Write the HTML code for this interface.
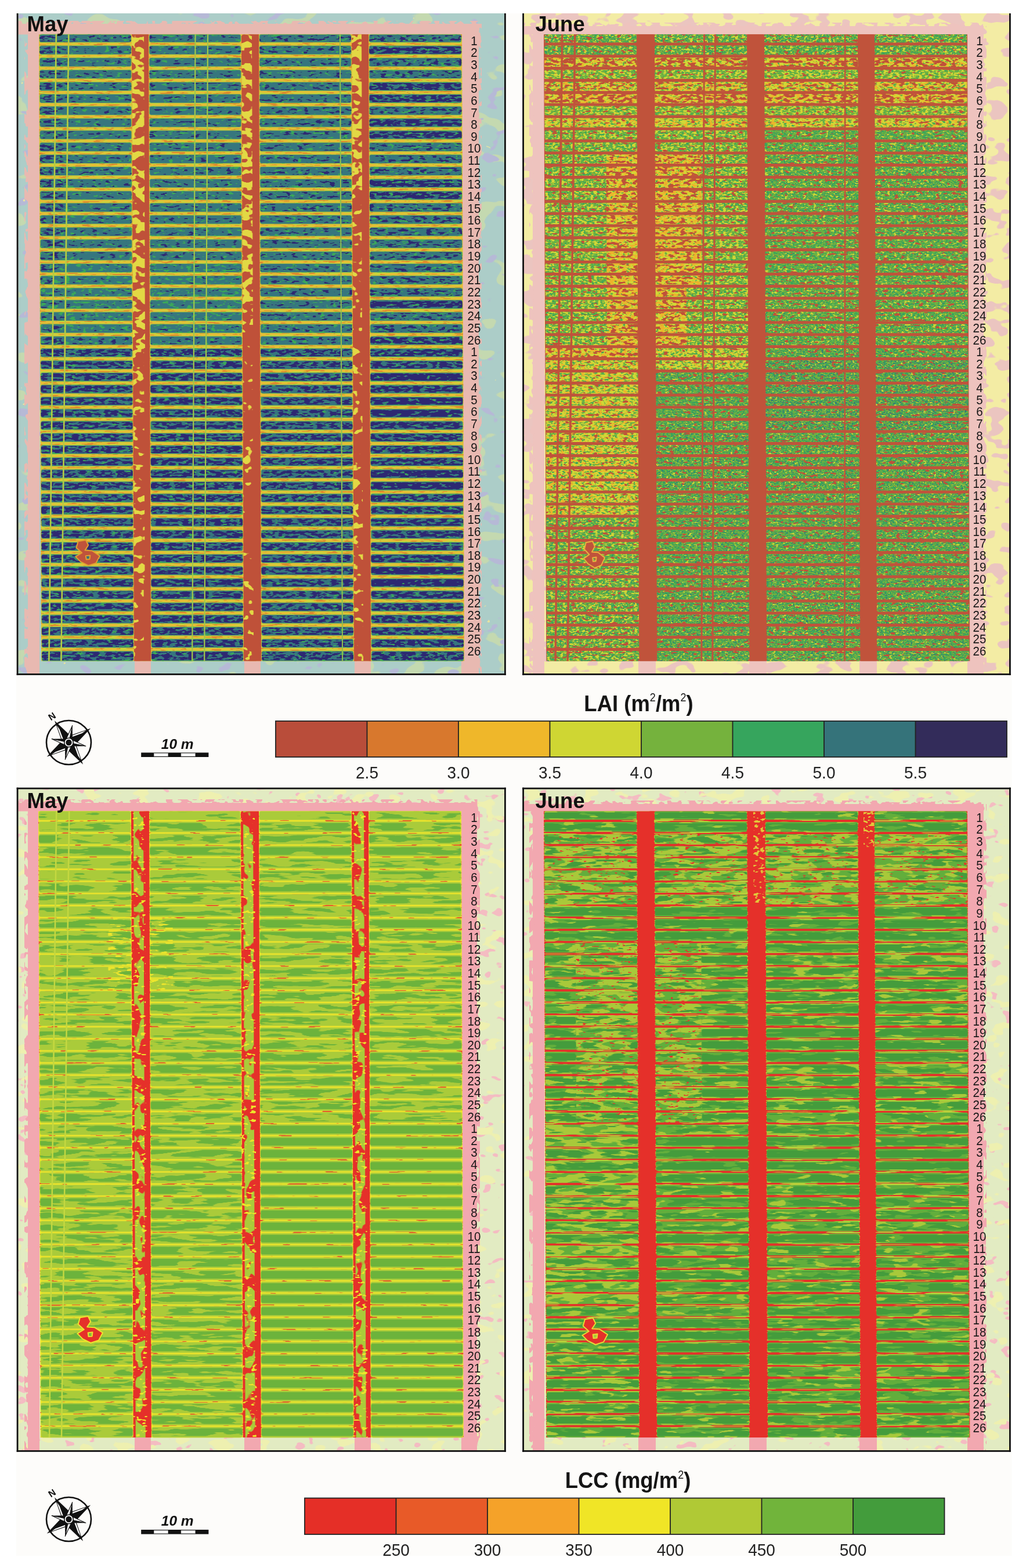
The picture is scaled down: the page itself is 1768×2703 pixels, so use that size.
<!DOCTYPE html>
<html><head><meta charset="utf-8"><title>LAI and LCC maps</title>
<style>html,body{margin:0;padding:0;background:#fff;}svg{display:block;}</style></head>
<body><svg width="1768" height="2703" viewBox="0 0 1768 2703">
<defs><filter id="n1" filterUnits="userSpaceOnUse" x="31.5" y="23" width="837.5" height="1138" color-interpolation-filters="sRGB"><feTurbulence type="fractalNoise" baseFrequency="0.02 0.035" numOctaves="2" seed="3"/><feColorMatrix type="matrix" values="0 0 0 0 0 0 0 0 0 0 0 0 0 0 0 30 0 0 0 -18.818" result="m"/><feComposite in="SourceGraphic" in2="m" operator="in"/></filter><filter id="n2" filterUnits="userSpaceOnUse" x="31.5" y="23" width="837.5" height="1138" color-interpolation-filters="sRGB"><feTurbulence type="fractalNoise" baseFrequency="0.03 0.05" numOctaves="2" seed="7"/><feColorMatrix type="matrix" values="0 0 0 0 0 0 0 0 0 0 0 0 0 0 0 30 0 0 0 -19.664" result="m"/><feComposite in="SourceGraphic" in2="m" operator="in"/></filter><filter id="n3" filterUnits="userSpaceOnUse" x="31.5" y="23" width="837.5" height="1138" color-interpolation-filters="sRGB"><feTurbulence type="fractalNoise" baseFrequency="0.06 0.08" numOctaves="2" seed="9"/><feColorMatrix type="matrix" values="0 0 0 0 0 0 0 0 0 0 0 0 0 0 0 30 0 0 0 -24.064" result="m"/><feComposite in="SourceGraphic" in2="m" operator="in"/></filter><filter id="n4" filterUnits="userSpaceOnUse" x="31.5" y="36" width="793" height="9" color-interpolation-filters="sRGB"><feTurbulence type="fractalNoise" baseFrequency="0.08 0.12" numOctaves="2" seed="81"/><feColorMatrix type="matrix" values="0 0 0 0 0 0 0 0 0 0 0 0 0 0 0 30 0 0 0 -14.911" result="m"/><feComposite in="SourceGraphic" in2="m" operator="in"/></filter><filter id="n5" filterUnits="userSpaceOnUse" x="42" y="41" width="10" height="1120" color-interpolation-filters="sRGB"><feTurbulence type="fractalNoise" baseFrequency="0.1 0.06" numOctaves="2" seed="82"/><feColorMatrix type="matrix" values="0 0 0 0 0 0 0 0 0 0 0 0 0 0 0 30 0 0 0 -14.911" result="m"/><feComposite in="SourceGraphic" in2="m" operator="in"/></filter><filter id="n6" filterUnits="userSpaceOnUse" x="822" y="41" width="8" height="1120" color-interpolation-filters="sRGB"><feTurbulence type="fractalNoise" baseFrequency="0.1 0.06" numOctaves="2" seed="83"/><feColorMatrix type="matrix" values="0 0 0 0 0 0 0 0 0 0 0 0 0 0 0 30 0 0 0 -15.382" result="m"/><feComposite in="SourceGraphic" in2="m" operator="in"/></filter><filter id="n7" filterUnits="userSpaceOnUse" x="67" y="59.3" width="729" height="1080.2" color-interpolation-filters="sRGB"><feTurbulence type="fractalNoise" baseFrequency="0.05 0.4" numOctaves="2" seed="17"/><feColorMatrix type="matrix" values="0 0 0 0 0 0 0 0 0 0 0 0 0 0 0 30 0 0 0 -16.912" result="m"/><feComposite in="SourceGraphic" in2="m" operator="in"/></filter><filter id="n8" filterUnits="userSpaceOnUse" x="67" y="59.3" width="729" height="1080.2" color-interpolation-filters="sRGB"><feTurbulence type="fractalNoise" baseFrequency="0.05 0.4" numOctaves="2" seed="18"/><feColorMatrix type="matrix" values="0 0 0 0 0 0 0 0 0 0 0 0 0 0 0 30 0 0 0 -17.500" result="m"/><feComposite in="SourceGraphic" in2="m" operator="in"/></filter><filter id="n9" filterUnits="userSpaceOnUse" x="105.5" y="57.3" width="501.5" height="1084.2" color-interpolation-filters="sRGB"><feTurbulence type="fractalNoise" baseFrequency="0.1 0.25" numOctaves="2" seed="13"/><feColorMatrix type="matrix" values="0 0 0 0 0 0 0 0 0 0 0 0 0 0 0 30 0 0 0 -19.147" result="m"/><feComposite in="SourceGraphic" in2="m" operator="in"/></filter><filter id="n10" filterUnits="userSpaceOnUse" x="66" y="57.3" width="731" height="1084.2" color-interpolation-filters="sRGB"><feTurbulence type="fractalNoise" baseFrequency="0.1 0.25" numOctaves="2" seed="13"/><feColorMatrix type="matrix" values="0 0 0 0 0 0 0 0 0 0 0 0 0 0 0 30 0 0 0 -18.325" result="m"/><feComposite in="SourceGraphic" in2="m" operator="in"/></filter><filter id="n11" filterUnits="userSpaceOnUse" x="66" y="76.8" width="731" height="520" color-interpolation-filters="sRGB"><feTurbulence type="fractalNoise" baseFrequency="0.1 0.25" numOctaves="2" seed="13"/><feColorMatrix type="matrix" values="0 0 0 0 0 0 0 0 0 0 0 0 0 0 0 30 0 0 0 -17.500" result="m"/><feComposite in="SourceGraphic" in2="m" operator="in"/></filter><filter id="n12" filterUnits="userSpaceOnUse" x="634" y="640.3" width="163" height="373.9" color-interpolation-filters="sRGB"><feTurbulence type="fractalNoise" baseFrequency="0.1 0.25" numOctaves="2" seed="13"/><feColorMatrix type="matrix" values="0 0 0 0 0 0 0 0 0 0 0 0 0 0 0 30 0 0 0 -16.912" result="m"/><feComposite in="SourceGraphic" in2="m" operator="in"/></filter><filter id="n13" filterUnits="userSpaceOnUse" x="105.5" y="454" width="311.5" height="120.4" color-interpolation-filters="sRGB"><feTurbulence type="fractalNoise" baseFrequency="0.09 0.24" numOctaves="2" seed="11"/><feColorMatrix type="matrix" values="0 0 0 0 0 0 0 0 0 0 0 0 0 0 0 30 0 0 0 -20.440" result="m"/><feComposite in="SourceGraphic" in2="m" operator="in"/></filter><filter id="n14" filterUnits="userSpaceOnUse" x="105.5" y="58.8" width="311.5" height="536.5" color-interpolation-filters="sRGB"><feTurbulence type="fractalNoise" baseFrequency="0.09 0.24" numOctaves="2" seed="11"/><feColorMatrix type="matrix" values="0 0 0 0 0 0 0 0 0 0 0 0 0 0 0 30 0 0 0 -19.147" result="m"/><feComposite in="SourceGraphic" in2="m" operator="in"/></filter><filter id="n15" filterUnits="userSpaceOnUse" x="105.5" y="58.8" width="501.5" height="536.5" color-interpolation-filters="sRGB"><feTurbulence type="fractalNoise" baseFrequency="0.09 0.24" numOctaves="2" seed="11"/><feColorMatrix type="matrix" values="0 0 0 0 0 0 0 0 0 0 0 0 0 0 0 30 0 0 0 -18.325" result="m"/><feComposite in="SourceGraphic" in2="m" operator="in"/></filter><filter id="n16" filterUnits="userSpaceOnUse" x="66" y="58.8" width="541" height="515.6" color-interpolation-filters="sRGB"><feTurbulence type="fractalNoise" baseFrequency="0.09 0.24" numOctaves="2" seed="11"/><feColorMatrix type="matrix" values="0 0 0 0 0 0 0 0 0 0 0 0 0 0 0 30 0 0 0 -17.500" result="m"/><feComposite in="SourceGraphic" in2="m" operator="in"/></filter><filter id="n17" filterUnits="userSpaceOnUse" x="634" y="99.2" width="163" height="475.2" color-interpolation-filters="sRGB"><feTurbulence type="fractalNoise" baseFrequency="0.09 0.24" numOctaves="2" seed="11"/><feColorMatrix type="matrix" values="0 0 0 0 0 0 0 0 0 0 0 0 0 0 0 30 0 0 0 -16.912" result="m"/><feComposite in="SourceGraphic" in2="m" operator="in"/></filter><filter id="n18" filterUnits="userSpaceOnUse" x="634" y="58.8" width="163" height="14.7" color-interpolation-filters="sRGB"><feTurbulence type="fractalNoise" baseFrequency="0.09 0.24" numOctaves="2" seed="11"/><feColorMatrix type="matrix" values="0 0 0 0 0 0 0 0 0 0 0 0 0 0 0 30 0 0 0 -16.324" result="m"/><feComposite in="SourceGraphic" in2="m" operator="in"/></filter><filter id="n19" filterUnits="userSpaceOnUse" x="66" y="78.3" width="43.5" height="517" color-interpolation-filters="sRGB"><feTurbulence type="fractalNoise" baseFrequency="0.09 0.24" numOctaves="2" seed="11"/><feColorMatrix type="matrix" values="0 0 0 0 0 0 0 0 0 0 0 0 0 0 0 30 0 0 0 -15.853" result="m"/><feComposite in="SourceGraphic" in2="m" operator="in"/></filter><filter id="n20" filterUnits="userSpaceOnUse" x="66" y="58.8" width="43.5" height="14.7" color-interpolation-filters="sRGB"><feTurbulence type="fractalNoise" baseFrequency="0.09 0.24" numOctaves="2" seed="11"/><feColorMatrix type="matrix" values="0 0 0 0 0 0 0 0 0 0 0 0 0 0 0 30 0 0 0 -15.382" result="m"/><feComposite in="SourceGraphic" in2="m" operator="in"/></filter><filter id="n21" filterUnits="userSpaceOnUse" x="445" y="600" width="162" height="540" color-interpolation-filters="sRGB"><feTurbulence type="fractalNoise" baseFrequency="0.09 0.24" numOctaves="2" seed="11"/><feColorMatrix type="matrix" values="0 0 0 0 0 0 0 0 0 0 0 0 0 0 0 30 0 0 0 -14.560" result="m"/><feComposite in="SourceGraphic" in2="m" operator="in"/></filter><filter id="n22" filterUnits="userSpaceOnUse" x="105.5" y="600" width="122.5" height="540" color-interpolation-filters="sRGB"><feTurbulence type="fractalNoise" baseFrequency="0.09 0.24" numOctaves="2" seed="11"/><feColorMatrix type="matrix" values="0 0 0 0 0 0 0 0 0 0 0 0 0 0 0 30 0 0 0 -14.089" result="m"/><feComposite in="SourceGraphic" in2="m" operator="in"/></filter><filter id="n23" filterUnits="userSpaceOnUse" x="66" y="600" width="731" height="540" color-interpolation-filters="sRGB"><feTurbulence type="fractalNoise" baseFrequency="0.09 0.24" numOctaves="2" seed="11"/><feColorMatrix type="matrix" values="0 0 0 0 0 0 0 0 0 0 0 0 0 0 0 30 0 0 0 -13.618" result="m"/><feComposite in="SourceGraphic" in2="m" operator="in"/></filter><filter id="n24" filterUnits="userSpaceOnUse" x="634" y="78.3" width="163" height="517" color-interpolation-filters="sRGB"><feTurbulence type="fractalNoise" baseFrequency="0.09 0.24" numOctaves="2" seed="11"/><feColorMatrix type="matrix" values="0 0 0 0 0 0 0 0 0 0 0 0 0 0 0 30 0 0 0 -13.147" result="m"/><feComposite in="SourceGraphic" in2="m" operator="in"/></filter><filter id="n25" filterUnits="userSpaceOnUse" x="634" y="641.8" width="163" height="370.9" color-interpolation-filters="sRGB"><feTurbulence type="fractalNoise" baseFrequency="0.09 0.24" numOctaves="2" seed="11"/><feColorMatrix type="matrix" values="0 0 0 0 0 0 0 0 0 0 0 0 0 0 0 30 0 0 0 -10.795" result="m"/><feComposite in="SourceGraphic" in2="m" operator="in"/></filter><filter id="n26" filterUnits="userSpaceOnUse" x="225" y="558" width="210" height="583" color-interpolation-filters="sRGB"><feTurbulence type="fractalNoise" baseFrequency="0.06 0.08" numOctaves="2" seed="21"/><feColorMatrix type="matrix" values="0 0 0 0 0 0 0 0 0 0 0 0 0 0 0 30 0 0 0 -19.147" result="m"/><feComposite in="SourceGraphic" in2="m" operator="in"/></filter><filter id="n27" filterUnits="userSpaceOnUse" x="604" y="328" width="20" height="813" color-interpolation-filters="sRGB"><feTurbulence type="fractalNoise" baseFrequency="0.06 0.08" numOctaves="2" seed="21"/><feColorMatrix type="matrix" values="0 0 0 0 0 0 0 0 0 0 0 0 0 0 0 30 0 0 0 -18.325" result="m"/><feComposite in="SourceGraphic" in2="m" operator="in"/></filter><filter id="n28" filterUnits="userSpaceOnUse" x="225" y="598" width="23" height="404" color-interpolation-filters="sRGB"><feTurbulence type="fractalNoise" baseFrequency="0.06 0.08" numOctaves="2" seed="21"/><feColorMatrix type="matrix" values="0 0 0 0 0 0 0 0 0 0 0 0 0 0 0 30 0 0 0 -16.912" result="m"/><feComposite in="SourceGraphic" in2="m" operator="in"/></filter><filter id="n29" filterUnits="userSpaceOnUse" x="225" y="57.3" width="400" height="544.7" color-interpolation-filters="sRGB"><feTurbulence type="fractalNoise" baseFrequency="0.06 0.08" numOctaves="2" seed="21"/><feColorMatrix type="matrix" values="0 0 0 0 0 0 0 0 0 0 0 0 0 0 0 30 0 0 0 -14.560" result="m"/><feComposite in="SourceGraphic" in2="m" operator="in"/></filter><filter id="n30" filterUnits="userSpaceOnUse" x="903" y="23" width="836" height="1138" color-interpolation-filters="sRGB"><feTurbulence type="fractalNoise" baseFrequency="0.03 0.05" numOctaves="2" seed="4"/><feColorMatrix type="matrix" values="0 0 0 0 0 0 0 0 0 0 0 0 0 0 0 30 0 0 0 -16.324" result="m"/><feComposite in="SourceGraphic" in2="m" operator="in"/></filter><filter id="n31" filterUnits="userSpaceOnUse" x="903" y="39" width="791" height="10" color-interpolation-filters="sRGB"><feTurbulence type="fractalNoise" baseFrequency="0.08 0.12" numOctaves="2" seed="84"/><feColorMatrix type="matrix" values="0 0 0 0 0 0 0 0 0 0 0 0 0 0 0 30 0 0 0 -14.911" result="m"/><feComposite in="SourceGraphic" in2="m" operator="in"/></filter><filter id="n32" filterUnits="userSpaceOnUse" x="912" y="45" width="10" height="1116" color-interpolation-filters="sRGB"><feTurbulence type="fractalNoise" baseFrequency="0.1 0.06" numOctaves="2" seed="85"/><feColorMatrix type="matrix" values="0 0 0 0 0 0 0 0 0 0 0 0 0 0 0 30 0 0 0 -14.911" result="m"/><feComposite in="SourceGraphic" in2="m" operator="in"/></filter><filter id="n33" filterUnits="userSpaceOnUse" x="1692" y="45" width="8" height="1116" color-interpolation-filters="sRGB"><feTurbulence type="fractalNoise" baseFrequency="0.1 0.06" numOctaves="2" seed="86"/><feColorMatrix type="matrix" values="0 0 0 0 0 0 0 0 0 0 0 0 0 0 0 30 0 0 0 -15.382" result="m"/><feComposite in="SourceGraphic" in2="m" operator="in"/></filter><filter id="n34" filterUnits="userSpaceOnUse" x="936" y="118.2" width="732" height="478.8" color-interpolation-filters="sRGB"><feTurbulence type="fractalNoise" baseFrequency="0.28 0.42" numOctaves="2" seed="31"/><feColorMatrix type="matrix" values="0 0 0 0 0 0 0 0 0 0 0 0 0 0 0 30 0 0 0 -16.912" result="m"/><feComposite in="SourceGraphic" in2="m" operator="in"/></filter><filter id="n35" filterUnits="userSpaceOnUse" x="936" y="139.1" width="732" height="750.1" color-interpolation-filters="sRGB"><feTurbulence type="fractalNoise" baseFrequency="0.28 0.42" numOctaves="2" seed="31"/><feColorMatrix type="matrix" values="0 0 0 0 0 0 0 0 0 0 0 0 0 0 0 30 0 0 0 -16.324" result="m"/><feComposite in="SourceGraphic" in2="m" operator="in"/></filter><filter id="n36" filterUnits="userSpaceOnUse" x="936" y="97.4" width="732" height="499.7" color-interpolation-filters="sRGB"><feTurbulence type="fractalNoise" baseFrequency="0.28 0.42" numOctaves="2" seed="31"/><feColorMatrix type="matrix" values="0 0 0 0 0 0 0 0 0 0 0 0 0 0 0 30 0 0 0 -15.853" result="m"/><feComposite in="SourceGraphic" in2="m" operator="in"/></filter><filter id="n37" filterUnits="userSpaceOnUse" x="936" y="890.4" width="163" height="251.1" color-interpolation-filters="sRGB"><feTurbulence type="fractalNoise" baseFrequency="0.28 0.42" numOctaves="2" seed="31"/><feColorMatrix type="matrix" values="0 0 0 0 0 0 0 0 0 0 0 0 0 0 0 30 0 0 0 -15.382" result="m"/><feComposite in="SourceGraphic" in2="m" operator="in"/></filter><filter id="n38" filterUnits="userSpaceOnUse" x="936" y="57.3" width="732" height="1084.2" color-interpolation-filters="sRGB"><feTurbulence type="fractalNoise" baseFrequency="0.28 0.42" numOctaves="2" seed="31"/><feColorMatrix type="matrix" values="0 0 0 0 0 0 0 0 0 0 0 0 0 0 0 30 0 0 0 -14.911" result="m"/><feComposite in="SourceGraphic" in2="m" operator="in"/></filter><filter id="n39" filterUnits="userSpaceOnUse" x="1126" y="598.2" width="542" height="543.2" color-interpolation-filters="sRGB"><feTurbulence type="fractalNoise" baseFrequency="0.18 0.32" numOctaves="2" seed="32"/><feColorMatrix type="matrix" values="0 0 0 0 0 0 0 0 0 0 0 0 0 0 0 30 0 0 0 -19.147" result="m"/><feComposite in="SourceGraphic" in2="m" operator="in"/></filter><filter id="n40" filterUnits="userSpaceOnUse" x="1315" y="222.6" width="353" height="374.5" color-interpolation-filters="sRGB"><feTurbulence type="fractalNoise" baseFrequency="0.18 0.32" numOctaves="2" seed="32"/><feColorMatrix type="matrix" values="0 0 0 0 0 0 0 0 0 0 0 0 0 0 0 30 0 0 0 -18.325" result="m"/><feComposite in="SourceGraphic" in2="m" operator="in"/></filter><filter id="n41" filterUnits="userSpaceOnUse" x="936" y="57.3" width="732" height="38.9" color-interpolation-filters="sRGB"><feTurbulence type="fractalNoise" baseFrequency="0.18 0.32" numOctaves="2" seed="32"/><feColorMatrix type="matrix" values="0 0 0 0 0 0 0 0 0 0 0 0 0 0 0 30 0 0 0 -16.912" result="m"/><feComposite in="SourceGraphic" in2="m" operator="in"/></filter><filter id="n42" filterUnits="userSpaceOnUse" x="936" y="890.4" width="163" height="251.1" color-interpolation-filters="sRGB"><feTurbulence type="fractalNoise" baseFrequency="0.18 0.32" numOctaves="2" seed="32"/><feColorMatrix type="matrix" values="0 0 0 0 0 0 0 0 0 0 0 0 0 0 0 30 0 0 0 -16.324" result="m"/><feComposite in="SourceGraphic" in2="m" operator="in"/></filter><filter id="n43" filterUnits="userSpaceOnUse" x="936" y="222.6" width="353" height="374.5" color-interpolation-filters="sRGB"><feTurbulence type="fractalNoise" baseFrequency="0.18 0.32" numOctaves="2" seed="32"/><feColorMatrix type="matrix" values="0 0 0 0 0 0 0 0 0 0 0 0 0 0 0 30 0 0 0 -15.853" result="m"/><feComposite in="SourceGraphic" in2="m" operator="in"/></filter><filter id="n44" filterUnits="userSpaceOnUse" x="936" y="118.2" width="732" height="82.3" color-interpolation-filters="sRGB"><feTurbulence type="fractalNoise" baseFrequency="0.18 0.32" numOctaves="2" seed="32"/><feColorMatrix type="matrix" values="0 0 0 0 0 0 0 0 0 0 0 0 0 0 0 30 0 0 0 -15.382" result="m"/><feComposite in="SourceGraphic" in2="m" operator="in"/></filter><filter id="n45" filterUnits="userSpaceOnUse" x="936" y="598.2" width="353" height="291" color-interpolation-filters="sRGB"><feTurbulence type="fractalNoise" baseFrequency="0.18 0.32" numOctaves="2" seed="32"/><feColorMatrix type="matrix" values="0 0 0 0 0 0 0 0 0 0 0 0 0 0 0 30 0 0 0 -13.618" result="m"/><feComposite in="SourceGraphic" in2="m" operator="in"/></filter><filter id="n46" filterUnits="userSpaceOnUse" x="936" y="139.1" width="732" height="82.3" color-interpolation-filters="sRGB"><feTurbulence type="fractalNoise" baseFrequency="0.18 0.32" numOctaves="2" seed="32"/><feColorMatrix type="matrix" values="0 0 0 0 0 0 0 0 0 0 0 0 0 0 0 30 0 0 0 -13.147" result="m"/><feComposite in="SourceGraphic" in2="m" operator="in"/></filter><filter id="n47" filterUnits="userSpaceOnUse" x="936" y="598.2" width="163" height="19.7" color-interpolation-filters="sRGB"><feTurbulence type="fractalNoise" baseFrequency="0.18 0.32" numOctaves="2" seed="32"/><feColorMatrix type="matrix" values="0 0 0 0 0 0 0 0 0 0 0 0 0 0 0 30 0 0 0 -12.088" result="m"/><feComposite in="SourceGraphic" in2="m" operator="in"/></filter><filter id="n48" filterUnits="userSpaceOnUse" x="936" y="97.4" width="732" height="499.7" color-interpolation-filters="sRGB"><feTurbulence type="fractalNoise" baseFrequency="0.18 0.32" numOctaves="2" seed="32"/><feColorMatrix type="matrix" values="0 0 0 0 0 0 0 0 0 0 0 0 0 0 0 30 0 0 0 -11.500" result="m"/><feComposite in="SourceGraphic" in2="m" operator="in"/></filter><filter id="n49" filterUnits="userSpaceOnUse" x="1126" y="598.2" width="163" height="40.5" color-interpolation-filters="sRGB"><feTurbulence type="fractalNoise" baseFrequency="0.14 0.28" numOctaves="2" seed="33"/><feColorMatrix type="matrix" values="0 0 0 0 0 0 0 0 0 0 0 0 0 0 0 30 0 0 0 -19.147" result="m"/><feComposite in="SourceGraphic" in2="m" operator="in"/></filter><filter id="n50" filterUnits="userSpaceOnUse" x="936" y="619.1" width="163" height="270.1" color-interpolation-filters="sRGB"><feTurbulence type="fractalNoise" baseFrequency="0.14 0.28" numOctaves="2" seed="33"/><feColorMatrix type="matrix" values="0 0 0 0 0 0 0 0 0 0 0 0 0 0 0 30 0 0 0 -17.500" result="m"/><feComposite in="SourceGraphic" in2="m" operator="in"/></filter><filter id="n51" filterUnits="userSpaceOnUse" x="936" y="201.7" width="732" height="19.7" color-interpolation-filters="sRGB"><feTurbulence type="fractalNoise" baseFrequency="0.14 0.28" numOctaves="2" seed="33"/><feColorMatrix type="matrix" values="0 0 0 0 0 0 0 0 0 0 0 0 0 0 0 30 0 0 0 -16.912" result="m"/><feComposite in="SourceGraphic" in2="m" operator="in"/></filter><filter id="n52" filterUnits="userSpaceOnUse" x="936" y="97.4" width="732" height="61.4" color-interpolation-filters="sRGB"><feTurbulence type="fractalNoise" baseFrequency="0.14 0.28" numOctaves="2" seed="33"/><feColorMatrix type="matrix" values="0 0 0 0 0 0 0 0 0 0 0 0 0 0 0 30 0 0 0 -16.324" result="m"/><feComposite in="SourceGraphic" in2="m" operator="in"/></filter><filter id="n53" filterUnits="userSpaceOnUse" x="936" y="160" width="732" height="19.7" color-interpolation-filters="sRGB"><feTurbulence type="fractalNoise" baseFrequency="0.14 0.28" numOctaves="2" seed="33"/><feColorMatrix type="matrix" values="0 0 0 0 0 0 0 0 0 0 0 0 0 0 0 30 0 0 0 -15.382" result="m"/><feComposite in="SourceGraphic" in2="m" operator="in"/></filter><filter id="n54" filterUnits="userSpaceOnUse" x="936" y="264.3" width="273.5" height="353.6" color-interpolation-filters="sRGB"><feTurbulence type="fractalNoise" baseFrequency="0.14 0.28" numOctaves="2" seed="33"/><feColorMatrix type="matrix" values="0 0 0 0 0 0 0 0 0 0 0 0 0 0 0 30 0 0 0 -14.911" result="m"/><feComposite in="SourceGraphic" in2="m" operator="in"/></filter><filter id="n55" filterUnits="userSpaceOnUse" x="936" y="57.3" width="732" height="1084.2" color-interpolation-filters="sRGB"><feTurbulence type="fractalNoise" baseFrequency="0.35 0.5" numOctaves="2" seed="35"/><feColorMatrix type="matrix" values="0 0 0 0 0 0 0 0 0 0 0 0 0 0 0 30 0 0 0 -20.440" result="m"/><feComposite in="SourceGraphic" in2="m" operator="in"/></filter><filter id="n56" filterUnits="userSpaceOnUse" x="1126" y="598.2" width="542" height="543.2" color-interpolation-filters="sRGB"><feTurbulence type="fractalNoise" baseFrequency="0.35 0.5" numOctaves="2" seed="35"/><feColorMatrix type="matrix" values="0 0 0 0 0 0 0 0 0 0 0 0 0 0 0 30 0 0 0 -19.147" result="m"/><feComposite in="SourceGraphic" in2="m" operator="in"/></filter><filter id="n57" filterUnits="userSpaceOnUse" x="1315" y="619.1" width="353" height="124" color-interpolation-filters="sRGB"><feTurbulence type="fractalNoise" baseFrequency="0.35 0.5" numOctaves="2" seed="35"/><feColorMatrix type="matrix" values="0 0 0 0 0 0 0 0 0 0 0 0 0 0 0 30 0 0 0 -17.500" result="m"/><feComposite in="SourceGraphic" in2="m" operator="in"/></filter><filter id="n58" filterUnits="userSpaceOnUse" x="936" y="57.3" width="732" height="1084.2" color-interpolation-filters="sRGB"><feTurbulence type="fractalNoise" baseFrequency="0.1 0.22" numOctaves="2" seed="34"/><feColorMatrix type="matrix" values="0 0 0 0 0 0 0 0 0 0 0 0 0 0 0 30 0 0 0 -19.147" result="m"/><feComposite in="SourceGraphic" in2="m" operator="in"/></filter><filter id="n59" filterUnits="userSpaceOnUse" x="936" y="201.7" width="732" height="19.7" color-interpolation-filters="sRGB"><feTurbulence type="fractalNoise" baseFrequency="0.1 0.22" numOctaves="2" seed="34"/><feColorMatrix type="matrix" values="0 0 0 0 0 0 0 0 0 0 0 0 0 0 0 30 0 0 0 -18.325" result="m"/><feComposite in="SourceGraphic" in2="m" operator="in"/></filter><filter id="n60" filterUnits="userSpaceOnUse" x="936" y="139.1" width="732" height="19.7" color-interpolation-filters="sRGB"><feTurbulence type="fractalNoise" baseFrequency="0.1 0.22" numOctaves="2" seed="34"/><feColorMatrix type="matrix" values="0 0 0 0 0 0 0 0 0 0 0 0 0 0 0 30 0 0 0 -16.912" result="m"/><feComposite in="SourceGraphic" in2="m" operator="in"/></filter><filter id="n61" filterUnits="userSpaceOnUse" x="936" y="264.3" width="273.5" height="353.6" color-interpolation-filters="sRGB"><feTurbulence type="fractalNoise" baseFrequency="0.1 0.22" numOctaves="2" seed="34"/><feColorMatrix type="matrix" values="0 0 0 0 0 0 0 0 0 0 0 0 0 0 0 30 0 0 0 -16.324" result="m"/><feComposite in="SourceGraphic" in2="m" operator="in"/></filter><filter id="n62" filterUnits="userSpaceOnUse" x="936" y="97.4" width="732" height="82.3" color-interpolation-filters="sRGB"><feTurbulence type="fractalNoise" baseFrequency="0.1 0.22" numOctaves="2" seed="34"/><feColorMatrix type="matrix" values="0 0 0 0 0 0 0 0 0 0 0 0 0 0 0 30 0 0 0 -14.911" result="m"/><feComposite in="SourceGraphic" in2="m" operator="in"/></filter><filter id="n63" filterUnits="userSpaceOnUse" x="31.5" y="1360.5" width="837.5" height="1139.5" color-interpolation-filters="sRGB"><feTurbulence type="fractalNoise" baseFrequency="0.04 0.06" numOctaves="2" seed="5"/><feColorMatrix type="matrix" values="0 0 0 0 0 0 0 0 0 0 0 0 0 0 0 30 0 0 0 -20.181" result="m"/><feComposite in="SourceGraphic" in2="m" operator="in"/></filter><filter id="n64" filterUnits="userSpaceOnUse" x="31.5" y="1360.5" width="837.5" height="1139.5" color-interpolation-filters="sRGB"><feTurbulence type="fractalNoise" baseFrequency="0.03 0.05" numOctaves="2" seed="8"/><feColorMatrix type="matrix" values="0 0 0 0 0 0 0 0 0 0 0 0 0 0 0 30 0 0 0 -18.325" result="m"/><feComposite in="SourceGraphic" in2="m" operator="in"/></filter><filter id="n65" filterUnits="userSpaceOnUse" x="31.5" y="1378" width="791" height="10" color-interpolation-filters="sRGB"><feTurbulence type="fractalNoise" baseFrequency="0.08 0.12" numOctaves="2" seed="87"/><feColorMatrix type="matrix" values="0 0 0 0 0 0 0 0 0 0 0 0 0 0 0 30 0 0 0 -14.911" result="m"/><feComposite in="SourceGraphic" in2="m" operator="in"/></filter><filter id="n66" filterUnits="userSpaceOnUse" x="42" y="1384" width="10" height="1116" color-interpolation-filters="sRGB"><feTurbulence type="fractalNoise" baseFrequency="0.1 0.06" numOctaves="2" seed="88"/><feColorMatrix type="matrix" values="0 0 0 0 0 0 0 0 0 0 0 0 0 0 0 30 0 0 0 -14.911" result="m"/><feComposite in="SourceGraphic" in2="m" operator="in"/></filter><filter id="n67" filterUnits="userSpaceOnUse" x="819" y="1384" width="8" height="1116" color-interpolation-filters="sRGB"><feTurbulence type="fractalNoise" baseFrequency="0.1 0.06" numOctaves="2" seed="89"/><feColorMatrix type="matrix" values="0 0 0 0 0 0 0 0 0 0 0 0 0 0 0 30 0 0 0 -15.382" result="m"/><feComposite in="SourceGraphic" in2="m" operator="in"/></filter><filter id="n68" filterUnits="userSpaceOnUse" x="66" y="1398.4" width="729" height="1079.6" color-interpolation-filters="sRGB"><feTurbulence type="fractalNoise" baseFrequency="0.04 0.35" numOctaves="2" seed="19"/><feColorMatrix type="matrix" values="0 0 0 0 0 0 0 0 0 0 0 0 0 0 0 30 0 0 0 -18.325" result="m"/><feComposite in="SourceGraphic" in2="m" operator="in"/></filter><filter id="n69" filterUnits="userSpaceOnUse" x="183.5" y="1623.1" width="43.5" height="84.7" color-interpolation-filters="sRGB"><feTurbulence type="fractalNoise" baseFrequency="0.06 0.15" numOctaves="2" seed="42"/><feColorMatrix type="matrix" values="0 0 0 0 0 0 0 0 0 0 0 0 0 0 0 30 0 0 0 -17.500" result="m"/><feComposite in="SourceGraphic" in2="m" operator="in"/></filter><filter id="n70" filterUnits="userSpaceOnUse" x="256" y="1623.1" width="43" height="84.7" color-interpolation-filters="sRGB"><feTurbulence type="fractalNoise" baseFrequency="0.06 0.15" numOctaves="2" seed="42"/><feColorMatrix type="matrix" values="0 0 0 0 0 0 0 0 0 0 0 0 0 0 0 30 0 0 0 -16.912" result="m"/><feComposite in="SourceGraphic" in2="m" operator="in"/></filter><filter id="n71" filterUnits="userSpaceOnUse" x="183.5" y="1581.4" width="43.5" height="42.9" color-interpolation-filters="sRGB"><feTurbulence type="fractalNoise" baseFrequency="0.06 0.15" numOctaves="2" seed="42"/><feColorMatrix type="matrix" values="0 0 0 0 0 0 0 0 0 0 0 0 0 0 0 30 0 0 0 -16.324" result="m"/><feComposite in="SourceGraphic" in2="m" operator="in"/></filter><filter id="n72" filterUnits="userSpaceOnUse" x="256" y="1581.4" width="43" height="42.9" color-interpolation-filters="sRGB"><feTurbulence type="fractalNoise" baseFrequency="0.06 0.15" numOctaves="2" seed="42"/><feColorMatrix type="matrix" values="0 0 0 0 0 0 0 0 0 0 0 0 0 0 0 30 0 0 0 -15.853" result="m"/><feComposite in="SourceGraphic" in2="m" operator="in"/></filter><filter id="n73" filterUnits="userSpaceOnUse" x="65" y="1398.8" width="162" height="14.4" color-interpolation-filters="sRGB"><feTurbulence type="fractalNoise" baseFrequency="0.02 0.14" numOctaves="2" seed="41"/><feColorMatrix type="matrix" values="0 0 0 0 0 0 0 0 0 0 0 0 0 0 0 30 0 0 0 -20.440" result="m"/><feComposite in="SourceGraphic" in2="m" operator="in"/></filter><filter id="n74" filterUnits="userSpaceOnUse" x="256" y="1398.8" width="160" height="14.4" color-interpolation-filters="sRGB"><feTurbulence type="fractalNoise" baseFrequency="0.02 0.14" numOctaves="2" seed="41"/><feColorMatrix type="matrix" values="0 0 0 0 0 0 0 0 0 0 0 0 0 0 0 30 0 0 0 -17.500" result="m"/><feComposite in="SourceGraphic" in2="m" operator="in"/></filter><filter id="n75" filterUnits="userSpaceOnUse" x="65" y="1398.8" width="731" height="118.7" color-interpolation-filters="sRGB"><feTurbulence type="fractalNoise" baseFrequency="0.02 0.14" numOctaves="2" seed="41"/><feColorMatrix type="matrix" values="0 0 0 0 0 0 0 0 0 0 0 0 0 0 0 30 0 0 0 -16.912" result="m"/><feComposite in="SourceGraphic" in2="m" operator="in"/></filter><filter id="n76" filterUnits="userSpaceOnUse" x="256" y="1479.4" width="160" height="38.1" color-interpolation-filters="sRGB"><feTurbulence type="fractalNoise" baseFrequency="0.02 0.14" numOctaves="2" seed="41"/><feColorMatrix type="matrix" values="0 0 0 0 0 0 0 0 0 0 0 0 0 0 0 30 0 0 0 -15.853" result="m"/><feComposite in="SourceGraphic" in2="m" operator="in"/></filter><filter id="n77" filterUnits="userSpaceOnUse" x="65" y="1416.8" width="731" height="518.1" color-interpolation-filters="sRGB"><feTurbulence type="fractalNoise" baseFrequency="0.02 0.14" numOctaves="2" seed="41"/><feColorMatrix type="matrix" values="0 0 0 0 0 0 0 0 0 0 0 0 0 0 0 30 0 0 0 -15.382" result="m"/><feComposite in="SourceGraphic" in2="m" operator="in"/></filter><filter id="n78" filterUnits="userSpaceOnUse" x="256" y="1416.8" width="160" height="518.1" color-interpolation-filters="sRGB"><feTurbulence type="fractalNoise" baseFrequency="0.02 0.14" numOctaves="2" seed="41"/><feColorMatrix type="matrix" values="0 0 0 0 0 0 0 0 0 0 0 0 0 0 0 30 0 0 0 -14.560" result="m"/><feComposite in="SourceGraphic" in2="m" operator="in"/></filter><filter id="n79" filterUnits="userSpaceOnUse" x="65" y="1416.8" width="731" height="1060.8" color-interpolation-filters="sRGB"><feTurbulence type="fractalNoise" baseFrequency="0.02 0.14" numOctaves="2" seed="41"/><feColorMatrix type="matrix" values="0 0 0 0 0 0 0 0 0 0 0 0 0 0 0 30 0 0 0 -14.089" result="m"/><feComposite in="SourceGraphic" in2="m" operator="in"/></filter><filter id="n80" filterUnits="userSpaceOnUse" x="65" y="1458.5" width="351" height="1019.1" color-interpolation-filters="sRGB"><feTurbulence type="fractalNoise" baseFrequency="0.02 0.14" numOctaves="2" seed="41"/><feColorMatrix type="matrix" values="0 0 0 0 0 0 0 0 0 0 0 0 0 0 0 30 0 0 0 -12.676" result="m"/><feComposite in="SourceGraphic" in2="m" operator="in"/></filter><filter id="n81" filterUnits="userSpaceOnUse" x="256" y="1458.5" width="160" height="392.9" color-interpolation-filters="sRGB"><feTurbulence type="fractalNoise" baseFrequency="0.02 0.14" numOctaves="2" seed="41"/><feColorMatrix type="matrix" values="0 0 0 0 0 0 0 0 0 0 0 0 0 0 0 30 0 0 0 -11.500" result="m"/><feComposite in="SourceGraphic" in2="m" operator="in"/></filter><filter id="n82" filterUnits="userSpaceOnUse" x="445" y="1458.5" width="351" height="392.9" color-interpolation-filters="sRGB"><feTurbulence type="fractalNoise" baseFrequency="0.02 0.14" numOctaves="2" seed="41"/><feColorMatrix type="matrix" values="0 0 0 0 0 0 0 0 0 0 0 0 0 0 0 30 0 0 0 -10.795" result="m"/><feComposite in="SourceGraphic" in2="m" operator="in"/></filter><filter id="n83" filterUnits="userSpaceOnUse" x="228" y="1396.4" width="401" height="1083.6" color-interpolation-filters="sRGB"><feTurbulence type="fractalNoise" baseFrequency="0.05 0.035" numOctaves="2" seed="51"/><feColorMatrix type="matrix" values="0 0 0 0 0 0 0 0 0 0 0 0 0 0 0 30 0 0 0 -13.618" result="m"/><feComposite in="SourceGraphic" in2="m" operator="in"/></filter><filter id="n84" filterUnits="userSpaceOnUse" x="224" y="1396.4" width="408" height="1083.6" color-interpolation-filters="sRGB"><feTurbulence type="fractalNoise" baseFrequency="0.1 0.2" numOctaves="2" seed="52"/><feColorMatrix type="matrix" values="0 0 0 0 0 0 0 0 0 0 0 0 0 0 0 30 0 0 0 -19.147" result="m"/><feComposite in="SourceGraphic" in2="m" operator="in"/></filter><filter id="n85" filterUnits="userSpaceOnUse" x="903" y="1360.5" width="836" height="1139.5" color-interpolation-filters="sRGB"><feTurbulence type="fractalNoise" baseFrequency="0.04 0.06" numOctaves="2" seed="6"/><feColorMatrix type="matrix" values="0 0 0 0 0 0 0 0 0 0 0 0 0 0 0 30 0 0 0 -20.181" result="m"/><feComposite in="SourceGraphic" in2="m" operator="in"/></filter><filter id="n86" filterUnits="userSpaceOnUse" x="903" y="1360.5" width="836" height="1139.5" color-interpolation-filters="sRGB"><feTurbulence type="fractalNoise" baseFrequency="0.03 0.05" numOctaves="2" seed="10"/><feColorMatrix type="matrix" values="0 0 0 0 0 0 0 0 0 0 0 0 0 0 0 30 0 0 0 -18.325" result="m"/><feComposite in="SourceGraphic" in2="m" operator="in"/></filter><filter id="n87" filterUnits="userSpaceOnUse" x="903" y="1380" width="791" height="10" color-interpolation-filters="sRGB"><feTurbulence type="fractalNoise" baseFrequency="0.08 0.12" numOctaves="2" seed="90"/><feColorMatrix type="matrix" values="0 0 0 0 0 0 0 0 0 0 0 0 0 0 0 30 0 0 0 -14.911" result="m"/><feComposite in="SourceGraphic" in2="m" operator="in"/></filter><filter id="n88" filterUnits="userSpaceOnUse" x="912" y="1386" width="10" height="1114" color-interpolation-filters="sRGB"><feTurbulence type="fractalNoise" baseFrequency="0.1 0.06" numOctaves="2" seed="91"/><feColorMatrix type="matrix" values="0 0 0 0 0 0 0 0 0 0 0 0 0 0 0 30 0 0 0 -14.911" result="m"/><feComposite in="SourceGraphic" in2="m" operator="in"/></filter><filter id="n89" filterUnits="userSpaceOnUse" x="1692" y="1386" width="8" height="1114" color-interpolation-filters="sRGB"><feTurbulence type="fractalNoise" baseFrequency="0.1 0.06" numOctaves="2" seed="92"/><feColorMatrix type="matrix" values="0 0 0 0 0 0 0 0 0 0 0 0 0 0 0 30 0 0 0 -15.382" result="m"/><feComposite in="SourceGraphic" in2="m" operator="in"/></filter><filter id="n90" filterUnits="userSpaceOnUse" x="937" y="1398.4" width="730" height="1079.6" color-interpolation-filters="sRGB"><feTurbulence type="fractalNoise" baseFrequency="0.012 0.5" numOctaves="2" seed="64"/><feColorMatrix type="matrix" values="0 0 0 0 0 0 0 0 0 0 0 0 0 0 0 30 0 0 0 -12.441" result="m"/><feComposite in="SourceGraphic" in2="m" operator="in"/></filter><filter id="n91" filterUnits="userSpaceOnUse" x="936" y="1396.4" width="732" height="957.8" color-interpolation-filters="sRGB"><feTurbulence type="fractalNoise" baseFrequency="0.03 0.1" numOctaves="2" seed="62"/><feColorMatrix type="matrix" values="0 0 0 0 0 0 0 0 0 0 0 0 0 0 0 30 0 0 0 -17.500" result="m"/><feComposite in="SourceGraphic" in2="m" operator="in"/></filter><filter id="n92" filterUnits="userSpaceOnUse" x="936" y="1769.8" width="732" height="710.2" color-interpolation-filters="sRGB"><feTurbulence type="fractalNoise" baseFrequency="0.03 0.1" numOctaves="2" seed="62"/><feColorMatrix type="matrix" values="0 0 0 0 0 0 0 0 0 0 0 0 0 0 0 30 0 0 0 -16.912" result="m"/><feComposite in="SourceGraphic" in2="m" operator="in"/></filter><filter id="n93" filterUnits="userSpaceOnUse" x="936" y="1623.7" width="732" height="751.3" color-interpolation-filters="sRGB"><feTurbulence type="fractalNoise" baseFrequency="0.03 0.1" numOctaves="2" seed="62"/><feColorMatrix type="matrix" values="0 0 0 0 0 0 0 0 0 0 0 0 0 0 0 30 0 0 0 -16.324" result="m"/><feComposite in="SourceGraphic" in2="m" operator="in"/></filter><filter id="n94" filterUnits="userSpaceOnUse" x="936" y="1644.6" width="732" height="292.2" color-interpolation-filters="sRGB"><feTurbulence type="fractalNoise" baseFrequency="0.03 0.1" numOctaves="2" seed="62"/><feColorMatrix type="matrix" values="0 0 0 0 0 0 0 0 0 0 0 0 0 0 0 30 0 0 0 -15.853" result="m"/><feComposite in="SourceGraphic" in2="m" operator="in"/></filter><filter id="n95" filterUnits="userSpaceOnUse" x="936" y="1895" width="353" height="375.7" color-interpolation-filters="sRGB"><feTurbulence type="fractalNoise" baseFrequency="0.03 0.1" numOctaves="2" seed="62"/><feColorMatrix type="matrix" values="0 0 0 0 0 0 0 0 0 0 0 0 0 0 0 30 0 0 0 -15.382" result="m"/><feComposite in="SourceGraphic" in2="m" operator="in"/></filter><filter id="n96" filterUnits="userSpaceOnUse" x="936" y="1623.7" width="732" height="730.5" color-interpolation-filters="sRGB"><feTurbulence type="fractalNoise" baseFrequency="0.03 0.1" numOctaves="2" seed="62"/><feColorMatrix type="matrix" values="0 0 0 0 0 0 0 0 0 0 0 0 0 0 0 30 0 0 0 -14.911" result="m"/><feComposite in="SourceGraphic" in2="m" operator="in"/></filter><filter id="n97" filterUnits="userSpaceOnUse" x="936" y="1686.3" width="732" height="688.7" color-interpolation-filters="sRGB"><feTurbulence type="fractalNoise" baseFrequency="0.03 0.1" numOctaves="2" seed="62"/><feColorMatrix type="matrix" values="0 0 0 0 0 0 0 0 0 0 0 0 0 0 0 30 0 0 0 -14.560" result="m"/><feComposite in="SourceGraphic" in2="m" operator="in"/></filter><filter id="n98" filterUnits="userSpaceOnUse" x="936" y="1435.9" width="732" height="1044.1" color-interpolation-filters="sRGB"><feTurbulence type="fractalNoise" baseFrequency="0.03 0.1" numOctaves="2" seed="62"/><feColorMatrix type="matrix" values="0 0 0 0 0 0 0 0 0 0 0 0 0 0 0 30 0 0 0 -14.089" result="m"/><feComposite in="SourceGraphic" in2="m" operator="in"/></filter><filter id="n99" filterUnits="userSpaceOnUse" x="936" y="1435.9" width="732" height="1001.8" color-interpolation-filters="sRGB"><feTurbulence type="fractalNoise" baseFrequency="0.03 0.1" numOctaves="2" seed="62"/><feColorMatrix type="matrix" values="0 0 0 0 0 0 0 0 0 0 0 0 0 0 0 30 0 0 0 -13.618" result="m"/><feComposite in="SourceGraphic" in2="m" operator="in"/></filter><filter id="n100" filterUnits="userSpaceOnUse" x="936" y="1456.7" width="353" height="20.9" color-interpolation-filters="sRGB"><feTurbulence type="fractalNoise" baseFrequency="0.03 0.1" numOctaves="2" seed="62"/><feColorMatrix type="matrix" values="0 0 0 0 0 0 0 0 0 0 0 0 0 0 0 30 0 0 0 -13.147" result="m"/><feComposite in="SourceGraphic" in2="m" operator="in"/></filter><filter id="n101" filterUnits="userSpaceOnUse" x="936" y="1540.2" width="353" height="918.3" color-interpolation-filters="sRGB"><feTurbulence type="fractalNoise" baseFrequency="0.03 0.1" numOctaves="2" seed="62"/><feColorMatrix type="matrix" values="0 0 0 0 0 0 0 0 0 0 0 0 0 0 0 30 0 0 0 -12.676" result="m"/><feComposite in="SourceGraphic" in2="m" operator="in"/></filter><filter id="n102" filterUnits="userSpaceOnUse" x="936" y="1435.9" width="732" height="500.9" color-interpolation-filters="sRGB"><feTurbulence type="fractalNoise" baseFrequency="0.1 0.3" numOctaves="2" seed="63"/><feColorMatrix type="matrix" values="0 0 0 0 0 0 0 0 0 0 0 0 0 0 0 30 0 0 0 -20.440" result="m"/><feComposite in="SourceGraphic" in2="m" operator="in"/></filter><filter id="n103" filterUnits="userSpaceOnUse" x="936" y="2147.6" width="163" height="16.5" color-interpolation-filters="sRGB"><feTurbulence type="fractalNoise" baseFrequency="0.025 0.14" numOctaves="2" seed="61"/><feColorMatrix type="matrix" values="0 0 0 0 0 0 0 0 0 0 0 0 0 0 0 30 0 0 0 -20.440" result="m"/><feComposite in="SourceGraphic" in2="m" operator="in"/></filter><filter id="n104" filterUnits="userSpaceOnUse" x="989" y="1625.9" width="220.5" height="16.5" color-interpolation-filters="sRGB"><feTurbulence type="fractalNoise" baseFrequency="0.025 0.14" numOctaves="2" seed="61"/><feColorMatrix type="matrix" values="0 0 0 0 0 0 0 0 0 0 0 0 0 0 0 30 0 0 0 -19.147" result="m"/><feComposite in="SourceGraphic" in2="m" operator="in"/></filter><filter id="n105" filterUnits="userSpaceOnUse" x="936" y="1521.5" width="732" height="726.1" color-interpolation-filters="sRGB"><feTurbulence type="fractalNoise" baseFrequency="0.025 0.14" numOctaves="2" seed="61"/><feColorMatrix type="matrix" values="0 0 0 0 0 0 0 0 0 0 0 0 0 0 0 30 0 0 0 -18.325" result="m"/><feComposite in="SourceGraphic" in2="m" operator="in"/></filter><filter id="n106" filterUnits="userSpaceOnUse" x="936" y="1438.1" width="732" height="600.8" color-interpolation-filters="sRGB"><feTurbulence type="fractalNoise" baseFrequency="0.025 0.14" numOctaves="2" seed="61"/><feColorMatrix type="matrix" values="0 0 0 0 0 0 0 0 0 0 0 0 0 0 0 30 0 0 0 -17.500" result="m"/><feComposite in="SourceGraphic" in2="m" operator="in"/></filter><filter id="n107" filterUnits="userSpaceOnUse" x="936" y="1479.8" width="732" height="746.9" color-interpolation-filters="sRGB"><feTurbulence type="fractalNoise" baseFrequency="0.025 0.14" numOctaves="2" seed="61"/><feColorMatrix type="matrix" values="0 0 0 0 0 0 0 0 0 0 0 0 0 0 0 30 0 0 0 -16.912" result="m"/><feComposite in="SourceGraphic" in2="m" operator="in"/></filter><filter id="n108" filterUnits="userSpaceOnUse" x="936" y="1438.1" width="732" height="684.3" color-interpolation-filters="sRGB"><feTurbulence type="fractalNoise" baseFrequency="0.025 0.14" numOctaves="2" seed="61"/><feColorMatrix type="matrix" values="0 0 0 0 0 0 0 0 0 0 0 0 0 0 0 30 0 0 0 -16.324" result="m"/><feComposite in="SourceGraphic" in2="m" operator="in"/></filter><filter id="n109" filterUnits="userSpaceOnUse" x="936" y="1458.9" width="353" height="433.9" color-interpolation-filters="sRGB"><feTurbulence type="fractalNoise" baseFrequency="0.025 0.14" numOctaves="2" seed="61"/><feColorMatrix type="matrix" values="0 0 0 0 0 0 0 0 0 0 0 0 0 0 0 30 0 0 0 -15.853" result="m"/><feComposite in="SourceGraphic" in2="m" operator="in"/></filter><filter id="n110" filterUnits="userSpaceOnUse" x="936" y="1542.4" width="732" height="830.4" color-interpolation-filters="sRGB"><feTurbulence type="fractalNoise" baseFrequency="0.025 0.14" numOctaves="2" seed="61"/><feColorMatrix type="matrix" values="0 0 0 0 0 0 0 0 0 0 0 0 0 0 0 30 0 0 0 -15.382" result="m"/><feComposite in="SourceGraphic" in2="m" operator="in"/></filter><filter id="n111" filterUnits="userSpaceOnUse" x="936" y="1730.2" width="732" height="538.2" color-interpolation-filters="sRGB"><feTurbulence type="fractalNoise" baseFrequency="0.025 0.14" numOctaves="2" seed="61"/><feColorMatrix type="matrix" values="0 0 0 0 0 0 0 0 0 0 0 0 0 0 0 30 0 0 0 -14.911" result="m"/><feComposite in="SourceGraphic" in2="m" operator="in"/></filter><filter id="n112" filterUnits="userSpaceOnUse" x="936" y="1646.8" width="732" height="746.9" color-interpolation-filters="sRGB"><feTurbulence type="fractalNoise" baseFrequency="0.025 0.14" numOctaves="2" seed="61"/><feColorMatrix type="matrix" values="0 0 0 0 0 0 0 0 0 0 0 0 0 0 0 30 0 0 0 -14.560" result="m"/><feComposite in="SourceGraphic" in2="m" operator="in"/></filter><filter id="n113" filterUnits="userSpaceOnUse" x="936" y="1688.5" width="732" height="642.6" color-interpolation-filters="sRGB"><feTurbulence type="fractalNoise" baseFrequency="0.025 0.14" numOctaves="2" seed="61"/><feColorMatrix type="matrix" values="0 0 0 0 0 0 0 0 0 0 0 0 0 0 0 30 0 0 0 -14.089" result="m"/><feComposite in="SourceGraphic" in2="m" operator="in"/></filter><filter id="n114" filterUnits="userSpaceOnUse" x="936" y="1897.2" width="732" height="517.4" color-interpolation-filters="sRGB"><feTurbulence type="fractalNoise" baseFrequency="0.025 0.14" numOctaves="2" seed="61"/><feColorMatrix type="matrix" values="0 0 0 0 0 0 0 0 0 0 0 0 0 0 0 30 0 0 0 -13.618" result="m"/><feComposite in="SourceGraphic" in2="m" operator="in"/></filter><filter id="n115" filterUnits="userSpaceOnUse" x="936" y="1667.6" width="732" height="788.7" color-interpolation-filters="sRGB"><feTurbulence type="fractalNoise" baseFrequency="0.025 0.14" numOctaves="2" seed="61"/><feColorMatrix type="matrix" values="0 0 0 0 0 0 0 0 0 0 0 0 0 0 0 30 0 0 0 -13.147" result="m"/><feComposite in="SourceGraphic" in2="m" operator="in"/></filter><filter id="n116" filterUnits="userSpaceOnUse" x="936" y="1646.8" width="732" height="454.7" color-interpolation-filters="sRGB"><feTurbulence type="fractalNoise" baseFrequency="0.025 0.14" numOctaves="2" seed="61"/><feColorMatrix type="matrix" values="0 0 0 0 0 0 0 0 0 0 0 0 0 0 0 30 0 0 0 -12.676" result="m"/><feComposite in="SourceGraphic" in2="m" operator="in"/></filter><filter id="n117" filterUnits="userSpaceOnUse" x="936" y="1688.5" width="732" height="789.3" color-interpolation-filters="sRGB"><feTurbulence type="fractalNoise" baseFrequency="0.025 0.14" numOctaves="2" seed="61"/><feColorMatrix type="matrix" values="0 0 0 0 0 0 0 0 0 0 0 0 0 0 0 30 0 0 0 -12.088" result="m"/><feComposite in="SourceGraphic" in2="m" operator="in"/></filter><filter id="n118" filterUnits="userSpaceOnUse" x="936" y="1417.2" width="732" height="1018.2" color-interpolation-filters="sRGB"><feTurbulence type="fractalNoise" baseFrequency="0.025 0.14" numOctaves="2" seed="61"/><feColorMatrix type="matrix" values="0 0 0 0 0 0 0 0 0 0 0 0 0 0 0 30 0 0 0 -11.500" result="m"/><feComposite in="SourceGraphic" in2="m" operator="in"/></filter><filter id="n119" filterUnits="userSpaceOnUse" x="936" y="1398.6" width="732" height="1057.7" color-interpolation-filters="sRGB"><feTurbulence type="fractalNoise" baseFrequency="0.025 0.14" numOctaves="2" seed="61"/><feColorMatrix type="matrix" values="0 0 0 0 0 0 0 0 0 0 0 0 0 0 0 30 0 0 0 -10.795" result="m"/><feComposite in="SourceGraphic" in2="m" operator="in"/></filter><filter id="n120" filterUnits="userSpaceOnUse" x="936" y="1772" width="732" height="580" color-interpolation-filters="sRGB"><feTurbulence type="fractalNoise" baseFrequency="0.025 0.14" numOctaves="2" seed="61"/><feColorMatrix type="matrix" values="0 0 0 0 0 0 0 0 0 0 0 0 0 0 0 30 0 0 0 -9.853" result="m"/><feComposite in="SourceGraphic" in2="m" operator="in"/></filter><filter id="n121" filterUnits="userSpaceOnUse" x="1296" y="1396.4" width="212" height="165.6" color-interpolation-filters="sRGB"><feTurbulence type="fractalNoise" baseFrequency="0.12 0.2" numOctaves="2" seed="71"/><feColorMatrix type="matrix" values="0 0 0 0 0 0 0 0 0 0 0 0 0 0 0 30 0 0 0 -17.500" result="m"/><feComposite in="SourceGraphic" in2="m" operator="in"/></filter></defs>
<rect x="0" y="0" width="1768" height="2703" fill="#ffffff"/>
<rect x="28" y="23" width="1715.7" height="2659" fill="#fdfcfa"/>
<g>
<rect x="31.5" y="23" width="837.5" height="1138" fill="#accdc8"/>
<rect x="31.5" y="23" width="837.5" height="1138" fill="#c4d9b0" filter="url(#n1)"/>
<rect x="31.5" y="23" width="837.5" height="1138" fill="#b6b9d6" filter="url(#n2)"/>
<rect x="31.5" y="23" width="837.5" height="1138" fill="#e8e4a0" filter="url(#n3)"/>
<rect x="31.5" y="41" width="793" height="18.5" fill="#e8b9b1"/>
<rect x="48" y="41" width="20" height="1120" fill="#e8b9b1"/>
<rect x="795" y="41" width="30" height="1120" fill="#e8b9b1"/>
<rect x="232" y="1130" width="28" height="31" fill="#e8b9b1"/>
<rect x="421" y="1130" width="28" height="31" fill="#e8b9b1"/>
<rect x="611" y="1130" width="28" height="31" fill="#e8b9b1"/>
<rect x="31.5" y="36" width="793" height="9" fill="#e8b9b1" filter="url(#n4)"/>
<rect x="42" y="41" width="10" height="1120" fill="#e8b9b1" filter="url(#n5)"/>
<rect x="822" y="41" width="8" height="1120" fill="#e8b9b1" filter="url(#n6)"/>
<g transform="matrix(1 0 0.00380 1 -0.225 0)">
<rect x="67" y="59.3" width="729" height="1080.2" fill="#e4be36"/>
<rect x="67" y="59.3" width="729" height="1080.2" fill="#dd8a2e" filter="url(#n7)"/>
<rect x="67" y="59.3" width="729" height="1080.2" fill="#c9d43c" filter="url(#n8)"/>
<g fill="#36767e" stroke="#8cc04a" stroke-width="0.8">
<rect x="68" y="59.3" width="158" height="13.7" rx="3"/>
<rect x="257" y="59.3" width="158" height="13.7" rx="3"/>
<rect x="447" y="59.3" width="158" height="13.7" rx="3"/>
<rect x="636" y="59.3" width="159" height="13.7" rx="3"/>
<rect x="68" y="78.8" width="158" height="15.1" rx="3"/>
<rect x="257" y="78.8" width="158" height="15.1" rx="3"/>
<rect x="447" y="78.8" width="158" height="15.1" rx="3"/>
<rect x="636" y="78.8" width="159" height="15.1" rx="3"/>
<rect x="68" y="99.7" width="158" height="15.1" rx="3"/>
<rect x="257" y="99.7" width="158" height="15.1" rx="3"/>
<rect x="447" y="99.7" width="158" height="15.1" rx="3"/>
<rect x="636" y="99.7" width="159" height="15.1" rx="3"/>
<rect x="68" y="120.5" width="158" height="15.1" rx="3"/>
<rect x="257" y="120.5" width="158" height="15.1" rx="3"/>
<rect x="447" y="120.5" width="158" height="15.1" rx="3"/>
<rect x="636" y="120.5" width="159" height="15.1" rx="3"/>
<rect x="68" y="141.4" width="158" height="15.1" rx="3"/>
<rect x="257" y="141.4" width="158" height="15.1" rx="3"/>
<rect x="447" y="141.4" width="158" height="15.1" rx="3"/>
<rect x="636" y="141.4" width="159" height="15.1" rx="3"/>
<rect x="68" y="162.3" width="158" height="15.1" rx="3"/>
<rect x="257" y="162.3" width="158" height="15.1" rx="3"/>
<rect x="447" y="162.3" width="158" height="15.1" rx="3"/>
<rect x="636" y="162.3" width="159" height="15.1" rx="3"/>
<rect x="68" y="183.2" width="158" height="15.1" rx="3"/>
<rect x="257" y="183.2" width="158" height="15.1" rx="3"/>
<rect x="447" y="183.2" width="158" height="15.1" rx="3"/>
<rect x="636" y="183.2" width="159" height="15.1" rx="3"/>
<rect x="68" y="204" width="158" height="15.1" rx="3"/>
<rect x="257" y="204" width="158" height="15.1" rx="3"/>
<rect x="447" y="204" width="158" height="15.1" rx="3"/>
<rect x="636" y="204" width="159" height="15.1" rx="3"/>
<rect x="68" y="224.9" width="158" height="15.1" rx="3"/>
<rect x="257" y="224.9" width="158" height="15.1" rx="3"/>
<rect x="447" y="224.9" width="158" height="15.1" rx="3"/>
<rect x="636" y="224.9" width="159" height="15.1" rx="3"/>
<rect x="68" y="245.8" width="158" height="15.1" rx="3"/>
<rect x="257" y="245.8" width="158" height="15.1" rx="3"/>
<rect x="447" y="245.8" width="158" height="15.1" rx="3"/>
<rect x="636" y="245.8" width="159" height="15.1" rx="3"/>
<rect x="68" y="266.6" width="158" height="15.1" rx="3"/>
<rect x="257" y="266.6" width="158" height="15.1" rx="3"/>
<rect x="447" y="266.6" width="158" height="15.1" rx="3"/>
<rect x="636" y="266.6" width="159" height="15.1" rx="3"/>
<rect x="68" y="287.5" width="158" height="15.1" rx="3"/>
<rect x="257" y="287.5" width="158" height="15.1" rx="3"/>
<rect x="447" y="287.5" width="158" height="15.1" rx="3"/>
<rect x="636" y="287.5" width="159" height="15.1" rx="3"/>
<rect x="68" y="308.4" width="158" height="15.1" rx="3"/>
<rect x="257" y="308.4" width="158" height="15.1" rx="3"/>
<rect x="447" y="308.4" width="158" height="15.1" rx="3"/>
<rect x="636" y="308.4" width="159" height="15.1" rx="3"/>
<rect x="68" y="329.2" width="158" height="15.1" rx="3"/>
<rect x="257" y="329.2" width="158" height="15.1" rx="3"/>
<rect x="447" y="329.2" width="158" height="15.1" rx="3"/>
<rect x="636" y="329.2" width="159" height="15.1" rx="3"/>
<rect x="68" y="350.1" width="158" height="15.1" rx="3"/>
<rect x="257" y="350.1" width="158" height="15.1" rx="3"/>
<rect x="447" y="350.1" width="158" height="15.1" rx="3"/>
<rect x="636" y="350.1" width="159" height="15.1" rx="3"/>
<rect x="68" y="371" width="158" height="15.1" rx="3"/>
<rect x="257" y="371" width="158" height="15.1" rx="3"/>
<rect x="447" y="371" width="158" height="15.1" rx="3"/>
<rect x="636" y="371" width="159" height="15.1" rx="3"/>
<rect x="68" y="391.9" width="158" height="15.1" rx="3"/>
<rect x="257" y="391.9" width="158" height="15.1" rx="3"/>
<rect x="447" y="391.9" width="158" height="15.1" rx="3"/>
<rect x="636" y="391.9" width="159" height="15.1" rx="3"/>
<rect x="68" y="412.7" width="158" height="15.1" rx="3"/>
<rect x="257" y="412.7" width="158" height="15.1" rx="3"/>
<rect x="447" y="412.7" width="158" height="15.1" rx="3"/>
<rect x="636" y="412.7" width="159" height="15.1" rx="3"/>
<rect x="68" y="433.6" width="158" height="15.1" rx="3"/>
<rect x="257" y="433.6" width="158" height="15.1" rx="3"/>
<rect x="447" y="433.6" width="158" height="15.1" rx="3"/>
<rect x="636" y="433.6" width="159" height="15.1" rx="3"/>
<rect x="68" y="454.5" width="158" height="15.1" rx="3"/>
<rect x="257" y="454.5" width="158" height="15.1" rx="3"/>
<rect x="447" y="454.5" width="158" height="15.1" rx="3"/>
<rect x="636" y="454.5" width="159" height="15.1" rx="3"/>
<rect x="68" y="475.3" width="158" height="15.1" rx="3"/>
<rect x="257" y="475.3" width="158" height="15.1" rx="3"/>
<rect x="447" y="475.3" width="158" height="15.1" rx="3"/>
<rect x="636" y="475.3" width="159" height="15.1" rx="3"/>
<rect x="68" y="496.2" width="158" height="15.1" rx="3"/>
<rect x="257" y="496.2" width="158" height="15.1" rx="3"/>
<rect x="447" y="496.2" width="158" height="15.1" rx="3"/>
<rect x="636" y="496.2" width="159" height="15.1" rx="3"/>
<rect x="68" y="517.1" width="158" height="15.1" rx="3"/>
<rect x="257" y="517.1" width="158" height="15.1" rx="3"/>
<rect x="447" y="517.1" width="158" height="15.1" rx="3"/>
<rect x="636" y="517.1" width="159" height="15.1" rx="3"/>
<rect x="68" y="537.9" width="158" height="15.1" rx="3"/>
<rect x="257" y="537.9" width="158" height="15.1" rx="3"/>
<rect x="447" y="537.9" width="158" height="15.1" rx="3"/>
<rect x="636" y="537.9" width="159" height="15.1" rx="3"/>
<rect x="68" y="558.8" width="158" height="15.1" rx="3"/>
<rect x="257" y="558.8" width="158" height="15.1" rx="3"/>
<rect x="447" y="558.8" width="158" height="15.1" rx="3"/>
<rect x="636" y="558.8" width="159" height="15.1" rx="3"/>
<rect x="68" y="579.7" width="158" height="15.1" rx="3"/>
<rect x="257" y="579.7" width="158" height="15.1" rx="3"/>
<rect x="447" y="579.7" width="158" height="15.1" rx="3"/>
<rect x="636" y="579.7" width="159" height="15.1" rx="3"/>
<rect x="68" y="600.5" width="158" height="15.1" rx="3"/>
<rect x="257" y="600.5" width="158" height="15.1" rx="3"/>
<rect x="447" y="600.5" width="158" height="15.1" rx="3"/>
<rect x="636" y="600.5" width="159" height="15.1" rx="3"/>
<rect x="68" y="621.4" width="158" height="15.1" rx="3"/>
<rect x="257" y="621.4" width="158" height="15.1" rx="3"/>
<rect x="447" y="621.4" width="158" height="15.1" rx="3"/>
<rect x="636" y="621.4" width="159" height="15.1" rx="3"/>
<rect x="68" y="642.3" width="158" height="15.1" rx="3"/>
<rect x="257" y="642.3" width="158" height="15.1" rx="3"/>
<rect x="447" y="642.3" width="158" height="15.1" rx="3"/>
<rect x="636" y="642.3" width="159" height="15.1" rx="3"/>
<rect x="68" y="663.2" width="158" height="15.1" rx="3"/>
<rect x="257" y="663.2" width="158" height="15.1" rx="3"/>
<rect x="447" y="663.2" width="158" height="15.1" rx="3"/>
<rect x="636" y="663.2" width="159" height="15.1" rx="3"/>
<rect x="68" y="684" width="158" height="15.1" rx="3"/>
<rect x="257" y="684" width="158" height="15.1" rx="3"/>
<rect x="447" y="684" width="158" height="15.1" rx="3"/>
<rect x="636" y="684" width="159" height="15.1" rx="3"/>
<rect x="68" y="704.9" width="158" height="15.1" rx="3"/>
<rect x="257" y="704.9" width="158" height="15.1" rx="3"/>
<rect x="447" y="704.9" width="158" height="15.1" rx="3"/>
<rect x="636" y="704.9" width="159" height="15.1" rx="3"/>
<rect x="68" y="725.8" width="158" height="15.1" rx="3"/>
<rect x="257" y="725.8" width="158" height="15.1" rx="3"/>
<rect x="447" y="725.8" width="158" height="15.1" rx="3"/>
<rect x="636" y="725.8" width="159" height="15.1" rx="3"/>
<rect x="68" y="746.6" width="158" height="15.1" rx="3"/>
<rect x="257" y="746.6" width="158" height="15.1" rx="3"/>
<rect x="447" y="746.6" width="158" height="15.1" rx="3"/>
<rect x="636" y="746.6" width="159" height="15.1" rx="3"/>
<rect x="68" y="767.5" width="158" height="15.1" rx="3"/>
<rect x="257" y="767.5" width="158" height="15.1" rx="3"/>
<rect x="447" y="767.5" width="158" height="15.1" rx="3"/>
<rect x="636" y="767.5" width="159" height="15.1" rx="3"/>
<rect x="68" y="788.4" width="158" height="15.1" rx="3"/>
<rect x="257" y="788.4" width="158" height="15.1" rx="3"/>
<rect x="447" y="788.4" width="158" height="15.1" rx="3"/>
<rect x="636" y="788.4" width="159" height="15.1" rx="3"/>
<rect x="68" y="809.2" width="158" height="15.1" rx="3"/>
<rect x="257" y="809.2" width="158" height="15.1" rx="3"/>
<rect x="447" y="809.2" width="158" height="15.1" rx="3"/>
<rect x="636" y="809.2" width="159" height="15.1" rx="3"/>
<rect x="68" y="830.1" width="158" height="15.1" rx="3"/>
<rect x="257" y="830.1" width="158" height="15.1" rx="3"/>
<rect x="447" y="830.1" width="158" height="15.1" rx="3"/>
<rect x="636" y="830.1" width="159" height="15.1" rx="3"/>
<rect x="68" y="851" width="158" height="15.1" rx="3"/>
<rect x="257" y="851" width="158" height="15.1" rx="3"/>
<rect x="447" y="851" width="158" height="15.1" rx="3"/>
<rect x="636" y="851" width="159" height="15.1" rx="3"/>
<rect x="68" y="871.9" width="158" height="15.1" rx="3"/>
<rect x="257" y="871.9" width="158" height="15.1" rx="3"/>
<rect x="447" y="871.9" width="158" height="15.1" rx="3"/>
<rect x="636" y="871.9" width="159" height="15.1" rx="3"/>
<rect x="68" y="892.7" width="158" height="15.1" rx="3"/>
<rect x="257" y="892.7" width="158" height="15.1" rx="3"/>
<rect x="447" y="892.7" width="158" height="15.1" rx="3"/>
<rect x="636" y="892.7" width="159" height="15.1" rx="3"/>
<rect x="68" y="913.6" width="158" height="15.1" rx="3"/>
<rect x="257" y="913.6" width="158" height="15.1" rx="3"/>
<rect x="447" y="913.6" width="158" height="15.1" rx="3"/>
<rect x="636" y="913.6" width="159" height="15.1" rx="3"/>
<rect x="68" y="934.5" width="158" height="15.1" rx="3"/>
<rect x="257" y="934.5" width="158" height="15.1" rx="3"/>
<rect x="447" y="934.5" width="158" height="15.1" rx="3"/>
<rect x="636" y="934.5" width="159" height="15.1" rx="3"/>
<rect x="68" y="955.3" width="158" height="15.1" rx="3"/>
<rect x="257" y="955.3" width="158" height="15.1" rx="3"/>
<rect x="447" y="955.3" width="158" height="15.1" rx="3"/>
<rect x="636" y="955.3" width="159" height="15.1" rx="3"/>
<rect x="68" y="976.2" width="158" height="15.1" rx="3"/>
<rect x="257" y="976.2" width="158" height="15.1" rx="3"/>
<rect x="447" y="976.2" width="158" height="15.1" rx="3"/>
<rect x="636" y="976.2" width="159" height="15.1" rx="3"/>
<rect x="68" y="997.1" width="158" height="15.1" rx="3"/>
<rect x="257" y="997.1" width="158" height="15.1" rx="3"/>
<rect x="447" y="997.1" width="158" height="15.1" rx="3"/>
<rect x="636" y="997.1" width="159" height="15.1" rx="3"/>
<rect x="68" y="1018" width="158" height="15.1" rx="3"/>
<rect x="257" y="1018" width="158" height="15.1" rx="3"/>
<rect x="447" y="1018" width="158" height="15.1" rx="3"/>
<rect x="636" y="1018" width="159" height="15.1" rx="3"/>
<rect x="68" y="1038.8" width="158" height="15.1" rx="3"/>
<rect x="257" y="1038.8" width="158" height="15.1" rx="3"/>
<rect x="447" y="1038.8" width="158" height="15.1" rx="3"/>
<rect x="636" y="1038.8" width="159" height="15.1" rx="3"/>
<rect x="68" y="1059.7" width="158" height="15.1" rx="3"/>
<rect x="257" y="1059.7" width="158" height="15.1" rx="3"/>
<rect x="447" y="1059.7" width="158" height="15.1" rx="3"/>
<rect x="636" y="1059.7" width="159" height="15.1" rx="3"/>
<rect x="68" y="1080.6" width="158" height="15.1" rx="3"/>
<rect x="257" y="1080.6" width="158" height="15.1" rx="3"/>
<rect x="447" y="1080.6" width="158" height="15.1" rx="3"/>
<rect x="636" y="1080.6" width="159" height="15.1" rx="3"/>
<rect x="68" y="1101.4" width="158" height="15.1" rx="3"/>
<rect x="257" y="1101.4" width="158" height="15.1" rx="3"/>
<rect x="447" y="1101.4" width="158" height="15.1" rx="3"/>
<rect x="636" y="1101.4" width="159" height="15.1" rx="3"/>
<rect x="68" y="1122.3" width="158" height="17.2" rx="3"/>
<rect x="257" y="1122.3" width="158" height="17.2" rx="3"/>
<rect x="447" y="1122.3" width="158" height="17.2" rx="3"/>
<rect x="636" y="1122.3" width="159" height="17.2" rx="3"/>
</g>
<g fill="#3aa85a" filter="url(#n9)">
<rect x="107.5" y="59.3" width="118.5" height="13.7"/>
<rect x="257" y="59.3" width="158" height="13.7"/>
<rect x="447" y="59.3" width="158" height="13.7"/>
<rect x="107.5" y="78.8" width="118.5" height="15.1"/>
<rect x="257" y="78.8" width="158" height="15.1"/>
<rect x="447" y="78.8" width="158" height="15.1"/>
<rect x="107.5" y="99.7" width="118.5" height="15.1"/>
<rect x="257" y="99.7" width="158" height="15.1"/>
<rect x="447" y="99.7" width="158" height="15.1"/>
<rect x="107.5" y="120.5" width="118.5" height="15.1"/>
<rect x="257" y="120.5" width="158" height="15.1"/>
<rect x="447" y="120.5" width="158" height="15.1"/>
<rect x="107.5" y="141.4" width="118.5" height="15.1"/>
<rect x="257" y="141.4" width="158" height="15.1"/>
<rect x="447" y="141.4" width="158" height="15.1"/>
<rect x="107.5" y="162.3" width="118.5" height="15.1"/>
<rect x="257" y="162.3" width="158" height="15.1"/>
<rect x="447" y="162.3" width="158" height="15.1"/>
<rect x="107.5" y="183.2" width="118.5" height="15.1"/>
<rect x="257" y="183.2" width="158" height="15.1"/>
<rect x="447" y="183.2" width="158" height="15.1"/>
<rect x="107.5" y="204" width="118.5" height="15.1"/>
<rect x="257" y="204" width="158" height="15.1"/>
<rect x="447" y="204" width="158" height="15.1"/>
<rect x="107.5" y="224.9" width="118.5" height="15.1"/>
<rect x="257" y="224.9" width="158" height="15.1"/>
<rect x="447" y="224.9" width="158" height="15.1"/>
<rect x="107.5" y="245.8" width="118.5" height="15.1"/>
<rect x="257" y="245.8" width="158" height="15.1"/>
<rect x="447" y="245.8" width="158" height="15.1"/>
<rect x="107.5" y="266.6" width="118.5" height="15.1"/>
<rect x="257" y="266.6" width="158" height="15.1"/>
<rect x="447" y="266.6" width="158" height="15.1"/>
<rect x="107.5" y="287.5" width="118.5" height="15.1"/>
<rect x="257" y="287.5" width="158" height="15.1"/>
<rect x="447" y="287.5" width="158" height="15.1"/>
<rect x="107.5" y="308.4" width="118.5" height="15.1"/>
<rect x="257" y="308.4" width="158" height="15.1"/>
<rect x="447" y="308.4" width="158" height="15.1"/>
<rect x="107.5" y="329.2" width="118.5" height="15.1"/>
<rect x="257" y="329.2" width="158" height="15.1"/>
<rect x="447" y="329.2" width="158" height="15.1"/>
<rect x="107.5" y="350.1" width="118.5" height="15.1"/>
<rect x="257" y="350.1" width="158" height="15.1"/>
<rect x="447" y="350.1" width="158" height="15.1"/>
<rect x="107.5" y="371" width="118.5" height="15.1"/>
<rect x="257" y="371" width="158" height="15.1"/>
<rect x="447" y="371" width="158" height="15.1"/>
<rect x="107.5" y="391.9" width="118.5" height="15.1"/>
<rect x="257" y="391.9" width="158" height="15.1"/>
<rect x="447" y="391.9" width="158" height="15.1"/>
<rect x="107.5" y="412.7" width="118.5" height="15.1"/>
<rect x="257" y="412.7" width="158" height="15.1"/>
<rect x="447" y="412.7" width="158" height="15.1"/>
<rect x="107.5" y="433.6" width="118.5" height="15.1"/>
<rect x="257" y="433.6" width="158" height="15.1"/>
<rect x="447" y="433.6" width="158" height="15.1"/>
<rect x="447" y="454.5" width="158" height="15.1"/>
<rect x="447" y="475.3" width="158" height="15.1"/>
<rect x="447" y="496.2" width="158" height="15.1"/>
<rect x="447" y="517.1" width="158" height="15.1"/>
<rect x="447" y="537.9" width="158" height="15.1"/>
<rect x="447" y="558.8" width="158" height="15.1"/>
<rect x="107.5" y="579.7" width="118.5" height="15.1"/>
<rect x="257" y="579.7" width="158" height="15.1"/>
<rect x="447" y="579.7" width="158" height="15.1"/>
<rect x="447" y="600.5" width="158" height="15.1"/>
<rect x="447" y="621.4" width="158" height="15.1"/>
<rect x="447" y="642.3" width="158" height="15.1"/>
<rect x="447" y="663.2" width="158" height="15.1"/>
<rect x="447" y="684" width="158" height="15.1"/>
<rect x="447" y="704.9" width="158" height="15.1"/>
<rect x="447" y="725.8" width="158" height="15.1"/>
<rect x="447" y="746.6" width="158" height="15.1"/>
<rect x="447" y="767.5" width="158" height="15.1"/>
<rect x="447" y="788.4" width="158" height="15.1"/>
<rect x="447" y="809.2" width="158" height="15.1"/>
<rect x="447" y="830.1" width="158" height="15.1"/>
<rect x="447" y="851" width="158" height="15.1"/>
<rect x="447" y="871.9" width="158" height="15.1"/>
<rect x="447" y="892.7" width="158" height="15.1"/>
<rect x="447" y="913.6" width="158" height="15.1"/>
<rect x="447" y="934.5" width="158" height="15.1"/>
<rect x="447" y="955.3" width="158" height="15.1"/>
<rect x="447" y="976.2" width="158" height="15.1"/>
<rect x="447" y="997.1" width="158" height="15.1"/>
<rect x="447" y="1018" width="158" height="15.1"/>
<rect x="447" y="1038.8" width="158" height="15.1"/>
<rect x="447" y="1059.7" width="158" height="15.1"/>
<rect x="447" y="1080.6" width="158" height="15.1"/>
<rect x="447" y="1101.4" width="158" height="15.1"/>
<rect x="447" y="1122.3" width="158" height="17.2"/>
</g>
<g fill="#3aa85a" filter="url(#n10)">
<rect x="68" y="59.3" width="39.5" height="13.7"/>
<rect x="636" y="59.3" width="159" height="13.7"/>
<rect x="68" y="78.8" width="39.5" height="15.1"/>
<rect x="68" y="99.7" width="39.5" height="15.1"/>
<rect x="636" y="99.7" width="159" height="15.1"/>
<rect x="68" y="120.5" width="39.5" height="15.1"/>
<rect x="636" y="120.5" width="159" height="15.1"/>
<rect x="68" y="141.4" width="39.5" height="15.1"/>
<rect x="68" y="162.3" width="39.5" height="15.1"/>
<rect x="68" y="183.2" width="39.5" height="15.1"/>
<rect x="636" y="183.2" width="159" height="15.1"/>
<rect x="68" y="204" width="39.5" height="15.1"/>
<rect x="68" y="224.9" width="39.5" height="15.1"/>
<rect x="68" y="245.8" width="39.5" height="15.1"/>
<rect x="636" y="245.8" width="159" height="15.1"/>
<rect x="68" y="266.6" width="39.5" height="15.1"/>
<rect x="636" y="266.6" width="159" height="15.1"/>
<rect x="68" y="287.5" width="39.5" height="15.1"/>
<rect x="636" y="287.5" width="159" height="15.1"/>
<rect x="68" y="308.4" width="39.5" height="15.1"/>
<rect x="68" y="329.2" width="39.5" height="15.1"/>
<rect x="68" y="350.1" width="39.5" height="15.1"/>
<rect x="636" y="350.1" width="159" height="15.1"/>
<rect x="68" y="371" width="39.5" height="15.1"/>
<rect x="636" y="371" width="159" height="15.1"/>
<rect x="68" y="391.9" width="39.5" height="15.1"/>
<rect x="636" y="391.9" width="159" height="15.1"/>
<rect x="68" y="412.7" width="39.5" height="15.1"/>
<rect x="636" y="412.7" width="159" height="15.1"/>
<rect x="68" y="433.6" width="39.5" height="15.1"/>
<rect x="636" y="433.6" width="159" height="15.1"/>
<rect x="636" y="454.5" width="159" height="15.1"/>
<rect x="636" y="475.3" width="159" height="15.1"/>
<rect x="636" y="496.2" width="159" height="15.1"/>
<rect x="636" y="537.9" width="159" height="15.1"/>
<rect x="636" y="558.8" width="159" height="15.1"/>
<rect x="68" y="579.7" width="39.5" height="15.1"/>
<rect x="68" y="600.5" width="158" height="15.1"/>
<rect x="257" y="600.5" width="158" height="15.1"/>
<rect x="636" y="600.5" width="159" height="15.1"/>
<rect x="68" y="621.4" width="158" height="15.1"/>
<rect x="257" y="621.4" width="158" height="15.1"/>
<rect x="636" y="621.4" width="159" height="15.1"/>
<rect x="68" y="642.3" width="158" height="15.1"/>
<rect x="257" y="642.3" width="158" height="15.1"/>
<rect x="68" y="663.2" width="158" height="15.1"/>
<rect x="257" y="663.2" width="158" height="15.1"/>
<rect x="636" y="663.2" width="159" height="15.1"/>
<rect x="68" y="684" width="158" height="15.1"/>
<rect x="257" y="684" width="158" height="15.1"/>
<rect x="68" y="704.9" width="158" height="15.1"/>
<rect x="257" y="704.9" width="158" height="15.1"/>
<rect x="68" y="725.8" width="158" height="15.1"/>
<rect x="257" y="725.8" width="158" height="15.1"/>
<rect x="636" y="725.8" width="159" height="15.1"/>
<rect x="68" y="746.6" width="158" height="15.1"/>
<rect x="257" y="746.6" width="158" height="15.1"/>
<rect x="636" y="746.6" width="159" height="15.1"/>
<rect x="68" y="767.5" width="158" height="15.1"/>
<rect x="257" y="767.5" width="158" height="15.1"/>
<rect x="636" y="767.5" width="159" height="15.1"/>
<rect x="68" y="788.4" width="158" height="15.1"/>
<rect x="257" y="788.4" width="158" height="15.1"/>
<rect x="636" y="788.4" width="159" height="15.1"/>
<rect x="68" y="809.2" width="158" height="15.1"/>
<rect x="257" y="809.2" width="158" height="15.1"/>
<rect x="68" y="830.1" width="158" height="15.1"/>
<rect x="257" y="830.1" width="158" height="15.1"/>
<rect x="68" y="851" width="158" height="15.1"/>
<rect x="257" y="851" width="158" height="15.1"/>
<rect x="636" y="851" width="159" height="15.1"/>
<rect x="68" y="871.9" width="158" height="15.1"/>
<rect x="257" y="871.9" width="158" height="15.1"/>
<rect x="636" y="871.9" width="159" height="15.1"/>
<rect x="68" y="892.7" width="158" height="15.1"/>
<rect x="257" y="892.7" width="158" height="15.1"/>
<rect x="636" y="892.7" width="159" height="15.1"/>
<rect x="68" y="913.6" width="158" height="15.1"/>
<rect x="257" y="913.6" width="158" height="15.1"/>
<rect x="636" y="913.6" width="159" height="15.1"/>
<rect x="68" y="934.5" width="158" height="15.1"/>
<rect x="257" y="934.5" width="158" height="15.1"/>
<rect x="636" y="934.5" width="159" height="15.1"/>
<rect x="68" y="955.3" width="158" height="15.1"/>
<rect x="257" y="955.3" width="158" height="15.1"/>
<rect x="636" y="955.3" width="159" height="15.1"/>
<rect x="68" y="976.2" width="158" height="15.1"/>
<rect x="257" y="976.2" width="158" height="15.1"/>
<rect x="68" y="997.1" width="158" height="15.1"/>
<rect x="257" y="997.1" width="158" height="15.1"/>
<rect x="68" y="1018" width="158" height="15.1"/>
<rect x="257" y="1018" width="158" height="15.1"/>
<rect x="636" y="1018" width="159" height="15.1"/>
<rect x="68" y="1038.8" width="158" height="15.1"/>
<rect x="257" y="1038.8" width="158" height="15.1"/>
<rect x="636" y="1038.8" width="159" height="15.1"/>
<rect x="68" y="1059.7" width="158" height="15.1"/>
<rect x="257" y="1059.7" width="158" height="15.1"/>
<rect x="636" y="1059.7" width="159" height="15.1"/>
<rect x="68" y="1080.6" width="158" height="15.1"/>
<rect x="257" y="1080.6" width="158" height="15.1"/>
<rect x="636" y="1080.6" width="159" height="15.1"/>
<rect x="68" y="1101.4" width="158" height="15.1"/>
<rect x="257" y="1101.4" width="158" height="15.1"/>
<rect x="636" y="1101.4" width="159" height="15.1"/>
<rect x="68" y="1122.3" width="158" height="17.2"/>
<rect x="257" y="1122.3" width="158" height="17.2"/>
<rect x="636" y="1122.3" width="159" height="17.2"/>
</g>
<g fill="#3aa85a" filter="url(#n11)">
<rect x="636" y="78.8" width="159" height="15.1"/>
<rect x="636" y="141.4" width="159" height="15.1"/>
<rect x="636" y="162.3" width="159" height="15.1"/>
<rect x="636" y="204" width="159" height="15.1"/>
<rect x="636" y="224.9" width="159" height="15.1"/>
<rect x="636" y="308.4" width="159" height="15.1"/>
<rect x="636" y="329.2" width="159" height="15.1"/>
<rect x="68" y="454.5" width="158" height="15.1"/>
<rect x="257" y="454.5" width="158" height="15.1"/>
<rect x="68" y="475.3" width="158" height="15.1"/>
<rect x="257" y="475.3" width="158" height="15.1"/>
<rect x="68" y="496.2" width="158" height="15.1"/>
<rect x="257" y="496.2" width="158" height="15.1"/>
<rect x="68" y="517.1" width="158" height="15.1"/>
<rect x="257" y="517.1" width="158" height="15.1"/>
<rect x="636" y="517.1" width="159" height="15.1"/>
<rect x="68" y="537.9" width="158" height="15.1"/>
<rect x="257" y="537.9" width="158" height="15.1"/>
<rect x="68" y="558.8" width="158" height="15.1"/>
<rect x="257" y="558.8" width="158" height="15.1"/>
<rect x="636" y="579.7" width="159" height="15.1"/>
</g>
<g fill="#3aa85a" filter="url(#n12)">
<rect x="636" y="642.3" width="159" height="15.1"/>
<rect x="636" y="684" width="159" height="15.1"/>
<rect x="636" y="704.9" width="159" height="15.1"/>
<rect x="636" y="809.2" width="159" height="15.1"/>
<rect x="636" y="830.1" width="159" height="15.1"/>
<rect x="636" y="976.2" width="159" height="15.1"/>
<rect x="636" y="997.1" width="159" height="15.1"/>
</g>
<g fill="#2d2872" filter="url(#n13)">
<rect x="107.5" y="456" width="118.5" height="12.1" rx="3"/>
<rect x="257" y="456" width="158" height="12.1" rx="3"/>
<rect x="107.5" y="476.8" width="118.5" height="12.1" rx="3"/>
<rect x="257" y="476.8" width="158" height="12.1" rx="3"/>
<rect x="107.5" y="497.7" width="118.5" height="12.1" rx="3"/>
<rect x="257" y="497.7" width="158" height="12.1" rx="3"/>
<rect x="107.5" y="518.6" width="118.5" height="12.1" rx="3"/>
<rect x="257" y="518.6" width="158" height="12.1" rx="3"/>
<rect x="107.5" y="539.4" width="118.5" height="12.1" rx="3"/>
<rect x="257" y="539.4" width="158" height="12.1" rx="3"/>
<rect x="107.5" y="560.3" width="118.5" height="12.1" rx="3"/>
<rect x="257" y="560.3" width="158" height="12.1" rx="3"/>
</g>
<g fill="#2d2872" filter="url(#n14)">
<rect x="257" y="60.8" width="158" height="10.7" rx="3"/>
<rect x="107.5" y="80.3" width="118.5" height="12.1" rx="3"/>
<rect x="257" y="80.3" width="158" height="12.1" rx="3"/>
<rect x="107.5" y="101.2" width="118.5" height="12.1" rx="3"/>
<rect x="257" y="101.2" width="158" height="12.1" rx="3"/>
<rect x="107.5" y="122" width="118.5" height="12.1" rx="3"/>
<rect x="257" y="122" width="158" height="12.1" rx="3"/>
<rect x="107.5" y="142.9" width="118.5" height="12.1" rx="3"/>
<rect x="257" y="142.9" width="158" height="12.1" rx="3"/>
<rect x="107.5" y="163.8" width="118.5" height="12.1" rx="3"/>
<rect x="257" y="163.8" width="158" height="12.1" rx="3"/>
<rect x="107.5" y="184.7" width="118.5" height="12.1" rx="3"/>
<rect x="257" y="184.7" width="158" height="12.1" rx="3"/>
<rect x="107.5" y="205.5" width="118.5" height="12.1" rx="3"/>
<rect x="257" y="205.5" width="158" height="12.1" rx="3"/>
<rect x="107.5" y="226.4" width="118.5" height="12.1" rx="3"/>
<rect x="257" y="226.4" width="158" height="12.1" rx="3"/>
<rect x="107.5" y="247.3" width="118.5" height="12.1" rx="3"/>
<rect x="257" y="247.3" width="158" height="12.1" rx="3"/>
<rect x="107.5" y="268.1" width="118.5" height="12.1" rx="3"/>
<rect x="257" y="268.1" width="158" height="12.1" rx="3"/>
<rect x="107.5" y="289" width="118.5" height="12.1" rx="3"/>
<rect x="257" y="289" width="158" height="12.1" rx="3"/>
<rect x="107.5" y="309.9" width="118.5" height="12.1" rx="3"/>
<rect x="257" y="309.9" width="158" height="12.1" rx="3"/>
<rect x="107.5" y="330.7" width="118.5" height="12.1" rx="3"/>
<rect x="257" y="330.7" width="158" height="12.1" rx="3"/>
<rect x="107.5" y="351.6" width="118.5" height="12.1" rx="3"/>
<rect x="257" y="351.6" width="158" height="12.1" rx="3"/>
<rect x="107.5" y="372.5" width="118.5" height="12.1" rx="3"/>
<rect x="257" y="372.5" width="158" height="12.1" rx="3"/>
<rect x="107.5" y="393.4" width="118.5" height="12.1" rx="3"/>
<rect x="257" y="393.4" width="158" height="12.1" rx="3"/>
<rect x="107.5" y="414.2" width="118.5" height="12.1" rx="3"/>
<rect x="257" y="414.2" width="158" height="12.1" rx="3"/>
<rect x="107.5" y="435.1" width="118.5" height="12.1" rx="3"/>
<rect x="257" y="435.1" width="158" height="12.1" rx="3"/>
<rect x="107.5" y="581.2" width="118.5" height="12.1" rx="3"/>
<rect x="257" y="581.2" width="158" height="12.1" rx="3"/>
</g>
<g fill="#2d2872" filter="url(#n15)">
<rect x="107.5" y="60.8" width="118.5" height="10.7" rx="3"/>
<rect x="447" y="80.3" width="158" height="12.1" rx="3"/>
<rect x="447" y="101.2" width="158" height="12.1" rx="3"/>
<rect x="447" y="122" width="158" height="12.1" rx="3"/>
<rect x="447" y="142.9" width="158" height="12.1" rx="3"/>
<rect x="447" y="163.8" width="158" height="12.1" rx="3"/>
<rect x="447" y="184.7" width="158" height="12.1" rx="3"/>
<rect x="447" y="205.5" width="158" height="12.1" rx="3"/>
<rect x="447" y="226.4" width="158" height="12.1" rx="3"/>
<rect x="447" y="247.3" width="158" height="12.1" rx="3"/>
<rect x="447" y="268.1" width="158" height="12.1" rx="3"/>
<rect x="447" y="289" width="158" height="12.1" rx="3"/>
<rect x="447" y="309.9" width="158" height="12.1" rx="3"/>
<rect x="447" y="330.7" width="158" height="12.1" rx="3"/>
<rect x="447" y="351.6" width="158" height="12.1" rx="3"/>
<rect x="447" y="372.5" width="158" height="12.1" rx="3"/>
<rect x="447" y="393.4" width="158" height="12.1" rx="3"/>
<rect x="447" y="414.2" width="158" height="12.1" rx="3"/>
<rect x="447" y="435.1" width="158" height="12.1" rx="3"/>
<rect x="447" y="456" width="158" height="12.1" rx="3"/>
<rect x="447" y="476.8" width="158" height="12.1" rx="3"/>
<rect x="447" y="497.7" width="158" height="12.1" rx="3"/>
<rect x="447" y="518.6" width="158" height="12.1" rx="3"/>
<rect x="447" y="539.4" width="158" height="12.1" rx="3"/>
<rect x="447" y="560.3" width="158" height="12.1" rx="3"/>
<rect x="447" y="581.2" width="158" height="12.1" rx="3"/>
</g>
<g fill="#2d2872" filter="url(#n16)">
<rect x="447" y="60.8" width="158" height="10.7" rx="3"/>
<rect x="68" y="456" width="39.5" height="12.1" rx="3"/>
<rect x="68" y="476.8" width="39.5" height="12.1" rx="3"/>
<rect x="68" y="497.7" width="39.5" height="12.1" rx="3"/>
<rect x="68" y="518.6" width="39.5" height="12.1" rx="3"/>
<rect x="68" y="539.4" width="39.5" height="12.1" rx="3"/>
<rect x="68" y="560.3" width="39.5" height="12.1" rx="3"/>
</g>
<g fill="#2d2872" filter="url(#n17)">
<rect x="636" y="101.2" width="159" height="12.1" rx="3"/>
<rect x="636" y="122" width="159" height="12.1" rx="3"/>
<rect x="636" y="184.7" width="159" height="12.1" rx="3"/>
<rect x="636" y="247.3" width="159" height="12.1" rx="3"/>
<rect x="636" y="268.1" width="159" height="12.1" rx="3"/>
<rect x="636" y="289" width="159" height="12.1" rx="3"/>
<rect x="636" y="351.6" width="159" height="12.1" rx="3"/>
<rect x="636" y="372.5" width="159" height="12.1" rx="3"/>
<rect x="636" y="393.4" width="159" height="12.1" rx="3"/>
<rect x="636" y="414.2" width="159" height="12.1" rx="3"/>
<rect x="636" y="435.1" width="159" height="12.1" rx="3"/>
<rect x="636" y="456" width="159" height="12.1" rx="3"/>
<rect x="636" y="476.8" width="159" height="12.1" rx="3"/>
<rect x="636" y="497.7" width="159" height="12.1" rx="3"/>
<rect x="636" y="539.4" width="159" height="12.1" rx="3"/>
<rect x="636" y="560.3" width="159" height="12.1" rx="3"/>
</g>
<g fill="#2d2872" filter="url(#n18)">
<rect x="636" y="60.8" width="159" height="10.7" rx="3"/>
</g>
<g fill="#2d2872" filter="url(#n19)">
<rect x="68" y="80.3" width="39.5" height="12.1" rx="3"/>
<rect x="68" y="101.2" width="39.5" height="12.1" rx="3"/>
<rect x="68" y="122" width="39.5" height="12.1" rx="3"/>
<rect x="68" y="142.9" width="39.5" height="12.1" rx="3"/>
<rect x="68" y="163.8" width="39.5" height="12.1" rx="3"/>
<rect x="68" y="184.7" width="39.5" height="12.1" rx="3"/>
<rect x="68" y="205.5" width="39.5" height="12.1" rx="3"/>
<rect x="68" y="226.4" width="39.5" height="12.1" rx="3"/>
<rect x="68" y="247.3" width="39.5" height="12.1" rx="3"/>
<rect x="68" y="268.1" width="39.5" height="12.1" rx="3"/>
<rect x="68" y="289" width="39.5" height="12.1" rx="3"/>
<rect x="68" y="309.9" width="39.5" height="12.1" rx="3"/>
<rect x="68" y="330.7" width="39.5" height="12.1" rx="3"/>
<rect x="68" y="351.6" width="39.5" height="12.1" rx="3"/>
<rect x="68" y="372.5" width="39.5" height="12.1" rx="3"/>
<rect x="68" y="393.4" width="39.5" height="12.1" rx="3"/>
<rect x="68" y="414.2" width="39.5" height="12.1" rx="3"/>
<rect x="68" y="435.1" width="39.5" height="12.1" rx="3"/>
<rect x="68" y="581.2" width="39.5" height="12.1" rx="3"/>
</g>
<g fill="#2d2872" filter="url(#n20)">
<rect x="68" y="60.8" width="39.5" height="10.7" rx="3"/>
</g>
<g fill="#2d2872" filter="url(#n21)">
<rect x="447" y="602" width="158" height="12.1" rx="3"/>
<rect x="447" y="622.9" width="158" height="12.1" rx="3"/>
<rect x="447" y="643.8" width="158" height="12.1" rx="3"/>
<rect x="447" y="664.7" width="158" height="12.1" rx="3"/>
<rect x="447" y="685.5" width="158" height="12.1" rx="3"/>
<rect x="447" y="706.4" width="158" height="12.1" rx="3"/>
<rect x="447" y="727.3" width="158" height="12.1" rx="3"/>
<rect x="447" y="748.1" width="158" height="12.1" rx="3"/>
<rect x="447" y="769" width="158" height="12.1" rx="3"/>
<rect x="447" y="789.9" width="158" height="12.1" rx="3"/>
<rect x="447" y="810.8" width="158" height="12.1" rx="3"/>
<rect x="447" y="831.6" width="158" height="12.1" rx="3"/>
<rect x="447" y="852.5" width="158" height="12.1" rx="3"/>
<rect x="447" y="873.4" width="158" height="12.1" rx="3"/>
<rect x="447" y="894.2" width="158" height="12.1" rx="3"/>
<rect x="447" y="915.1" width="158" height="12.1" rx="3"/>
<rect x="447" y="936" width="158" height="12.1" rx="3"/>
<rect x="447" y="956.8" width="158" height="12.1" rx="3"/>
<rect x="447" y="977.7" width="158" height="12.1" rx="3"/>
<rect x="447" y="998.6" width="158" height="12.1" rx="3"/>
<rect x="447" y="1019.5" width="158" height="12.1" rx="3"/>
<rect x="447" y="1040.3" width="158" height="12.1" rx="3"/>
<rect x="447" y="1061.2" width="158" height="12.1" rx="3"/>
<rect x="447" y="1082.1" width="158" height="12.1" rx="3"/>
<rect x="447" y="1102.9" width="158" height="12.1" rx="3"/>
<rect x="447" y="1123.8" width="158" height="14.2" rx="3"/>
</g>
<g fill="#2d2872" filter="url(#n22)">
<rect x="107.5" y="602" width="118.5" height="12.1" rx="3"/>
<rect x="107.5" y="622.9" width="118.5" height="12.1" rx="3"/>
<rect x="107.5" y="643.8" width="118.5" height="12.1" rx="3"/>
<rect x="107.5" y="664.7" width="118.5" height="12.1" rx="3"/>
<rect x="107.5" y="685.5" width="118.5" height="12.1" rx="3"/>
<rect x="107.5" y="706.4" width="118.5" height="12.1" rx="3"/>
<rect x="107.5" y="727.3" width="118.5" height="12.1" rx="3"/>
<rect x="107.5" y="748.1" width="118.5" height="12.1" rx="3"/>
<rect x="107.5" y="769" width="118.5" height="12.1" rx="3"/>
<rect x="107.5" y="789.9" width="118.5" height="12.1" rx="3"/>
<rect x="107.5" y="810.8" width="118.5" height="12.1" rx="3"/>
<rect x="107.5" y="831.6" width="118.5" height="12.1" rx="3"/>
<rect x="107.5" y="852.5" width="118.5" height="12.1" rx="3"/>
<rect x="107.5" y="873.4" width="118.5" height="12.1" rx="3"/>
<rect x="107.5" y="894.2" width="118.5" height="12.1" rx="3"/>
<rect x="107.5" y="915.1" width="118.5" height="12.1" rx="3"/>
<rect x="107.5" y="936" width="118.5" height="12.1" rx="3"/>
<rect x="107.5" y="956.8" width="118.5" height="12.1" rx="3"/>
<rect x="107.5" y="977.7" width="118.5" height="12.1" rx="3"/>
<rect x="107.5" y="998.6" width="118.5" height="12.1" rx="3"/>
<rect x="107.5" y="1019.5" width="118.5" height="12.1" rx="3"/>
<rect x="107.5" y="1040.3" width="118.5" height="12.1" rx="3"/>
<rect x="107.5" y="1061.2" width="118.5" height="12.1" rx="3"/>
<rect x="107.5" y="1082.1" width="118.5" height="12.1" rx="3"/>
<rect x="107.5" y="1102.9" width="118.5" height="12.1" rx="3"/>
<rect x="107.5" y="1123.8" width="118.5" height="14.2" rx="3"/>
</g>
<g fill="#2d2872" filter="url(#n23)">
<rect x="68" y="602" width="39.5" height="12.1" rx="3"/>
<rect x="257" y="602" width="158" height="12.1" rx="3"/>
<rect x="636" y="602" width="159" height="12.1" rx="3"/>
<rect x="68" y="622.9" width="39.5" height="12.1" rx="3"/>
<rect x="257" y="622.9" width="158" height="12.1" rx="3"/>
<rect x="636" y="622.9" width="159" height="12.1" rx="3"/>
<rect x="68" y="643.8" width="39.5" height="12.1" rx="3"/>
<rect x="257" y="643.8" width="158" height="12.1" rx="3"/>
<rect x="68" y="664.7" width="39.5" height="12.1" rx="3"/>
<rect x="257" y="664.7" width="158" height="12.1" rx="3"/>
<rect x="636" y="664.7" width="159" height="12.1" rx="3"/>
<rect x="68" y="685.5" width="39.5" height="12.1" rx="3"/>
<rect x="257" y="685.5" width="158" height="12.1" rx="3"/>
<rect x="68" y="706.4" width="39.5" height="12.1" rx="3"/>
<rect x="257" y="706.4" width="158" height="12.1" rx="3"/>
<rect x="68" y="727.3" width="39.5" height="12.1" rx="3"/>
<rect x="257" y="727.3" width="158" height="12.1" rx="3"/>
<rect x="636" y="727.3" width="159" height="12.1" rx="3"/>
<rect x="68" y="748.1" width="39.5" height="12.1" rx="3"/>
<rect x="257" y="748.1" width="158" height="12.1" rx="3"/>
<rect x="636" y="748.1" width="159" height="12.1" rx="3"/>
<rect x="68" y="769" width="39.5" height="12.1" rx="3"/>
<rect x="257" y="769" width="158" height="12.1" rx="3"/>
<rect x="636" y="769" width="159" height="12.1" rx="3"/>
<rect x="68" y="789.9" width="39.5" height="12.1" rx="3"/>
<rect x="257" y="789.9" width="158" height="12.1" rx="3"/>
<rect x="636" y="789.9" width="159" height="12.1" rx="3"/>
<rect x="68" y="810.8" width="39.5" height="12.1" rx="3"/>
<rect x="257" y="810.8" width="158" height="12.1" rx="3"/>
<rect x="68" y="831.6" width="39.5" height="12.1" rx="3"/>
<rect x="257" y="831.6" width="158" height="12.1" rx="3"/>
<rect x="68" y="852.5" width="39.5" height="12.1" rx="3"/>
<rect x="257" y="852.5" width="158" height="12.1" rx="3"/>
<rect x="636" y="852.5" width="159" height="12.1" rx="3"/>
<rect x="68" y="873.4" width="39.5" height="12.1" rx="3"/>
<rect x="257" y="873.4" width="158" height="12.1" rx="3"/>
<rect x="636" y="873.4" width="159" height="12.1" rx="3"/>
<rect x="68" y="894.2" width="39.5" height="12.1" rx="3"/>
<rect x="257" y="894.2" width="158" height="12.1" rx="3"/>
<rect x="636" y="894.2" width="159" height="12.1" rx="3"/>
<rect x="68" y="915.1" width="39.5" height="12.1" rx="3"/>
<rect x="257" y="915.1" width="158" height="12.1" rx="3"/>
<rect x="636" y="915.1" width="159" height="12.1" rx="3"/>
<rect x="68" y="936" width="39.5" height="12.1" rx="3"/>
<rect x="257" y="936" width="158" height="12.1" rx="3"/>
<rect x="636" y="936" width="159" height="12.1" rx="3"/>
<rect x="68" y="956.8" width="39.5" height="12.1" rx="3"/>
<rect x="257" y="956.8" width="158" height="12.1" rx="3"/>
<rect x="636" y="956.8" width="159" height="12.1" rx="3"/>
<rect x="68" y="977.7" width="39.5" height="12.1" rx="3"/>
<rect x="257" y="977.7" width="158" height="12.1" rx="3"/>
<rect x="68" y="998.6" width="39.5" height="12.1" rx="3"/>
<rect x="257" y="998.6" width="158" height="12.1" rx="3"/>
<rect x="68" y="1019.5" width="39.5" height="12.1" rx="3"/>
<rect x="257" y="1019.5" width="158" height="12.1" rx="3"/>
<rect x="636" y="1019.5" width="159" height="12.1" rx="3"/>
<rect x="68" y="1040.3" width="39.5" height="12.1" rx="3"/>
<rect x="257" y="1040.3" width="158" height="12.1" rx="3"/>
<rect x="636" y="1040.3" width="159" height="12.1" rx="3"/>
<rect x="68" y="1061.2" width="39.5" height="12.1" rx="3"/>
<rect x="257" y="1061.2" width="158" height="12.1" rx="3"/>
<rect x="636" y="1061.2" width="159" height="12.1" rx="3"/>
<rect x="68" y="1082.1" width="39.5" height="12.1" rx="3"/>
<rect x="257" y="1082.1" width="158" height="12.1" rx="3"/>
<rect x="636" y="1082.1" width="159" height="12.1" rx="3"/>
<rect x="68" y="1102.9" width="39.5" height="12.1" rx="3"/>
<rect x="257" y="1102.9" width="158" height="12.1" rx="3"/>
<rect x="636" y="1102.9" width="159" height="12.1" rx="3"/>
<rect x="68" y="1123.8" width="39.5" height="14.2" rx="3"/>
<rect x="257" y="1123.8" width="158" height="14.2" rx="3"/>
<rect x="636" y="1123.8" width="159" height="14.2" rx="3"/>
</g>
<g fill="#2d2872" filter="url(#n24)">
<rect x="636" y="80.3" width="159" height="12.1" rx="3"/>
<rect x="636" y="142.9" width="159" height="12.1" rx="3"/>
<rect x="636" y="163.8" width="159" height="12.1" rx="3"/>
<rect x="636" y="205.5" width="159" height="12.1" rx="3"/>
<rect x="636" y="226.4" width="159" height="12.1" rx="3"/>
<rect x="636" y="309.9" width="159" height="12.1" rx="3"/>
<rect x="636" y="330.7" width="159" height="12.1" rx="3"/>
<rect x="636" y="518.6" width="159" height="12.1" rx="3"/>
<rect x="636" y="581.2" width="159" height="12.1" rx="3"/>
</g>
<g fill="#2d2872" filter="url(#n25)">
<rect x="636" y="643.8" width="159" height="12.1" rx="3"/>
<rect x="636" y="685.5" width="159" height="12.1" rx="3"/>
<rect x="636" y="706.4" width="159" height="12.1" rx="3"/>
<rect x="636" y="810.8" width="159" height="12.1" rx="3"/>
<rect x="636" y="831.6" width="159" height="12.1" rx="3"/>
<rect x="636" y="977.7" width="159" height="12.1" rx="3"/>
<rect x="636" y="998.6" width="159" height="12.1" rx="3"/>
</g>
<polygon points="95.5,59.3 98.1,59.3 81.6,1139.5 79,1139.5" fill="#b4cc44"/>
<polygon points="117,59.3 119.6,59.3 102.6,1139.5 100,1139.5" fill="#b4cc44"/>
<polygon points="335.5,59.3 337.7,59.3 328.2,1139.5 326,1139.5" fill="#a0c84a"/>
<polygon points="357,59.3 359.2,59.3 349.2,1139.5 347,1139.5" fill="#a0c84a"/>
<polygon points="585,59.3 587,59.3 587,1139.5 585,1139.5" fill="#90c050"/>
<rect x="227" y="59.3" width="29" height="1080.2" fill="#bf5139"/>
<rect x="416" y="59.3" width="30" height="1080.2" fill="#bf5139"/>
<rect x="606" y="59.3" width="29" height="1080.2" fill="#bf5139"/>
<g fill="#e2d844" filter="url(#n26)">
<rect x="227" y="1000" width="17" height="139"/>
<rect x="416" y="560" width="17" height="579"/>
</g>
<g fill="#e2d844" filter="url(#n27)">
<rect x="606" y="330" width="16" height="809"/>
</g>
<g fill="#e2d844" filter="url(#n28)">
<rect x="227" y="600" width="19" height="400"/>
</g>
<g fill="#e2d844" filter="url(#n29)">
<rect x="227" y="59.3" width="21" height="540.7"/>
<rect x="416" y="59.3" width="18" height="500.7"/>
<rect x="606" y="59.3" width="17" height="270.7"/>
</g>
</g>
<g font-family="Liberation Sans, Arial, sans-serif" font-size="20.5" fill="#161616" text-anchor="middle">
<text transform="translate(817,77.7) scale(1,1.05)">1</text>
<text transform="translate(817,98.3) scale(1,1.05)">2</text>
<text transform="translate(817,119) scale(1,1.05)">3</text>
<text transform="translate(817,139.6) scale(1,1.05)">4</text>
<text transform="translate(817,160.2) scale(1,1.05)">5</text>
<text transform="translate(817,180.8) scale(1,1.05)">6</text>
<text transform="translate(817,201.5) scale(1,1.05)">7</text>
<text transform="translate(817,222.1) scale(1,1.05)">8</text>
<text transform="translate(817,242.7) scale(1,1.05)">9</text>
<text transform="translate(817,263.4) scale(1,1.05)">10</text>
<text transform="translate(817,284) scale(1,1.05)">11</text>
<text transform="translate(817,304.6) scale(1,1.05)">12</text>
<text transform="translate(817,325.3) scale(1,1.05)">13</text>
<text transform="translate(817,345.9) scale(1,1.05)">14</text>
<text transform="translate(817,366.5) scale(1,1.05)">15</text>
<text transform="translate(817,387.1) scale(1,1.05)">16</text>
<text transform="translate(817,407.8) scale(1,1.05)">17</text>
<text transform="translate(817,428.4) scale(1,1.05)">18</text>
<text transform="translate(817,449) scale(1,1.05)">19</text>
<text transform="translate(817,469.7) scale(1,1.05)">20</text>
<text transform="translate(817,490.3) scale(1,1.05)">21</text>
<text transform="translate(817,510.9) scale(1,1.05)">22</text>
<text transform="translate(817,531.6) scale(1,1.05)">23</text>
<text transform="translate(817,552.2) scale(1,1.05)">24</text>
<text transform="translate(817,572.8) scale(1,1.05)">25</text>
<text transform="translate(817,593.5) scale(1,1.05)">26</text>
<text transform="translate(817,614.1) scale(1,1.05)">1</text>
<text transform="translate(817,634.7) scale(1,1.05)">2</text>
<text transform="translate(817,655.3) scale(1,1.05)">3</text>
<text transform="translate(817,676) scale(1,1.05)">4</text>
<text transform="translate(817,696.6) scale(1,1.05)">5</text>
<text transform="translate(817,717.2) scale(1,1.05)">6</text>
<text transform="translate(817,737.9) scale(1,1.05)">7</text>
<text transform="translate(817,758.5) scale(1,1.05)">8</text>
<text transform="translate(817,779.1) scale(1,1.05)">9</text>
<text transform="translate(817,799.8) scale(1,1.05)">10</text>
<text transform="translate(817,820.4) scale(1,1.05)">11</text>
<text transform="translate(817,841) scale(1,1.05)">12</text>
<text transform="translate(817,861.6) scale(1,1.05)">13</text>
<text transform="translate(817,882.3) scale(1,1.05)">14</text>
<text transform="translate(817,902.9) scale(1,1.05)">15</text>
<text transform="translate(817,923.5) scale(1,1.05)">16</text>
<text transform="translate(817,944.2) scale(1,1.05)">17</text>
<text transform="translate(817,964.8) scale(1,1.05)">18</text>
<text transform="translate(817,985.4) scale(1,1.05)">19</text>
<text transform="translate(817,1006) scale(1,1.05)">20</text>
<text transform="translate(817,1026.7) scale(1,1.05)">21</text>
<text transform="translate(817,1047.3) scale(1,1.05)">22</text>
<text transform="translate(817,1067.9) scale(1,1.05)">23</text>
<text transform="translate(817,1088.6) scale(1,1.05)">24</text>
<text transform="translate(817,1109.2) scale(1,1.05)">25</text>
<text transform="translate(817,1129.8) scale(1,1.05)">26</text>
</g>
<text x="46.6" y="54" font-family="Liberation Sans, Arial, sans-serif" font-weight="bold" font-size="36.5" fill="#111">May</text>
<rect x="28.7" y="1161" width="843.1" height="2.8" fill="#111"/>
<rect x="28.7" y="23" width="2.8" height="1140.8" fill="#111"/>
<rect x="869" y="23" width="2.8" height="1140.8" fill="#111"/>
</g>
<g>
<rect x="903" y="23" width="836" height="1138" fill="#f3eca4"/>
<rect x="903" y="23" width="836" height="1138" fill="#ebc5c0" filter="url(#n30)"/>
<rect x="903" y="45" width="791" height="14.5" fill="#eec3be"/>
<rect x="918" y="45" width="20" height="1116" fill="#eec3be"/>
<rect x="1667" y="45" width="28" height="1116" fill="#eec3be"/>
<rect x="1100" y="1130" width="30" height="31" fill="#eec3be"/>
<rect x="1291" y="1130" width="30" height="31" fill="#eec3be"/>
<rect x="1481" y="1130" width="30" height="31" fill="#eec3be"/>
<rect x="903" y="39" width="791" height="10" fill="#eec3be" filter="url(#n31)"/>
<rect x="912" y="45" width="10" height="1116" fill="#eec3be" filter="url(#n32)"/>
<rect x="1692" y="45" width="8" height="1116" fill="#eec3be" filter="url(#n33)"/>
<g transform="matrix(1 0 0.00400 1 -0.237 0)">
<rect x="937" y="59.3" width="730" height="1080.2" fill="#c0533b"/>
<g fill="#74b23e">
<rect x="938" y="59.3" width="159" height="14" rx="3"/>
<rect x="1128" y="59.3" width="159" height="14" rx="3"/>
<rect x="1317" y="59.3" width="161" height="14" rx="3"/>
<rect x="1507" y="59.3" width="159" height="14" rx="3"/>
<rect x="938" y="78.5" width="159" height="15.7" rx="3"/>
<rect x="1128" y="78.5" width="159" height="15.7" rx="3"/>
<rect x="1317" y="78.5" width="161" height="15.7" rx="3"/>
<rect x="1507" y="78.5" width="159" height="15.7" rx="3"/>
<rect x="938" y="99.4" width="159" height="15.7" rx="3"/>
<rect x="1128" y="99.4" width="159" height="15.7" rx="3"/>
<rect x="1317" y="99.4" width="161" height="15.7" rx="3"/>
<rect x="1507" y="99.4" width="159" height="15.7" rx="3"/>
<rect x="938" y="120.2" width="159" height="15.7" rx="3"/>
<rect x="1128" y="120.2" width="159" height="15.7" rx="3"/>
<rect x="1317" y="120.2" width="161" height="15.7" rx="3"/>
<rect x="1507" y="120.2" width="159" height="15.7" rx="3"/>
<rect x="938" y="141.1" width="159" height="15.7" rx="3"/>
<rect x="1128" y="141.1" width="159" height="15.7" rx="3"/>
<rect x="1317" y="141.1" width="161" height="15.7" rx="3"/>
<rect x="1507" y="141.1" width="159" height="15.7" rx="3"/>
<rect x="938" y="162" width="159" height="15.7" rx="3"/>
<rect x="1128" y="162" width="159" height="15.7" rx="3"/>
<rect x="1317" y="162" width="161" height="15.7" rx="3"/>
<rect x="1507" y="162" width="159" height="15.7" rx="3"/>
<rect x="938" y="182.8" width="159" height="15.7" rx="3"/>
<rect x="1128" y="182.8" width="159" height="15.7" rx="3"/>
<rect x="1317" y="182.8" width="161" height="15.7" rx="3"/>
<rect x="1507" y="182.8" width="159" height="15.7" rx="3"/>
<rect x="938" y="203.7" width="159" height="15.7" rx="3"/>
<rect x="1128" y="203.7" width="159" height="15.7" rx="3"/>
<rect x="1317" y="203.7" width="161" height="15.7" rx="3"/>
<rect x="1507" y="203.7" width="159" height="15.7" rx="3"/>
<rect x="938" y="224.6" width="159" height="15.7" rx="3"/>
<rect x="1128" y="224.6" width="159" height="15.7" rx="3"/>
<rect x="1317" y="224.6" width="161" height="15.7" rx="3"/>
<rect x="1507" y="224.6" width="159" height="15.7" rx="3"/>
<rect x="938" y="245.5" width="159" height="15.7" rx="3"/>
<rect x="1128" y="245.5" width="159" height="15.7" rx="3"/>
<rect x="1317" y="245.5" width="161" height="15.7" rx="3"/>
<rect x="1507" y="245.5" width="159" height="15.7" rx="3"/>
<rect x="938" y="266.3" width="159" height="15.7" rx="3"/>
<rect x="1128" y="266.3" width="159" height="15.7" rx="3"/>
<rect x="1317" y="266.3" width="161" height="15.7" rx="3"/>
<rect x="1507" y="266.3" width="159" height="15.7" rx="3"/>
<rect x="938" y="287.2" width="159" height="15.7" rx="3"/>
<rect x="1128" y="287.2" width="159" height="15.7" rx="3"/>
<rect x="1317" y="287.2" width="161" height="15.7" rx="3"/>
<rect x="1507" y="287.2" width="159" height="15.7" rx="3"/>
<rect x="938" y="308.1" width="159" height="15.7" rx="3"/>
<rect x="1128" y="308.1" width="159" height="15.7" rx="3"/>
<rect x="1317" y="308.1" width="161" height="15.7" rx="3"/>
<rect x="1507" y="308.1" width="159" height="15.7" rx="3"/>
<rect x="938" y="328.9" width="159" height="15.7" rx="3"/>
<rect x="1128" y="328.9" width="159" height="15.7" rx="3"/>
<rect x="1317" y="328.9" width="161" height="15.7" rx="3"/>
<rect x="1507" y="328.9" width="159" height="15.7" rx="3"/>
<rect x="938" y="349.8" width="159" height="15.7" rx="3"/>
<rect x="1128" y="349.8" width="159" height="15.7" rx="3"/>
<rect x="1317" y="349.8" width="161" height="15.7" rx="3"/>
<rect x="1507" y="349.8" width="159" height="15.7" rx="3"/>
<rect x="938" y="370.7" width="159" height="15.7" rx="3"/>
<rect x="1128" y="370.7" width="159" height="15.7" rx="3"/>
<rect x="1317" y="370.7" width="161" height="15.7" rx="3"/>
<rect x="1507" y="370.7" width="159" height="15.7" rx="3"/>
<rect x="938" y="391.6" width="159" height="15.7" rx="3"/>
<rect x="1128" y="391.6" width="159" height="15.7" rx="3"/>
<rect x="1317" y="391.6" width="161" height="15.7" rx="3"/>
<rect x="1507" y="391.6" width="159" height="15.7" rx="3"/>
<rect x="938" y="412.4" width="159" height="15.7" rx="3"/>
<rect x="1128" y="412.4" width="159" height="15.7" rx="3"/>
<rect x="1317" y="412.4" width="161" height="15.7" rx="3"/>
<rect x="1507" y="412.4" width="159" height="15.7" rx="3"/>
<rect x="938" y="433.3" width="159" height="15.7" rx="3"/>
<rect x="1128" y="433.3" width="159" height="15.7" rx="3"/>
<rect x="1317" y="433.3" width="161" height="15.7" rx="3"/>
<rect x="1507" y="433.3" width="159" height="15.7" rx="3"/>
<rect x="938" y="454.2" width="159" height="15.7" rx="3"/>
<rect x="1128" y="454.2" width="159" height="15.7" rx="3"/>
<rect x="1317" y="454.2" width="161" height="15.7" rx="3"/>
<rect x="1507" y="454.2" width="159" height="15.7" rx="3"/>
<rect x="938" y="475" width="159" height="15.7" rx="3"/>
<rect x="1128" y="475" width="159" height="15.7" rx="3"/>
<rect x="1317" y="475" width="161" height="15.7" rx="3"/>
<rect x="1507" y="475" width="159" height="15.7" rx="3"/>
<rect x="938" y="495.9" width="159" height="15.7" rx="3"/>
<rect x="1128" y="495.9" width="159" height="15.7" rx="3"/>
<rect x="1317" y="495.9" width="161" height="15.7" rx="3"/>
<rect x="1507" y="495.9" width="159" height="15.7" rx="3"/>
<rect x="938" y="516.8" width="159" height="15.7" rx="3"/>
<rect x="1128" y="516.8" width="159" height="15.7" rx="3"/>
<rect x="1317" y="516.8" width="161" height="15.7" rx="3"/>
<rect x="1507" y="516.8" width="159" height="15.7" rx="3"/>
<rect x="938" y="537.6" width="159" height="15.7" rx="3"/>
<rect x="1128" y="537.6" width="159" height="15.7" rx="3"/>
<rect x="1317" y="537.6" width="161" height="15.7" rx="3"/>
<rect x="1507" y="537.6" width="159" height="15.7" rx="3"/>
<rect x="938" y="558.5" width="159" height="15.7" rx="3"/>
<rect x="1128" y="558.5" width="159" height="15.7" rx="3"/>
<rect x="1317" y="558.5" width="161" height="15.7" rx="3"/>
<rect x="1507" y="558.5" width="159" height="15.7" rx="3"/>
<rect x="938" y="579.4" width="159" height="15.7" rx="3"/>
<rect x="1128" y="579.4" width="159" height="15.7" rx="3"/>
<rect x="1317" y="579.4" width="161" height="15.7" rx="3"/>
<rect x="1507" y="579.4" width="159" height="15.7" rx="3"/>
<rect x="938" y="600.2" width="159" height="15.7" rx="3"/>
<rect x="1128" y="600.2" width="159" height="15.7" rx="3"/>
<rect x="1317" y="600.2" width="161" height="15.7" rx="3"/>
<rect x="1507" y="600.2" width="159" height="15.7" rx="3"/>
<rect x="938" y="621.1" width="159" height="15.7" rx="3"/>
<rect x="1128" y="621.1" width="159" height="15.7" rx="3"/>
<rect x="1317" y="621.1" width="161" height="15.7" rx="3"/>
<rect x="1507" y="621.1" width="159" height="15.7" rx="3"/>
<rect x="938" y="642" width="159" height="15.7" rx="3"/>
<rect x="1128" y="642" width="159" height="15.7" rx="3"/>
<rect x="1317" y="642" width="161" height="15.7" rx="3"/>
<rect x="1507" y="642" width="159" height="15.7" rx="3"/>
<rect x="938" y="662.9" width="159" height="15.7" rx="3"/>
<rect x="1128" y="662.9" width="159" height="15.7" rx="3"/>
<rect x="1317" y="662.9" width="161" height="15.7" rx="3"/>
<rect x="1507" y="662.9" width="159" height="15.7" rx="3"/>
<rect x="938" y="683.7" width="159" height="15.7" rx="3"/>
<rect x="1128" y="683.7" width="159" height="15.7" rx="3"/>
<rect x="1317" y="683.7" width="161" height="15.7" rx="3"/>
<rect x="1507" y="683.7" width="159" height="15.7" rx="3"/>
<rect x="938" y="704.6" width="159" height="15.7" rx="3"/>
<rect x="1128" y="704.6" width="159" height="15.7" rx="3"/>
<rect x="1317" y="704.6" width="161" height="15.7" rx="3"/>
<rect x="1507" y="704.6" width="159" height="15.7" rx="3"/>
<rect x="938" y="725.5" width="159" height="15.7" rx="3"/>
<rect x="1128" y="725.5" width="159" height="15.7" rx="3"/>
<rect x="1317" y="725.5" width="161" height="15.7" rx="3"/>
<rect x="1507" y="725.5" width="159" height="15.7" rx="3"/>
<rect x="938" y="746.3" width="159" height="15.7" rx="3"/>
<rect x="1128" y="746.3" width="159" height="15.7" rx="3"/>
<rect x="1317" y="746.3" width="161" height="15.7" rx="3"/>
<rect x="1507" y="746.3" width="159" height="15.7" rx="3"/>
<rect x="938" y="767.2" width="159" height="15.7" rx="3"/>
<rect x="1128" y="767.2" width="159" height="15.7" rx="3"/>
<rect x="1317" y="767.2" width="161" height="15.7" rx="3"/>
<rect x="1507" y="767.2" width="159" height="15.7" rx="3"/>
<rect x="938" y="788.1" width="159" height="15.7" rx="3"/>
<rect x="1128" y="788.1" width="159" height="15.7" rx="3"/>
<rect x="1317" y="788.1" width="161" height="15.7" rx="3"/>
<rect x="1507" y="788.1" width="159" height="15.7" rx="3"/>
<rect x="938" y="809" width="159" height="15.7" rx="3"/>
<rect x="1128" y="809" width="159" height="15.7" rx="3"/>
<rect x="1317" y="809" width="161" height="15.7" rx="3"/>
<rect x="1507" y="809" width="159" height="15.7" rx="3"/>
<rect x="938" y="829.8" width="159" height="15.7" rx="3"/>
<rect x="1128" y="829.8" width="159" height="15.7" rx="3"/>
<rect x="1317" y="829.8" width="161" height="15.7" rx="3"/>
<rect x="1507" y="829.8" width="159" height="15.7" rx="3"/>
<rect x="938" y="850.7" width="159" height="15.7" rx="3"/>
<rect x="1128" y="850.7" width="159" height="15.7" rx="3"/>
<rect x="1317" y="850.7" width="161" height="15.7" rx="3"/>
<rect x="1507" y="850.7" width="159" height="15.7" rx="3"/>
<rect x="938" y="871.6" width="159" height="15.7" rx="3"/>
<rect x="1128" y="871.6" width="159" height="15.7" rx="3"/>
<rect x="1317" y="871.6" width="161" height="15.7" rx="3"/>
<rect x="1507" y="871.6" width="159" height="15.7" rx="3"/>
<rect x="938" y="892.4" width="159" height="15.7" rx="3"/>
<rect x="1128" y="892.4" width="159" height="15.7" rx="3"/>
<rect x="1317" y="892.4" width="161" height="15.7" rx="3"/>
<rect x="1507" y="892.4" width="159" height="15.7" rx="3"/>
<rect x="938" y="913.3" width="159" height="15.7" rx="3"/>
<rect x="1128" y="913.3" width="159" height="15.7" rx="3"/>
<rect x="1317" y="913.3" width="161" height="15.7" rx="3"/>
<rect x="1507" y="913.3" width="159" height="15.7" rx="3"/>
<rect x="938" y="934.2" width="159" height="15.7" rx="3"/>
<rect x="1128" y="934.2" width="159" height="15.7" rx="3"/>
<rect x="1317" y="934.2" width="161" height="15.7" rx="3"/>
<rect x="1507" y="934.2" width="159" height="15.7" rx="3"/>
<rect x="938" y="955" width="159" height="15.7" rx="3"/>
<rect x="1128" y="955" width="159" height="15.7" rx="3"/>
<rect x="1317" y="955" width="161" height="15.7" rx="3"/>
<rect x="1507" y="955" width="159" height="15.7" rx="3"/>
<rect x="938" y="975.9" width="159" height="15.7" rx="3"/>
<rect x="1128" y="975.9" width="159" height="15.7" rx="3"/>
<rect x="1317" y="975.9" width="161" height="15.7" rx="3"/>
<rect x="1507" y="975.9" width="159" height="15.7" rx="3"/>
<rect x="938" y="996.8" width="159" height="15.7" rx="3"/>
<rect x="1128" y="996.8" width="159" height="15.7" rx="3"/>
<rect x="1317" y="996.8" width="161" height="15.7" rx="3"/>
<rect x="1507" y="996.8" width="159" height="15.7" rx="3"/>
<rect x="938" y="1017.7" width="159" height="15.7" rx="3"/>
<rect x="1128" y="1017.7" width="159" height="15.7" rx="3"/>
<rect x="1317" y="1017.7" width="161" height="15.7" rx="3"/>
<rect x="1507" y="1017.7" width="159" height="15.7" rx="3"/>
<rect x="938" y="1038.5" width="159" height="15.7" rx="3"/>
<rect x="1128" y="1038.5" width="159" height="15.7" rx="3"/>
<rect x="1317" y="1038.5" width="161" height="15.7" rx="3"/>
<rect x="1507" y="1038.5" width="159" height="15.7" rx="3"/>
<rect x="938" y="1059.4" width="159" height="15.7" rx="3"/>
<rect x="1128" y="1059.4" width="159" height="15.7" rx="3"/>
<rect x="1317" y="1059.4" width="161" height="15.7" rx="3"/>
<rect x="1507" y="1059.4" width="159" height="15.7" rx="3"/>
<rect x="938" y="1080.3" width="159" height="15.7" rx="3"/>
<rect x="1128" y="1080.3" width="159" height="15.7" rx="3"/>
<rect x="1317" y="1080.3" width="161" height="15.7" rx="3"/>
<rect x="1507" y="1080.3" width="159" height="15.7" rx="3"/>
<rect x="938" y="1101.1" width="159" height="15.7" rx="3"/>
<rect x="1128" y="1101.1" width="159" height="15.7" rx="3"/>
<rect x="1317" y="1101.1" width="161" height="15.7" rx="3"/>
<rect x="1507" y="1101.1" width="159" height="15.7" rx="3"/>
<rect x="938" y="1122" width="159" height="17.5" rx="3"/>
<rect x="1128" y="1122" width="159" height="17.5" rx="3"/>
<rect x="1317" y="1122" width="161" height="17.5" rx="3"/>
<rect x="1507" y="1122" width="159" height="17.5" rx="3"/>
</g>
<g fill="#38a55c" filter="url(#n34)">
<rect x="938" y="120.2" width="159" height="15.7"/>
<rect x="1128" y="120.2" width="159" height="15.7"/>
<rect x="1317" y="120.2" width="161" height="15.7"/>
<rect x="1507" y="120.2" width="159" height="15.7"/>
<rect x="938" y="182.8" width="159" height="15.7"/>
<rect x="1128" y="182.8" width="159" height="15.7"/>
<rect x="1317" y="182.8" width="161" height="15.7"/>
<rect x="1507" y="182.8" width="159" height="15.7"/>
<rect x="1044" y="266.3" width="53" height="15.7"/>
<rect x="1128" y="266.3" width="79.5" height="15.7"/>
<rect x="1044" y="287.2" width="53" height="15.7"/>
<rect x="1128" y="287.2" width="79.5" height="15.7"/>
<rect x="1044" y="308.1" width="53" height="15.7"/>
<rect x="1128" y="308.1" width="79.5" height="15.7"/>
<rect x="1044" y="328.9" width="53" height="15.7"/>
<rect x="1128" y="328.9" width="79.5" height="15.7"/>
<rect x="1044" y="349.8" width="53" height="15.7"/>
<rect x="1128" y="349.8" width="79.5" height="15.7"/>
<rect x="1044" y="370.7" width="53" height="15.7"/>
<rect x="1128" y="370.7" width="79.5" height="15.7"/>
<rect x="1044" y="391.6" width="53" height="15.7"/>
<rect x="1128" y="391.6" width="79.5" height="15.7"/>
<rect x="1044" y="412.4" width="53" height="15.7"/>
<rect x="1128" y="412.4" width="79.5" height="15.7"/>
<rect x="1044" y="433.3" width="53" height="15.7"/>
<rect x="1128" y="433.3" width="79.5" height="15.7"/>
<rect x="1044" y="454.2" width="53" height="15.7"/>
<rect x="1128" y="454.2" width="79.5" height="15.7"/>
<rect x="1044" y="475" width="53" height="15.7"/>
<rect x="1128" y="475" width="79.5" height="15.7"/>
<rect x="1044" y="495.9" width="53" height="15.7"/>
<rect x="1128" y="495.9" width="53" height="15.7"/>
<rect x="1044" y="516.8" width="53" height="15.7"/>
<rect x="1128" y="516.8" width="53" height="15.7"/>
<rect x="1044" y="537.6" width="53" height="15.7"/>
<rect x="1128" y="537.6" width="53" height="15.7"/>
<rect x="1044" y="558.5" width="53" height="15.7"/>
<rect x="1128" y="558.5" width="53" height="15.7"/>
<rect x="1044" y="579.4" width="53" height="15.7"/>
<rect x="1128" y="579.4" width="53" height="15.7"/>
</g>
<g fill="#38a55c" filter="url(#n35)">
<rect x="938" y="141.1" width="159" height="15.7"/>
<rect x="1128" y="141.1" width="159" height="15.7"/>
<rect x="1317" y="141.1" width="161" height="15.7"/>
<rect x="1507" y="141.1" width="159" height="15.7"/>
<rect x="938" y="600.2" width="159" height="15.7"/>
<rect x="1128" y="600.2" width="159" height="15.7"/>
<rect x="938" y="621.1" width="159" height="15.7"/>
<rect x="1128" y="621.1" width="159" height="15.7"/>
<rect x="938" y="642" width="159" height="15.7"/>
<rect x="938" y="662.9" width="159" height="15.7"/>
<rect x="938" y="683.7" width="159" height="15.7"/>
<rect x="938" y="704.6" width="159" height="15.7"/>
<rect x="938" y="725.5" width="159" height="15.7"/>
<rect x="938" y="746.3" width="159" height="15.7"/>
<rect x="938" y="767.2" width="159" height="15.7"/>
<rect x="938" y="788.1" width="159" height="15.7"/>
<rect x="938" y="809" width="159" height="15.7"/>
<rect x="938" y="829.8" width="159" height="15.7"/>
<rect x="938" y="850.7" width="159" height="15.7"/>
<rect x="938" y="871.6" width="159" height="15.7"/>
</g>
<g fill="#38a55c" filter="url(#n36)">
<rect x="938" y="99.4" width="159" height="15.7"/>
<rect x="1128" y="99.4" width="159" height="15.7"/>
<rect x="1317" y="99.4" width="161" height="15.7"/>
<rect x="1507" y="99.4" width="159" height="15.7"/>
<rect x="938" y="203.7" width="159" height="15.7"/>
<rect x="1128" y="203.7" width="159" height="15.7"/>
<rect x="1317" y="203.7" width="161" height="15.7"/>
<rect x="1507" y="203.7" width="159" height="15.7"/>
<rect x="938" y="224.6" width="159" height="15.7"/>
<rect x="1128" y="224.6" width="159" height="15.7"/>
<rect x="938" y="245.5" width="159" height="15.7"/>
<rect x="1128" y="245.5" width="159" height="15.7"/>
<rect x="938" y="266.3" width="106" height="15.7"/>
<rect x="1207.5" y="266.3" width="79.5" height="15.7"/>
<rect x="938" y="287.2" width="106" height="15.7"/>
<rect x="1207.5" y="287.2" width="79.5" height="15.7"/>
<rect x="938" y="308.1" width="106" height="15.7"/>
<rect x="1207.5" y="308.1" width="79.5" height="15.7"/>
<rect x="938" y="328.9" width="106" height="15.7"/>
<rect x="1207.5" y="328.9" width="79.5" height="15.7"/>
<rect x="938" y="349.8" width="106" height="15.7"/>
<rect x="1207.5" y="349.8" width="79.5" height="15.7"/>
<rect x="938" y="370.7" width="106" height="15.7"/>
<rect x="1207.5" y="370.7" width="79.5" height="15.7"/>
<rect x="938" y="391.6" width="106" height="15.7"/>
<rect x="1207.5" y="391.6" width="79.5" height="15.7"/>
<rect x="938" y="412.4" width="106" height="15.7"/>
<rect x="1207.5" y="412.4" width="79.5" height="15.7"/>
<rect x="938" y="433.3" width="106" height="15.7"/>
<rect x="1207.5" y="433.3" width="79.5" height="15.7"/>
<rect x="938" y="454.2" width="106" height="15.7"/>
<rect x="1207.5" y="454.2" width="79.5" height="15.7"/>
<rect x="938" y="475" width="106" height="15.7"/>
<rect x="1207.5" y="475" width="79.5" height="15.7"/>
<rect x="938" y="495.9" width="106" height="15.7"/>
<rect x="1181" y="495.9" width="106" height="15.7"/>
<rect x="938" y="516.8" width="106" height="15.7"/>
<rect x="1181" y="516.8" width="106" height="15.7"/>
<rect x="938" y="537.6" width="106" height="15.7"/>
<rect x="1181" y="537.6" width="106" height="15.7"/>
<rect x="938" y="558.5" width="106" height="15.7"/>
<rect x="1181" y="558.5" width="106" height="15.7"/>
<rect x="938" y="579.4" width="106" height="15.7"/>
<rect x="1181" y="579.4" width="106" height="15.7"/>
</g>
<g fill="#38a55c" filter="url(#n37)">
<rect x="938" y="892.4" width="159" height="15.7"/>
<rect x="938" y="913.3" width="159" height="15.7"/>
<rect x="938" y="934.2" width="159" height="15.7"/>
<rect x="938" y="955" width="159" height="15.7"/>
<rect x="938" y="975.9" width="159" height="15.7"/>
<rect x="938" y="996.8" width="159" height="15.7"/>
<rect x="938" y="1017.7" width="159" height="15.7"/>
<rect x="938" y="1038.5" width="159" height="15.7"/>
<rect x="938" y="1059.4" width="159" height="15.7"/>
<rect x="938" y="1080.3" width="159" height="15.7"/>
<rect x="938" y="1101.1" width="159" height="15.7"/>
<rect x="938" y="1122" width="159" height="17.5"/>
</g>
<g fill="#38a55c" filter="url(#n38)">
<rect x="938" y="59.3" width="159" height="14"/>
<rect x="1128" y="59.3" width="159" height="14"/>
<rect x="1317" y="59.3" width="161" height="14"/>
<rect x="1507" y="59.3" width="159" height="14"/>
<rect x="938" y="78.5" width="159" height="15.7"/>
<rect x="1128" y="78.5" width="159" height="15.7"/>
<rect x="1317" y="78.5" width="161" height="15.7"/>
<rect x="1507" y="78.5" width="159" height="15.7"/>
<rect x="1317" y="224.6" width="161" height="15.7"/>
<rect x="1507" y="224.6" width="159" height="15.7"/>
<rect x="1317" y="245.5" width="161" height="15.7"/>
<rect x="1507" y="245.5" width="159" height="15.7"/>
<rect x="1317" y="266.3" width="161" height="15.7"/>
<rect x="1507" y="266.3" width="159" height="15.7"/>
<rect x="1317" y="287.2" width="161" height="15.7"/>
<rect x="1507" y="287.2" width="159" height="15.7"/>
<rect x="1317" y="308.1" width="161" height="15.7"/>
<rect x="1507" y="308.1" width="159" height="15.7"/>
<rect x="1317" y="328.9" width="161" height="15.7"/>
<rect x="1507" y="328.9" width="159" height="15.7"/>
<rect x="1317" y="349.8" width="161" height="15.7"/>
<rect x="1507" y="349.8" width="159" height="15.7"/>
<rect x="1317" y="370.7" width="161" height="15.7"/>
<rect x="1507" y="370.7" width="159" height="15.7"/>
<rect x="1317" y="391.6" width="161" height="15.7"/>
<rect x="1507" y="391.6" width="159" height="15.7"/>
<rect x="1317" y="412.4" width="161" height="15.7"/>
<rect x="1507" y="412.4" width="159" height="15.7"/>
<rect x="1317" y="433.3" width="161" height="15.7"/>
<rect x="1507" y="433.3" width="159" height="15.7"/>
<rect x="1317" y="454.2" width="161" height="15.7"/>
<rect x="1507" y="454.2" width="159" height="15.7"/>
<rect x="1317" y="475" width="161" height="15.7"/>
<rect x="1507" y="475" width="159" height="15.7"/>
<rect x="1317" y="495.9" width="161" height="15.7"/>
<rect x="1507" y="495.9" width="159" height="15.7"/>
<rect x="1317" y="516.8" width="161" height="15.7"/>
<rect x="1507" y="516.8" width="159" height="15.7"/>
<rect x="1317" y="537.6" width="161" height="15.7"/>
<rect x="1507" y="537.6" width="159" height="15.7"/>
<rect x="1317" y="558.5" width="161" height="15.7"/>
<rect x="1507" y="558.5" width="159" height="15.7"/>
<rect x="1317" y="579.4" width="161" height="15.7"/>
<rect x="1507" y="579.4" width="159" height="15.7"/>
<rect x="1317" y="600.2" width="161" height="15.7"/>
<rect x="1507" y="600.2" width="159" height="15.7"/>
<rect x="1317" y="621.1" width="161" height="15.7"/>
<rect x="1507" y="621.1" width="159" height="15.7"/>
<rect x="1128" y="642" width="159" height="15.7"/>
<rect x="1317" y="642" width="161" height="15.7"/>
<rect x="1507" y="642" width="159" height="15.7"/>
<rect x="1128" y="662.9" width="159" height="15.7"/>
<rect x="1317" y="662.9" width="161" height="15.7"/>
<rect x="1507" y="662.9" width="159" height="15.7"/>
<rect x="1128" y="683.7" width="159" height="15.7"/>
<rect x="1317" y="683.7" width="161" height="15.7"/>
<rect x="1507" y="683.7" width="159" height="15.7"/>
<rect x="1128" y="704.6" width="159" height="15.7"/>
<rect x="1317" y="704.6" width="161" height="15.7"/>
<rect x="1507" y="704.6" width="159" height="15.7"/>
<rect x="1128" y="725.5" width="159" height="15.7"/>
<rect x="1317" y="725.5" width="161" height="15.7"/>
<rect x="1507" y="725.5" width="159" height="15.7"/>
<rect x="1128" y="746.3" width="159" height="15.7"/>
<rect x="1317" y="746.3" width="161" height="15.7"/>
<rect x="1507" y="746.3" width="159" height="15.7"/>
<rect x="1128" y="767.2" width="159" height="15.7"/>
<rect x="1317" y="767.2" width="161" height="15.7"/>
<rect x="1507" y="767.2" width="159" height="15.7"/>
<rect x="1128" y="788.1" width="159" height="15.7"/>
<rect x="1317" y="788.1" width="161" height="15.7"/>
<rect x="1507" y="788.1" width="159" height="15.7"/>
<rect x="1128" y="809" width="159" height="15.7"/>
<rect x="1317" y="809" width="161" height="15.7"/>
<rect x="1507" y="809" width="159" height="15.7"/>
<rect x="1128" y="829.8" width="159" height="15.7"/>
<rect x="1317" y="829.8" width="161" height="15.7"/>
<rect x="1507" y="829.8" width="159" height="15.7"/>
<rect x="1128" y="850.7" width="159" height="15.7"/>
<rect x="1317" y="850.7" width="161" height="15.7"/>
<rect x="1507" y="850.7" width="159" height="15.7"/>
<rect x="1128" y="871.6" width="159" height="15.7"/>
<rect x="1317" y="871.6" width="161" height="15.7"/>
<rect x="1507" y="871.6" width="159" height="15.7"/>
<rect x="1128" y="892.4" width="159" height="15.7"/>
<rect x="1317" y="892.4" width="161" height="15.7"/>
<rect x="1507" y="892.4" width="159" height="15.7"/>
<rect x="1128" y="913.3" width="159" height="15.7"/>
<rect x="1317" y="913.3" width="161" height="15.7"/>
<rect x="1507" y="913.3" width="159" height="15.7"/>
<rect x="1128" y="934.2" width="159" height="15.7"/>
<rect x="1317" y="934.2" width="161" height="15.7"/>
<rect x="1507" y="934.2" width="159" height="15.7"/>
<rect x="1128" y="955" width="159" height="15.7"/>
<rect x="1317" y="955" width="161" height="15.7"/>
<rect x="1507" y="955" width="159" height="15.7"/>
<rect x="1128" y="975.9" width="159" height="15.7"/>
<rect x="1317" y="975.9" width="161" height="15.7"/>
<rect x="1507" y="975.9" width="159" height="15.7"/>
<rect x="1128" y="996.8" width="159" height="15.7"/>
<rect x="1317" y="996.8" width="161" height="15.7"/>
<rect x="1507" y="996.8" width="159" height="15.7"/>
<rect x="1128" y="1017.7" width="159" height="15.7"/>
<rect x="1317" y="1017.7" width="161" height="15.7"/>
<rect x="1507" y="1017.7" width="159" height="15.7"/>
<rect x="1128" y="1038.5" width="159" height="15.7"/>
<rect x="1317" y="1038.5" width="161" height="15.7"/>
<rect x="1507" y="1038.5" width="159" height="15.7"/>
<rect x="1128" y="1059.4" width="159" height="15.7"/>
<rect x="1317" y="1059.4" width="161" height="15.7"/>
<rect x="1507" y="1059.4" width="159" height="15.7"/>
<rect x="1128" y="1080.3" width="159" height="15.7"/>
<rect x="1317" y="1080.3" width="161" height="15.7"/>
<rect x="1507" y="1080.3" width="159" height="15.7"/>
<rect x="1128" y="1101.1" width="159" height="15.7"/>
<rect x="1317" y="1101.1" width="161" height="15.7"/>
<rect x="1507" y="1101.1" width="159" height="15.7"/>
<rect x="1128" y="1122" width="159" height="17.5"/>
<rect x="1317" y="1122" width="161" height="17.5"/>
<rect x="1507" y="1122" width="159" height="17.5"/>
</g>
<g fill="#d2d736" filter="url(#n39)">
<rect x="1317" y="600.2" width="161" height="15.7"/>
<rect x="1507" y="600.2" width="159" height="15.7"/>
<rect x="1317" y="621.1" width="161" height="15.7"/>
<rect x="1507" y="621.1" width="159" height="15.7"/>
<rect x="1128" y="642" width="159" height="15.7"/>
<rect x="1317" y="642" width="161" height="15.7"/>
<rect x="1507" y="642" width="159" height="15.7"/>
<rect x="1128" y="662.9" width="159" height="15.7"/>
<rect x="1317" y="662.9" width="161" height="15.7"/>
<rect x="1507" y="662.9" width="159" height="15.7"/>
<rect x="1128" y="683.7" width="159" height="15.7"/>
<rect x="1317" y="683.7" width="161" height="15.7"/>
<rect x="1507" y="683.7" width="159" height="15.7"/>
<rect x="1128" y="704.6" width="159" height="15.7"/>
<rect x="1317" y="704.6" width="161" height="15.7"/>
<rect x="1507" y="704.6" width="159" height="15.7"/>
<rect x="1128" y="725.5" width="159" height="15.7"/>
<rect x="1317" y="725.5" width="161" height="15.7"/>
<rect x="1507" y="725.5" width="159" height="15.7"/>
<rect x="1128" y="746.3" width="159" height="15.7"/>
<rect x="1317" y="746.3" width="161" height="15.7"/>
<rect x="1507" y="746.3" width="159" height="15.7"/>
<rect x="1128" y="767.2" width="159" height="15.7"/>
<rect x="1317" y="767.2" width="161" height="15.7"/>
<rect x="1507" y="767.2" width="159" height="15.7"/>
<rect x="1128" y="788.1" width="159" height="15.7"/>
<rect x="1317" y="788.1" width="161" height="15.7"/>
<rect x="1507" y="788.1" width="159" height="15.7"/>
<rect x="1128" y="809" width="159" height="15.7"/>
<rect x="1317" y="809" width="161" height="15.7"/>
<rect x="1507" y="809" width="159" height="15.7"/>
<rect x="1128" y="829.8" width="159" height="15.7"/>
<rect x="1317" y="829.8" width="161" height="15.7"/>
<rect x="1507" y="829.8" width="159" height="15.7"/>
<rect x="1128" y="850.7" width="159" height="15.7"/>
<rect x="1317" y="850.7" width="161" height="15.7"/>
<rect x="1507" y="850.7" width="159" height="15.7"/>
<rect x="1128" y="871.6" width="159" height="15.7"/>
<rect x="1317" y="871.6" width="161" height="15.7"/>
<rect x="1507" y="871.6" width="159" height="15.7"/>
<rect x="1128" y="892.4" width="159" height="15.7"/>
<rect x="1317" y="892.4" width="161" height="15.7"/>
<rect x="1507" y="892.4" width="159" height="15.7"/>
<rect x="1128" y="913.3" width="159" height="15.7"/>
<rect x="1317" y="913.3" width="161" height="15.7"/>
<rect x="1507" y="913.3" width="159" height="15.7"/>
<rect x="1128" y="934.2" width="159" height="15.7"/>
<rect x="1317" y="934.2" width="161" height="15.7"/>
<rect x="1507" y="934.2" width="159" height="15.7"/>
<rect x="1128" y="955" width="159" height="15.7"/>
<rect x="1317" y="955" width="161" height="15.7"/>
<rect x="1507" y="955" width="159" height="15.7"/>
<rect x="1128" y="975.9" width="159" height="15.7"/>
<rect x="1317" y="975.9" width="161" height="15.7"/>
<rect x="1507" y="975.9" width="159" height="15.7"/>
<rect x="1128" y="996.8" width="159" height="15.7"/>
<rect x="1317" y="996.8" width="161" height="15.7"/>
<rect x="1507" y="996.8" width="159" height="15.7"/>
<rect x="1128" y="1017.7" width="159" height="15.7"/>
<rect x="1317" y="1017.7" width="161" height="15.7"/>
<rect x="1507" y="1017.7" width="159" height="15.7"/>
<rect x="1128" y="1038.5" width="159" height="15.7"/>
<rect x="1317" y="1038.5" width="161" height="15.7"/>
<rect x="1507" y="1038.5" width="159" height="15.7"/>
<rect x="1128" y="1059.4" width="159" height="15.7"/>
<rect x="1317" y="1059.4" width="161" height="15.7"/>
<rect x="1507" y="1059.4" width="159" height="15.7"/>
<rect x="1128" y="1080.3" width="159" height="15.7"/>
<rect x="1317" y="1080.3" width="161" height="15.7"/>
<rect x="1507" y="1080.3" width="159" height="15.7"/>
<rect x="1128" y="1101.1" width="159" height="15.7"/>
<rect x="1317" y="1101.1" width="161" height="15.7"/>
<rect x="1507" y="1101.1" width="159" height="15.7"/>
<rect x="1128" y="1122" width="159" height="17.5"/>
<rect x="1317" y="1122" width="161" height="17.5"/>
<rect x="1507" y="1122" width="159" height="17.5"/>
</g>
<g fill="#d2d736" filter="url(#n40)">
<rect x="1317" y="224.6" width="161" height="15.7"/>
<rect x="1507" y="224.6" width="159" height="15.7"/>
<rect x="1317" y="245.5" width="161" height="15.7"/>
<rect x="1507" y="245.5" width="159" height="15.7"/>
<rect x="1317" y="266.3" width="161" height="15.7"/>
<rect x="1507" y="266.3" width="159" height="15.7"/>
<rect x="1317" y="287.2" width="161" height="15.7"/>
<rect x="1507" y="287.2" width="159" height="15.7"/>
<rect x="1317" y="308.1" width="161" height="15.7"/>
<rect x="1507" y="308.1" width="159" height="15.7"/>
<rect x="1317" y="328.9" width="161" height="15.7"/>
<rect x="1507" y="328.9" width="159" height="15.7"/>
<rect x="1317" y="349.8" width="161" height="15.7"/>
<rect x="1507" y="349.8" width="159" height="15.7"/>
<rect x="1317" y="370.7" width="161" height="15.7"/>
<rect x="1507" y="370.7" width="159" height="15.7"/>
<rect x="1317" y="391.6" width="161" height="15.7"/>
<rect x="1507" y="391.6" width="159" height="15.7"/>
<rect x="1317" y="412.4" width="161" height="15.7"/>
<rect x="1507" y="412.4" width="159" height="15.7"/>
<rect x="1317" y="433.3" width="161" height="15.7"/>
<rect x="1507" y="433.3" width="159" height="15.7"/>
<rect x="1317" y="454.2" width="161" height="15.7"/>
<rect x="1507" y="454.2" width="159" height="15.7"/>
<rect x="1317" y="475" width="161" height="15.7"/>
<rect x="1507" y="475" width="159" height="15.7"/>
<rect x="1317" y="495.9" width="161" height="15.7"/>
<rect x="1507" y="495.9" width="159" height="15.7"/>
<rect x="1317" y="516.8" width="161" height="15.7"/>
<rect x="1507" y="516.8" width="159" height="15.7"/>
<rect x="1317" y="537.6" width="161" height="15.7"/>
<rect x="1507" y="537.6" width="159" height="15.7"/>
<rect x="1317" y="558.5" width="161" height="15.7"/>
<rect x="1507" y="558.5" width="159" height="15.7"/>
<rect x="1317" y="579.4" width="161" height="15.7"/>
<rect x="1507" y="579.4" width="159" height="15.7"/>
</g>
<g fill="#d2d736" filter="url(#n41)">
<rect x="938" y="59.3" width="159" height="14"/>
<rect x="1128" y="59.3" width="159" height="14"/>
<rect x="1317" y="59.3" width="161" height="14"/>
<rect x="1507" y="59.3" width="159" height="14"/>
<rect x="938" y="78.5" width="159" height="15.7"/>
<rect x="1128" y="78.5" width="159" height="15.7"/>
<rect x="1317" y="78.5" width="161" height="15.7"/>
<rect x="1507" y="78.5" width="159" height="15.7"/>
</g>
<g fill="#d2d736" filter="url(#n42)">
<rect x="938" y="892.4" width="159" height="15.7"/>
<rect x="938" y="913.3" width="159" height="15.7"/>
<rect x="938" y="934.2" width="159" height="15.7"/>
<rect x="938" y="955" width="159" height="15.7"/>
<rect x="938" y="975.9" width="159" height="15.7"/>
<rect x="938" y="996.8" width="159" height="15.7"/>
<rect x="938" y="1017.7" width="159" height="15.7"/>
<rect x="938" y="1038.5" width="159" height="15.7"/>
<rect x="938" y="1059.4" width="159" height="15.7"/>
<rect x="938" y="1080.3" width="159" height="15.7"/>
<rect x="938" y="1101.1" width="159" height="15.7"/>
<rect x="938" y="1122" width="159" height="17.5"/>
</g>
<g fill="#d2d736" filter="url(#n43)">
<rect x="938" y="224.6" width="159" height="15.7"/>
<rect x="1128" y="224.6" width="159" height="15.7"/>
<rect x="938" y="245.5" width="159" height="15.7"/>
<rect x="1128" y="245.5" width="159" height="15.7"/>
<rect x="938" y="266.3" width="106" height="15.7"/>
<rect x="1207.5" y="266.3" width="79.5" height="15.7"/>
<rect x="938" y="287.2" width="106" height="15.7"/>
<rect x="1207.5" y="287.2" width="79.5" height="15.7"/>
<rect x="938" y="308.1" width="106" height="15.7"/>
<rect x="1207.5" y="308.1" width="79.5" height="15.7"/>
<rect x="938" y="328.9" width="106" height="15.7"/>
<rect x="1207.5" y="328.9" width="79.5" height="15.7"/>
<rect x="938" y="349.8" width="106" height="15.7"/>
<rect x="1207.5" y="349.8" width="79.5" height="15.7"/>
<rect x="938" y="370.7" width="106" height="15.7"/>
<rect x="1207.5" y="370.7" width="79.5" height="15.7"/>
<rect x="938" y="391.6" width="106" height="15.7"/>
<rect x="1207.5" y="391.6" width="79.5" height="15.7"/>
<rect x="938" y="412.4" width="106" height="15.7"/>
<rect x="1207.5" y="412.4" width="79.5" height="15.7"/>
<rect x="938" y="433.3" width="106" height="15.7"/>
<rect x="1207.5" y="433.3" width="79.5" height="15.7"/>
<rect x="938" y="454.2" width="106" height="15.7"/>
<rect x="1207.5" y="454.2" width="79.5" height="15.7"/>
<rect x="938" y="475" width="106" height="15.7"/>
<rect x="1207.5" y="475" width="79.5" height="15.7"/>
<rect x="938" y="495.9" width="106" height="15.7"/>
<rect x="1181" y="495.9" width="106" height="15.7"/>
<rect x="938" y="516.8" width="106" height="15.7"/>
<rect x="1181" y="516.8" width="106" height="15.7"/>
<rect x="938" y="537.6" width="106" height="15.7"/>
<rect x="1181" y="537.6" width="106" height="15.7"/>
<rect x="938" y="558.5" width="106" height="15.7"/>
<rect x="1181" y="558.5" width="106" height="15.7"/>
<rect x="938" y="579.4" width="106" height="15.7"/>
<rect x="1181" y="579.4" width="106" height="15.7"/>
</g>
<g fill="#d2d736" filter="url(#n44)">
<rect x="938" y="120.2" width="159" height="15.7"/>
<rect x="1128" y="120.2" width="159" height="15.7"/>
<rect x="1317" y="120.2" width="161" height="15.7"/>
<rect x="1507" y="120.2" width="159" height="15.7"/>
<rect x="938" y="182.8" width="159" height="15.7"/>
<rect x="1128" y="182.8" width="159" height="15.7"/>
<rect x="1317" y="182.8" width="161" height="15.7"/>
<rect x="1507" y="182.8" width="159" height="15.7"/>
</g>
<g fill="#d2d736" filter="url(#n45)">
<rect x="1128" y="600.2" width="159" height="15.7"/>
<rect x="938" y="621.1" width="159" height="15.7"/>
<rect x="1128" y="621.1" width="159" height="15.7"/>
<rect x="938" y="642" width="159" height="15.7"/>
<rect x="938" y="662.9" width="159" height="15.7"/>
<rect x="938" y="683.7" width="159" height="15.7"/>
<rect x="938" y="704.6" width="159" height="15.7"/>
<rect x="938" y="725.5" width="159" height="15.7"/>
<rect x="938" y="746.3" width="159" height="15.7"/>
<rect x="938" y="767.2" width="159" height="15.7"/>
<rect x="938" y="788.1" width="159" height="15.7"/>
<rect x="938" y="809" width="159" height="15.7"/>
<rect x="938" y="829.8" width="159" height="15.7"/>
<rect x="938" y="850.7" width="159" height="15.7"/>
<rect x="938" y="871.6" width="159" height="15.7"/>
</g>
<g fill="#d2d736" filter="url(#n46)">
<rect x="938" y="141.1" width="159" height="15.7"/>
<rect x="1128" y="141.1" width="159" height="15.7"/>
<rect x="1317" y="141.1" width="161" height="15.7"/>
<rect x="1507" y="141.1" width="159" height="15.7"/>
<rect x="938" y="203.7" width="159" height="15.7"/>
<rect x="1128" y="203.7" width="159" height="15.7"/>
<rect x="1317" y="203.7" width="161" height="15.7"/>
<rect x="1507" y="203.7" width="159" height="15.7"/>
</g>
<g fill="#d2d736" filter="url(#n47)">
<rect x="938" y="600.2" width="159" height="15.7"/>
</g>
<g fill="#d2d736" filter="url(#n48)">
<rect x="938" y="99.4" width="159" height="15.7"/>
<rect x="1128" y="99.4" width="159" height="15.7"/>
<rect x="1317" y="99.4" width="161" height="15.7"/>
<rect x="1507" y="99.4" width="159" height="15.7"/>
<rect x="938" y="162" width="159" height="15.7"/>
<rect x="1128" y="162" width="159" height="15.7"/>
<rect x="1317" y="162" width="161" height="15.7"/>
<rect x="1507" y="162" width="159" height="15.7"/>
<rect x="1044" y="266.3" width="53" height="15.7"/>
<rect x="1128" y="266.3" width="79.5" height="15.7"/>
<rect x="1044" y="287.2" width="53" height="15.7"/>
<rect x="1128" y="287.2" width="79.5" height="15.7"/>
<rect x="1044" y="308.1" width="53" height="15.7"/>
<rect x="1128" y="308.1" width="79.5" height="15.7"/>
<rect x="1044" y="328.9" width="53" height="15.7"/>
<rect x="1128" y="328.9" width="79.5" height="15.7"/>
<rect x="1044" y="349.8" width="53" height="15.7"/>
<rect x="1128" y="349.8" width="79.5" height="15.7"/>
<rect x="1044" y="370.7" width="53" height="15.7"/>
<rect x="1128" y="370.7" width="79.5" height="15.7"/>
<rect x="1044" y="391.6" width="53" height="15.7"/>
<rect x="1128" y="391.6" width="79.5" height="15.7"/>
<rect x="1044" y="412.4" width="53" height="15.7"/>
<rect x="1128" y="412.4" width="79.5" height="15.7"/>
<rect x="1044" y="433.3" width="53" height="15.7"/>
<rect x="1128" y="433.3" width="79.5" height="15.7"/>
<rect x="1044" y="454.2" width="53" height="15.7"/>
<rect x="1128" y="454.2" width="79.5" height="15.7"/>
<rect x="1044" y="475" width="53" height="15.7"/>
<rect x="1128" y="475" width="79.5" height="15.7"/>
<rect x="1044" y="495.9" width="53" height="15.7"/>
<rect x="1128" y="495.9" width="53" height="15.7"/>
<rect x="1044" y="516.8" width="53" height="15.7"/>
<rect x="1128" y="516.8" width="53" height="15.7"/>
<rect x="1044" y="537.6" width="53" height="15.7"/>
<rect x="1128" y="537.6" width="53" height="15.7"/>
<rect x="1044" y="558.5" width="53" height="15.7"/>
<rect x="1128" y="558.5" width="53" height="15.7"/>
<rect x="1044" y="579.4" width="53" height="15.7"/>
<rect x="1128" y="579.4" width="53" height="15.7"/>
</g>
<g fill="#ecb42c" filter="url(#n49)">
<rect x="1128" y="600.2" width="159" height="15.7"/>
<rect x="1128" y="621.1" width="159" height="15.7"/>
</g>
<g fill="#ecb42c" filter="url(#n50)">
<rect x="938" y="621.1" width="159" height="15.7"/>
<rect x="938" y="642" width="159" height="15.7"/>
<rect x="938" y="662.9" width="159" height="15.7"/>
<rect x="938" y="683.7" width="159" height="15.7"/>
<rect x="938" y="704.6" width="159" height="15.7"/>
<rect x="938" y="725.5" width="159" height="15.7"/>
<rect x="938" y="746.3" width="159" height="15.7"/>
<rect x="938" y="767.2" width="159" height="15.7"/>
<rect x="938" y="788.1" width="159" height="15.7"/>
<rect x="938" y="809" width="159" height="15.7"/>
<rect x="938" y="829.8" width="159" height="15.7"/>
<rect x="938" y="850.7" width="159" height="15.7"/>
<rect x="938" y="871.6" width="159" height="15.7"/>
</g>
<g fill="#ecb42c" filter="url(#n51)">
<rect x="938" y="203.7" width="159" height="15.7"/>
<rect x="1128" y="203.7" width="159" height="15.7"/>
<rect x="1317" y="203.7" width="161" height="15.7"/>
<rect x="1507" y="203.7" width="159" height="15.7"/>
</g>
<g fill="#ecb42c" filter="url(#n52)">
<rect x="938" y="99.4" width="159" height="15.7"/>
<rect x="1128" y="99.4" width="159" height="15.7"/>
<rect x="1317" y="99.4" width="161" height="15.7"/>
<rect x="1507" y="99.4" width="159" height="15.7"/>
<rect x="938" y="141.1" width="159" height="15.7"/>
<rect x="1128" y="141.1" width="159" height="15.7"/>
<rect x="1317" y="141.1" width="161" height="15.7"/>
<rect x="1507" y="141.1" width="159" height="15.7"/>
</g>
<g fill="#ecb42c" filter="url(#n53)">
<rect x="938" y="162" width="159" height="15.7"/>
<rect x="1128" y="162" width="159" height="15.7"/>
<rect x="1317" y="162" width="161" height="15.7"/>
<rect x="1507" y="162" width="159" height="15.7"/>
</g>
<g fill="#ecb42c" filter="url(#n54)">
<rect x="1044" y="266.3" width="53" height="15.7"/>
<rect x="1128" y="266.3" width="79.5" height="15.7"/>
<rect x="1044" y="287.2" width="53" height="15.7"/>
<rect x="1128" y="287.2" width="79.5" height="15.7"/>
<rect x="1044" y="308.1" width="53" height="15.7"/>
<rect x="1128" y="308.1" width="79.5" height="15.7"/>
<rect x="1044" y="328.9" width="53" height="15.7"/>
<rect x="1128" y="328.9" width="79.5" height="15.7"/>
<rect x="1044" y="349.8" width="53" height="15.7"/>
<rect x="1128" y="349.8" width="79.5" height="15.7"/>
<rect x="1044" y="370.7" width="53" height="15.7"/>
<rect x="1128" y="370.7" width="79.5" height="15.7"/>
<rect x="1044" y="391.6" width="53" height="15.7"/>
<rect x="1128" y="391.6" width="79.5" height="15.7"/>
<rect x="1044" y="412.4" width="53" height="15.7"/>
<rect x="1128" y="412.4" width="79.5" height="15.7"/>
<rect x="1044" y="433.3" width="53" height="15.7"/>
<rect x="1128" y="433.3" width="79.5" height="15.7"/>
<rect x="1044" y="454.2" width="53" height="15.7"/>
<rect x="1128" y="454.2" width="79.5" height="15.7"/>
<rect x="1044" y="475" width="53" height="15.7"/>
<rect x="1128" y="475" width="79.5" height="15.7"/>
<rect x="1044" y="495.9" width="53" height="15.7"/>
<rect x="1128" y="495.9" width="53" height="15.7"/>
<rect x="1044" y="516.8" width="53" height="15.7"/>
<rect x="1128" y="516.8" width="53" height="15.7"/>
<rect x="1044" y="537.6" width="53" height="15.7"/>
<rect x="1128" y="537.6" width="53" height="15.7"/>
<rect x="1044" y="558.5" width="53" height="15.7"/>
<rect x="1128" y="558.5" width="53" height="15.7"/>
<rect x="1044" y="579.4" width="53" height="15.7"/>
<rect x="1128" y="579.4" width="53" height="15.7"/>
<rect x="938" y="600.2" width="159" height="15.7"/>
</g>
<g fill="#35737a" filter="url(#n55)">
<rect x="938" y="59.3" width="159" height="14"/>
<rect x="1128" y="59.3" width="159" height="14"/>
<rect x="1317" y="59.3" width="161" height="14"/>
<rect x="1507" y="59.3" width="159" height="14"/>
<rect x="938" y="78.5" width="159" height="15.7"/>
<rect x="1128" y="78.5" width="159" height="15.7"/>
<rect x="1317" y="78.5" width="161" height="15.7"/>
<rect x="1507" y="78.5" width="159" height="15.7"/>
<rect x="1317" y="224.6" width="161" height="15.7"/>
<rect x="1507" y="224.6" width="159" height="15.7"/>
<rect x="1317" y="245.5" width="161" height="15.7"/>
<rect x="1507" y="245.5" width="159" height="15.7"/>
<rect x="1317" y="266.3" width="161" height="15.7"/>
<rect x="1507" y="266.3" width="159" height="15.7"/>
<rect x="1317" y="287.2" width="161" height="15.7"/>
<rect x="1507" y="287.2" width="159" height="15.7"/>
<rect x="1317" y="308.1" width="161" height="15.7"/>
<rect x="1507" y="308.1" width="159" height="15.7"/>
<rect x="1317" y="328.9" width="161" height="15.7"/>
<rect x="1507" y="328.9" width="159" height="15.7"/>
<rect x="1317" y="349.8" width="161" height="15.7"/>
<rect x="1507" y="349.8" width="159" height="15.7"/>
<rect x="1317" y="370.7" width="161" height="15.7"/>
<rect x="1507" y="370.7" width="159" height="15.7"/>
<rect x="1317" y="391.6" width="161" height="15.7"/>
<rect x="1507" y="391.6" width="159" height="15.7"/>
<rect x="1317" y="412.4" width="161" height="15.7"/>
<rect x="1507" y="412.4" width="159" height="15.7"/>
<rect x="1317" y="433.3" width="161" height="15.7"/>
<rect x="1507" y="433.3" width="159" height="15.7"/>
<rect x="1317" y="454.2" width="161" height="15.7"/>
<rect x="1507" y="454.2" width="159" height="15.7"/>
<rect x="1317" y="475" width="161" height="15.7"/>
<rect x="1507" y="475" width="159" height="15.7"/>
<rect x="1317" y="495.9" width="161" height="15.7"/>
<rect x="1507" y="495.9" width="159" height="15.7"/>
<rect x="1317" y="516.8" width="161" height="15.7"/>
<rect x="1507" y="516.8" width="159" height="15.7"/>
<rect x="1317" y="537.6" width="161" height="15.7"/>
<rect x="1507" y="537.6" width="159" height="15.7"/>
<rect x="1317" y="558.5" width="161" height="15.7"/>
<rect x="1507" y="558.5" width="159" height="15.7"/>
<rect x="1317" y="579.4" width="161" height="15.7"/>
<rect x="1507" y="579.4" width="159" height="15.7"/>
<rect x="938" y="892.4" width="159" height="15.7"/>
<rect x="938" y="913.3" width="159" height="15.7"/>
<rect x="938" y="934.2" width="159" height="15.7"/>
<rect x="938" y="955" width="159" height="15.7"/>
<rect x="938" y="975.9" width="159" height="15.7"/>
<rect x="938" y="996.8" width="159" height="15.7"/>
<rect x="938" y="1017.7" width="159" height="15.7"/>
<rect x="938" y="1038.5" width="159" height="15.7"/>
<rect x="938" y="1059.4" width="159" height="15.7"/>
<rect x="938" y="1080.3" width="159" height="15.7"/>
<rect x="938" y="1101.1" width="159" height="15.7"/>
<rect x="938" y="1122" width="159" height="17.5"/>
</g>
<g fill="#35737a" filter="url(#n56)">
<rect x="1317" y="600.2" width="161" height="15.7"/>
<rect x="1507" y="600.2" width="159" height="15.7"/>
<rect x="1128" y="642" width="159" height="15.7"/>
<rect x="1128" y="662.9" width="159" height="15.7"/>
<rect x="1128" y="683.7" width="159" height="15.7"/>
<rect x="1128" y="704.6" width="159" height="15.7"/>
<rect x="1128" y="725.5" width="159" height="15.7"/>
<rect x="1128" y="746.3" width="159" height="15.7"/>
<rect x="1317" y="746.3" width="161" height="15.7"/>
<rect x="1507" y="746.3" width="159" height="15.7"/>
<rect x="1128" y="767.2" width="159" height="15.7"/>
<rect x="1317" y="767.2" width="161" height="15.7"/>
<rect x="1507" y="767.2" width="159" height="15.7"/>
<rect x="1128" y="788.1" width="159" height="15.7"/>
<rect x="1317" y="788.1" width="161" height="15.7"/>
<rect x="1507" y="788.1" width="159" height="15.7"/>
<rect x="1128" y="809" width="159" height="15.7"/>
<rect x="1317" y="809" width="161" height="15.7"/>
<rect x="1507" y="809" width="159" height="15.7"/>
<rect x="1128" y="829.8" width="159" height="15.7"/>
<rect x="1317" y="829.8" width="161" height="15.7"/>
<rect x="1507" y="829.8" width="159" height="15.7"/>
<rect x="1128" y="850.7" width="159" height="15.7"/>
<rect x="1317" y="850.7" width="161" height="15.7"/>
<rect x="1507" y="850.7" width="159" height="15.7"/>
<rect x="1128" y="871.6" width="159" height="15.7"/>
<rect x="1317" y="871.6" width="161" height="15.7"/>
<rect x="1507" y="871.6" width="159" height="15.7"/>
<rect x="1128" y="892.4" width="159" height="15.7"/>
<rect x="1317" y="892.4" width="161" height="15.7"/>
<rect x="1507" y="892.4" width="159" height="15.7"/>
<rect x="1128" y="913.3" width="159" height="15.7"/>
<rect x="1317" y="913.3" width="161" height="15.7"/>
<rect x="1507" y="913.3" width="159" height="15.7"/>
<rect x="1128" y="934.2" width="159" height="15.7"/>
<rect x="1317" y="934.2" width="161" height="15.7"/>
<rect x="1507" y="934.2" width="159" height="15.7"/>
<rect x="1128" y="955" width="159" height="15.7"/>
<rect x="1317" y="955" width="161" height="15.7"/>
<rect x="1507" y="955" width="159" height="15.7"/>
<rect x="1128" y="975.9" width="159" height="15.7"/>
<rect x="1317" y="975.9" width="161" height="15.7"/>
<rect x="1507" y="975.9" width="159" height="15.7"/>
<rect x="1128" y="996.8" width="159" height="15.7"/>
<rect x="1317" y="996.8" width="161" height="15.7"/>
<rect x="1507" y="996.8" width="159" height="15.7"/>
<rect x="1128" y="1017.7" width="159" height="15.7"/>
<rect x="1317" y="1017.7" width="161" height="15.7"/>
<rect x="1507" y="1017.7" width="159" height="15.7"/>
<rect x="1128" y="1038.5" width="159" height="15.7"/>
<rect x="1317" y="1038.5" width="161" height="15.7"/>
<rect x="1507" y="1038.5" width="159" height="15.7"/>
<rect x="1128" y="1059.4" width="159" height="15.7"/>
<rect x="1317" y="1059.4" width="161" height="15.7"/>
<rect x="1507" y="1059.4" width="159" height="15.7"/>
<rect x="1128" y="1080.3" width="159" height="15.7"/>
<rect x="1317" y="1080.3" width="161" height="15.7"/>
<rect x="1507" y="1080.3" width="159" height="15.7"/>
<rect x="1128" y="1101.1" width="159" height="15.7"/>
<rect x="1317" y="1101.1" width="161" height="15.7"/>
<rect x="1507" y="1101.1" width="159" height="15.7"/>
<rect x="1128" y="1122" width="159" height="17.5"/>
<rect x="1317" y="1122" width="161" height="17.5"/>
<rect x="1507" y="1122" width="159" height="17.5"/>
</g>
<g fill="#35737a" filter="url(#n57)">
<rect x="1317" y="621.1" width="161" height="15.7"/>
<rect x="1507" y="621.1" width="159" height="15.7"/>
<rect x="1317" y="642" width="161" height="15.7"/>
<rect x="1507" y="642" width="159" height="15.7"/>
<rect x="1317" y="662.9" width="161" height="15.7"/>
<rect x="1507" y="662.9" width="159" height="15.7"/>
<rect x="1317" y="683.7" width="161" height="15.7"/>
<rect x="1507" y="683.7" width="159" height="15.7"/>
<rect x="1317" y="704.6" width="161" height="15.7"/>
<rect x="1507" y="704.6" width="159" height="15.7"/>
<rect x="1317" y="725.5" width="161" height="15.7"/>
<rect x="1507" y="725.5" width="159" height="15.7"/>
</g>
<g fill="#bf5139" filter="url(#n58)">
<rect x="938" y="59.3" width="159" height="14"/>
<rect x="1128" y="59.3" width="159" height="14"/>
<rect x="1317" y="59.3" width="161" height="14"/>
<rect x="1507" y="59.3" width="159" height="14"/>
<rect x="938" y="78.5" width="159" height="15.7"/>
<rect x="1128" y="78.5" width="159" height="15.7"/>
<rect x="1317" y="78.5" width="161" height="15.7"/>
<rect x="1507" y="78.5" width="159" height="15.7"/>
<rect x="938" y="120.2" width="159" height="15.7"/>
<rect x="1128" y="120.2" width="159" height="15.7"/>
<rect x="1317" y="120.2" width="161" height="15.7"/>
<rect x="1507" y="120.2" width="159" height="15.7"/>
<rect x="938" y="182.8" width="159" height="15.7"/>
<rect x="1128" y="182.8" width="159" height="15.7"/>
<rect x="1317" y="182.8" width="161" height="15.7"/>
<rect x="1507" y="182.8" width="159" height="15.7"/>
<rect x="938" y="224.6" width="159" height="15.7"/>
<rect x="1128" y="224.6" width="159" height="15.7"/>
<rect x="1317" y="224.6" width="161" height="15.7"/>
<rect x="1507" y="224.6" width="159" height="15.7"/>
<rect x="938" y="245.5" width="159" height="15.7"/>
<rect x="1128" y="245.5" width="159" height="15.7"/>
<rect x="1317" y="245.5" width="161" height="15.7"/>
<rect x="1507" y="245.5" width="159" height="15.7"/>
<rect x="938" y="266.3" width="106" height="15.7"/>
<rect x="1207.5" y="266.3" width="79.5" height="15.7"/>
<rect x="1317" y="266.3" width="161" height="15.7"/>
<rect x="1507" y="266.3" width="159" height="15.7"/>
<rect x="938" y="287.2" width="106" height="15.7"/>
<rect x="1207.5" y="287.2" width="79.5" height="15.7"/>
<rect x="1317" y="287.2" width="161" height="15.7"/>
<rect x="1507" y="287.2" width="159" height="15.7"/>
<rect x="938" y="308.1" width="106" height="15.7"/>
<rect x="1207.5" y="308.1" width="79.5" height="15.7"/>
<rect x="1317" y="308.1" width="161" height="15.7"/>
<rect x="1507" y="308.1" width="159" height="15.7"/>
<rect x="938" y="328.9" width="106" height="15.7"/>
<rect x="1207.5" y="328.9" width="79.5" height="15.7"/>
<rect x="1317" y="328.9" width="161" height="15.7"/>
<rect x="1507" y="328.9" width="159" height="15.7"/>
<rect x="938" y="349.8" width="106" height="15.7"/>
<rect x="1207.5" y="349.8" width="79.5" height="15.7"/>
<rect x="1317" y="349.8" width="161" height="15.7"/>
<rect x="1507" y="349.8" width="159" height="15.7"/>
<rect x="938" y="370.7" width="106" height="15.7"/>
<rect x="1207.5" y="370.7" width="79.5" height="15.7"/>
<rect x="1317" y="370.7" width="161" height="15.7"/>
<rect x="1507" y="370.7" width="159" height="15.7"/>
<rect x="938" y="391.6" width="106" height="15.7"/>
<rect x="1207.5" y="391.6" width="79.5" height="15.7"/>
<rect x="1317" y="391.6" width="161" height="15.7"/>
<rect x="1507" y="391.6" width="159" height="15.7"/>
<rect x="938" y="412.4" width="106" height="15.7"/>
<rect x="1207.5" y="412.4" width="79.5" height="15.7"/>
<rect x="1317" y="412.4" width="161" height="15.7"/>
<rect x="1507" y="412.4" width="159" height="15.7"/>
<rect x="938" y="433.3" width="106" height="15.7"/>
<rect x="1207.5" y="433.3" width="79.5" height="15.7"/>
<rect x="1317" y="433.3" width="161" height="15.7"/>
<rect x="1507" y="433.3" width="159" height="15.7"/>
<rect x="938" y="454.2" width="106" height="15.7"/>
<rect x="1207.5" y="454.2" width="79.5" height="15.7"/>
<rect x="1317" y="454.2" width="161" height="15.7"/>
<rect x="1507" y="454.2" width="159" height="15.7"/>
<rect x="938" y="475" width="106" height="15.7"/>
<rect x="1207.5" y="475" width="79.5" height="15.7"/>
<rect x="1317" y="475" width="161" height="15.7"/>
<rect x="1507" y="475" width="159" height="15.7"/>
<rect x="938" y="495.9" width="106" height="15.7"/>
<rect x="1181" y="495.9" width="106" height="15.7"/>
<rect x="1317" y="495.9" width="161" height="15.7"/>
<rect x="1507" y="495.9" width="159" height="15.7"/>
<rect x="938" y="516.8" width="106" height="15.7"/>
<rect x="1181" y="516.8" width="106" height="15.7"/>
<rect x="1317" y="516.8" width="161" height="15.7"/>
<rect x="1507" y="516.8" width="159" height="15.7"/>
<rect x="938" y="537.6" width="106" height="15.7"/>
<rect x="1181" y="537.6" width="106" height="15.7"/>
<rect x="1317" y="537.6" width="161" height="15.7"/>
<rect x="1507" y="537.6" width="159" height="15.7"/>
<rect x="938" y="558.5" width="106" height="15.7"/>
<rect x="1181" y="558.5" width="106" height="15.7"/>
<rect x="1317" y="558.5" width="161" height="15.7"/>
<rect x="1507" y="558.5" width="159" height="15.7"/>
<rect x="938" y="579.4" width="106" height="15.7"/>
<rect x="1181" y="579.4" width="106" height="15.7"/>
<rect x="1317" y="579.4" width="161" height="15.7"/>
<rect x="1507" y="579.4" width="159" height="15.7"/>
<rect x="1128" y="600.2" width="159" height="15.7"/>
<rect x="1317" y="600.2" width="161" height="15.7"/>
<rect x="1507" y="600.2" width="159" height="15.7"/>
<rect x="938" y="621.1" width="159" height="15.7"/>
<rect x="1128" y="621.1" width="159" height="15.7"/>
<rect x="1317" y="621.1" width="161" height="15.7"/>
<rect x="1507" y="621.1" width="159" height="15.7"/>
<rect x="938" y="642" width="159" height="15.7"/>
<rect x="1128" y="642" width="159" height="15.7"/>
<rect x="1317" y="642" width="161" height="15.7"/>
<rect x="1507" y="642" width="159" height="15.7"/>
<rect x="938" y="662.9" width="159" height="15.7"/>
<rect x="1128" y="662.9" width="159" height="15.7"/>
<rect x="1317" y="662.9" width="161" height="15.7"/>
<rect x="1507" y="662.9" width="159" height="15.7"/>
<rect x="938" y="683.7" width="159" height="15.7"/>
<rect x="1128" y="683.7" width="159" height="15.7"/>
<rect x="1317" y="683.7" width="161" height="15.7"/>
<rect x="1507" y="683.7" width="159" height="15.7"/>
<rect x="938" y="704.6" width="159" height="15.7"/>
<rect x="1128" y="704.6" width="159" height="15.7"/>
<rect x="1317" y="704.6" width="161" height="15.7"/>
<rect x="1507" y="704.6" width="159" height="15.7"/>
<rect x="938" y="725.5" width="159" height="15.7"/>
<rect x="1128" y="725.5" width="159" height="15.7"/>
<rect x="1317" y="725.5" width="161" height="15.7"/>
<rect x="1507" y="725.5" width="159" height="15.7"/>
<rect x="938" y="746.3" width="159" height="15.7"/>
<rect x="1128" y="746.3" width="159" height="15.7"/>
<rect x="1317" y="746.3" width="161" height="15.7"/>
<rect x="1507" y="746.3" width="159" height="15.7"/>
<rect x="938" y="767.2" width="159" height="15.7"/>
<rect x="1128" y="767.2" width="159" height="15.7"/>
<rect x="1317" y="767.2" width="161" height="15.7"/>
<rect x="1507" y="767.2" width="159" height="15.7"/>
<rect x="938" y="788.1" width="159" height="15.7"/>
<rect x="1128" y="788.1" width="159" height="15.7"/>
<rect x="1317" y="788.1" width="161" height="15.7"/>
<rect x="1507" y="788.1" width="159" height="15.7"/>
<rect x="938" y="809" width="159" height="15.7"/>
<rect x="1128" y="809" width="159" height="15.7"/>
<rect x="1317" y="809" width="161" height="15.7"/>
<rect x="1507" y="809" width="159" height="15.7"/>
<rect x="938" y="829.8" width="159" height="15.7"/>
<rect x="1128" y="829.8" width="159" height="15.7"/>
<rect x="1317" y="829.8" width="161" height="15.7"/>
<rect x="1507" y="829.8" width="159" height="15.7"/>
<rect x="938" y="850.7" width="159" height="15.7"/>
<rect x="1128" y="850.7" width="159" height="15.7"/>
<rect x="1317" y="850.7" width="161" height="15.7"/>
<rect x="1507" y="850.7" width="159" height="15.7"/>
<rect x="938" y="871.6" width="159" height="15.7"/>
<rect x="1128" y="871.6" width="159" height="15.7"/>
<rect x="1317" y="871.6" width="161" height="15.7"/>
<rect x="1507" y="871.6" width="159" height="15.7"/>
<rect x="938" y="892.4" width="159" height="15.7"/>
<rect x="1128" y="892.4" width="159" height="15.7"/>
<rect x="1317" y="892.4" width="161" height="15.7"/>
<rect x="1507" y="892.4" width="159" height="15.7"/>
<rect x="938" y="913.3" width="159" height="15.7"/>
<rect x="1128" y="913.3" width="159" height="15.7"/>
<rect x="1317" y="913.3" width="161" height="15.7"/>
<rect x="1507" y="913.3" width="159" height="15.7"/>
<rect x="938" y="934.2" width="159" height="15.7"/>
<rect x="1128" y="934.2" width="159" height="15.7"/>
<rect x="1317" y="934.2" width="161" height="15.7"/>
<rect x="1507" y="934.2" width="159" height="15.7"/>
<rect x="938" y="955" width="159" height="15.7"/>
<rect x="1128" y="955" width="159" height="15.7"/>
<rect x="1317" y="955" width="161" height="15.7"/>
<rect x="1507" y="955" width="159" height="15.7"/>
<rect x="938" y="975.9" width="159" height="15.7"/>
<rect x="1128" y="975.9" width="159" height="15.7"/>
<rect x="1317" y="975.9" width="161" height="15.7"/>
<rect x="1507" y="975.9" width="159" height="15.7"/>
<rect x="938" y="996.8" width="159" height="15.7"/>
<rect x="1128" y="996.8" width="159" height="15.7"/>
<rect x="1317" y="996.8" width="161" height="15.7"/>
<rect x="1507" y="996.8" width="159" height="15.7"/>
<rect x="938" y="1017.7" width="159" height="15.7"/>
<rect x="1128" y="1017.7" width="159" height="15.7"/>
<rect x="1317" y="1017.7" width="161" height="15.7"/>
<rect x="1507" y="1017.7" width="159" height="15.7"/>
<rect x="938" y="1038.5" width="159" height="15.7"/>
<rect x="1128" y="1038.5" width="159" height="15.7"/>
<rect x="1317" y="1038.5" width="161" height="15.7"/>
<rect x="1507" y="1038.5" width="159" height="15.7"/>
<rect x="938" y="1059.4" width="159" height="15.7"/>
<rect x="1128" y="1059.4" width="159" height="15.7"/>
<rect x="1317" y="1059.4" width="161" height="15.7"/>
<rect x="1507" y="1059.4" width="159" height="15.7"/>
<rect x="938" y="1080.3" width="159" height="15.7"/>
<rect x="1128" y="1080.3" width="159" height="15.7"/>
<rect x="1317" y="1080.3" width="161" height="15.7"/>
<rect x="1507" y="1080.3" width="159" height="15.7"/>
<rect x="938" y="1101.1" width="159" height="15.7"/>
<rect x="1128" y="1101.1" width="159" height="15.7"/>
<rect x="1317" y="1101.1" width="161" height="15.7"/>
<rect x="1507" y="1101.1" width="159" height="15.7"/>
<rect x="938" y="1122" width="159" height="17.5"/>
<rect x="1128" y="1122" width="159" height="17.5"/>
<rect x="1317" y="1122" width="161" height="17.5"/>
<rect x="1507" y="1122" width="159" height="17.5"/>
</g>
<g fill="#bf5139" filter="url(#n59)">
<rect x="938" y="203.7" width="159" height="15.7"/>
<rect x="1128" y="203.7" width="159" height="15.7"/>
<rect x="1317" y="203.7" width="161" height="15.7"/>
<rect x="1507" y="203.7" width="159" height="15.7"/>
</g>
<g fill="#bf5139" filter="url(#n60)">
<rect x="938" y="141.1" width="159" height="15.7"/>
<rect x="1128" y="141.1" width="159" height="15.7"/>
<rect x="1317" y="141.1" width="161" height="15.7"/>
<rect x="1507" y="141.1" width="159" height="15.7"/>
</g>
<g fill="#bf5139" filter="url(#n61)">
<rect x="1044" y="266.3" width="53" height="15.7"/>
<rect x="1128" y="266.3" width="79.5" height="15.7"/>
<rect x="1044" y="287.2" width="53" height="15.7"/>
<rect x="1128" y="287.2" width="79.5" height="15.7"/>
<rect x="1044" y="308.1" width="53" height="15.7"/>
<rect x="1128" y="308.1" width="79.5" height="15.7"/>
<rect x="1044" y="328.9" width="53" height="15.7"/>
<rect x="1128" y="328.9" width="79.5" height="15.7"/>
<rect x="1044" y="349.8" width="53" height="15.7"/>
<rect x="1128" y="349.8" width="79.5" height="15.7"/>
<rect x="1044" y="370.7" width="53" height="15.7"/>
<rect x="1128" y="370.7" width="79.5" height="15.7"/>
<rect x="1044" y="391.6" width="53" height="15.7"/>
<rect x="1128" y="391.6" width="79.5" height="15.7"/>
<rect x="1044" y="412.4" width="53" height="15.7"/>
<rect x="1128" y="412.4" width="79.5" height="15.7"/>
<rect x="1044" y="433.3" width="53" height="15.7"/>
<rect x="1128" y="433.3" width="79.5" height="15.7"/>
<rect x="1044" y="454.2" width="53" height="15.7"/>
<rect x="1128" y="454.2" width="79.5" height="15.7"/>
<rect x="1044" y="475" width="53" height="15.7"/>
<rect x="1128" y="475" width="79.5" height="15.7"/>
<rect x="1044" y="495.9" width="53" height="15.7"/>
<rect x="1128" y="495.9" width="53" height="15.7"/>
<rect x="1044" y="516.8" width="53" height="15.7"/>
<rect x="1128" y="516.8" width="53" height="15.7"/>
<rect x="1044" y="537.6" width="53" height="15.7"/>
<rect x="1128" y="537.6" width="53" height="15.7"/>
<rect x="1044" y="558.5" width="53" height="15.7"/>
<rect x="1128" y="558.5" width="53" height="15.7"/>
<rect x="1044" y="579.4" width="53" height="15.7"/>
<rect x="1128" y="579.4" width="53" height="15.7"/>
<rect x="938" y="600.2" width="159" height="15.7"/>
</g>
<g fill="#bf5139" filter="url(#n62)">
<rect x="938" y="99.4" width="159" height="15.7"/>
<rect x="1128" y="99.4" width="159" height="15.7"/>
<rect x="1317" y="99.4" width="161" height="15.7"/>
<rect x="1507" y="99.4" width="159" height="15.7"/>
<rect x="938" y="162" width="159" height="15.7"/>
<rect x="1128" y="162" width="159" height="15.7"/>
<rect x="1317" y="162" width="161" height="15.7"/>
<rect x="1507" y="162" width="159" height="15.7"/>
</g>
<polygon points="967,59.3 970.5,59.3 954.5,1139.5 951,1139.5" fill="#c0533b"/>
<polygon points="989,59.3 992.5,59.3 975.5,1139.5 972,1139.5" fill="#c0533b"/>
<polygon points="1212,59.3 1215,59.3 1206,1139.5 1203,1139.5" fill="#c0533b"/>
<polygon points="1231,59.3 1234,59.3 1225,1139.5 1222,1139.5" fill="#c0533b"/>
<polygon points="1455,59.3 1457.5,59.3 1452.5,1139.5 1450,1139.5" fill="#c0533b"/>
<rect x="1098" y="59.3" width="29" height="1080.2" fill="#c0533b"/>
<rect x="1288" y="59.3" width="28" height="1080.2" fill="#c0533b"/>
<rect x="1479" y="59.3" width="27" height="1080.2" fill="#c0533b"/>
</g>
<g font-family="Liberation Sans, Arial, sans-serif" font-size="20.5" fill="#161616" text-anchor="middle">
<text transform="translate(1688,77.7) scale(1,1.05)">1</text>
<text transform="translate(1688,98.3) scale(1,1.05)">2</text>
<text transform="translate(1688,119) scale(1,1.05)">3</text>
<text transform="translate(1688,139.6) scale(1,1.05)">4</text>
<text transform="translate(1688,160.2) scale(1,1.05)">5</text>
<text transform="translate(1688,180.8) scale(1,1.05)">6</text>
<text transform="translate(1688,201.5) scale(1,1.05)">7</text>
<text transform="translate(1688,222.1) scale(1,1.05)">8</text>
<text transform="translate(1688,242.7) scale(1,1.05)">9</text>
<text transform="translate(1688,263.4) scale(1,1.05)">10</text>
<text transform="translate(1688,284) scale(1,1.05)">11</text>
<text transform="translate(1688,304.6) scale(1,1.05)">12</text>
<text transform="translate(1688,325.3) scale(1,1.05)">13</text>
<text transform="translate(1688,345.9) scale(1,1.05)">14</text>
<text transform="translate(1688,366.5) scale(1,1.05)">15</text>
<text transform="translate(1688,387.1) scale(1,1.05)">16</text>
<text transform="translate(1688,407.8) scale(1,1.05)">17</text>
<text transform="translate(1688,428.4) scale(1,1.05)">18</text>
<text transform="translate(1688,449) scale(1,1.05)">19</text>
<text transform="translate(1688,469.7) scale(1,1.05)">20</text>
<text transform="translate(1688,490.3) scale(1,1.05)">21</text>
<text transform="translate(1688,510.9) scale(1,1.05)">22</text>
<text transform="translate(1688,531.6) scale(1,1.05)">23</text>
<text transform="translate(1688,552.2) scale(1,1.05)">24</text>
<text transform="translate(1688,572.8) scale(1,1.05)">25</text>
<text transform="translate(1688,593.5) scale(1,1.05)">26</text>
<text transform="translate(1688,614.1) scale(1,1.05)">1</text>
<text transform="translate(1688,634.7) scale(1,1.05)">2</text>
<text transform="translate(1688,655.3) scale(1,1.05)">3</text>
<text transform="translate(1688,676) scale(1,1.05)">4</text>
<text transform="translate(1688,696.6) scale(1,1.05)">5</text>
<text transform="translate(1688,717.2) scale(1,1.05)">6</text>
<text transform="translate(1688,737.9) scale(1,1.05)">7</text>
<text transform="translate(1688,758.5) scale(1,1.05)">8</text>
<text transform="translate(1688,779.1) scale(1,1.05)">9</text>
<text transform="translate(1688,799.8) scale(1,1.05)">10</text>
<text transform="translate(1688,820.4) scale(1,1.05)">11</text>
<text transform="translate(1688,841) scale(1,1.05)">12</text>
<text transform="translate(1688,861.6) scale(1,1.05)">13</text>
<text transform="translate(1688,882.3) scale(1,1.05)">14</text>
<text transform="translate(1688,902.9) scale(1,1.05)">15</text>
<text transform="translate(1688,923.5) scale(1,1.05)">16</text>
<text transform="translate(1688,944.2) scale(1,1.05)">17</text>
<text transform="translate(1688,964.8) scale(1,1.05)">18</text>
<text transform="translate(1688,985.4) scale(1,1.05)">19</text>
<text transform="translate(1688,1006) scale(1,1.05)">20</text>
<text transform="translate(1688,1026.7) scale(1,1.05)">21</text>
<text transform="translate(1688,1047.3) scale(1,1.05)">22</text>
<text transform="translate(1688,1067.9) scale(1,1.05)">23</text>
<text transform="translate(1688,1088.6) scale(1,1.05)">24</text>
<text transform="translate(1688,1109.2) scale(1,1.05)">25</text>
<text transform="translate(1688,1129.8) scale(1,1.05)">26</text>
</g>
<text x="922.5" y="54" font-family="Liberation Sans, Arial, sans-serif" font-weight="bold" font-size="36.5" fill="#111">June</text>
<rect x="900.2" y="1161" width="841.6" height="2.8" fill="#111"/>
<rect x="900.2" y="23" width="2.8" height="1140.8" fill="#111"/>
<rect x="1739" y="23" width="2.8" height="1140.8" fill="#111"/>
</g>
<g>
<rect x="31.5" y="1360.5" width="837.5" height="1139.5" fill="#e2ebc2"/>
<rect x="31.5" y="1360.5" width="837.5" height="1139.5" fill="#f4bcc2" filter="url(#n63)"/>
<rect x="31.5" y="1360.5" width="837.5" height="1139.5" fill="#eef0b0" filter="url(#n64)"/>
<rect x="31.5" y="1384" width="791" height="14.5" fill="#f2a8b0"/>
<rect x="48" y="1384" width="20" height="1116" fill="#f2a8b0"/>
<rect x="795" y="1384" width="27" height="1116" fill="#f2a8b0"/>
<rect x="232" y="2469" width="28" height="31" fill="#f2a8b0"/>
<rect x="421" y="2469" width="28" height="31" fill="#f2a8b0"/>
<rect x="611" y="2469" width="28" height="31" fill="#f2a8b0"/>
<rect x="31.5" y="1378" width="791" height="10" fill="#f2a8b0" filter="url(#n65)"/>
<rect x="42" y="1384" width="10" height="1116" fill="#f2a8b0" filter="url(#n66)"/>
<rect x="819" y="1384" width="8" height="1116" fill="#f2a8b0" filter="url(#n67)"/>
<g transform="matrix(1 0 0.00350 1 -4.894 0)">
<rect x="66" y="1398.4" width="729" height="1079.6" fill="#eee42a"/>
<rect x="66" y="1398.4" width="729" height="1079.6" fill="#e8502a" filter="url(#n68)"/>
<g fill="#aacb3a" stroke="#c6d838" stroke-width="0.8">
<rect x="67" y="1398.4" width="158" height="15.2" rx="3"/>
<rect x="258" y="1398.4" width="156" height="15.2" rx="3"/>
<rect x="447" y="1398.4" width="158" height="15.2" rx="3"/>
<rect x="636" y="1398.4" width="158" height="15.2" rx="3"/>
<rect x="67" y="1416.4" width="158" height="18.1" rx="3"/>
<rect x="258" y="1416.4" width="156" height="18.1" rx="3"/>
<rect x="447" y="1416.4" width="158" height="18.1" rx="3"/>
<rect x="636" y="1416.4" width="158" height="18.1" rx="3"/>
<rect x="67" y="1437.3" width="158" height="18.1" rx="3"/>
<rect x="258" y="1437.3" width="156" height="18.1" rx="3"/>
<rect x="447" y="1437.3" width="158" height="18.1" rx="3"/>
<rect x="636" y="1437.3" width="158" height="18.1" rx="3"/>
<rect x="67" y="1458.1" width="158" height="18.1" rx="3"/>
<rect x="258" y="1458.1" width="156" height="18.1" rx="3"/>
<rect x="447" y="1458.1" width="158" height="18.1" rx="3"/>
<rect x="636" y="1458.1" width="158" height="18.1" rx="3"/>
<rect x="67" y="1479" width="158" height="18.1" rx="3"/>
<rect x="258" y="1479" width="156" height="18.1" rx="3"/>
<rect x="447" y="1479" width="158" height="18.1" rx="3"/>
<rect x="636" y="1479" width="158" height="18.1" rx="3"/>
<rect x="67" y="1499.9" width="158" height="18.1" rx="3"/>
<rect x="258" y="1499.9" width="156" height="18.1" rx="3"/>
<rect x="447" y="1499.9" width="158" height="18.1" rx="3"/>
<rect x="636" y="1499.9" width="158" height="18.1" rx="3"/>
<rect x="67" y="1520.8" width="158" height="18.1" rx="3"/>
<rect x="258" y="1520.8" width="156" height="18.1" rx="3"/>
<rect x="447" y="1520.8" width="158" height="18.1" rx="3"/>
<rect x="636" y="1520.8" width="158" height="18.1" rx="3"/>
<rect x="67" y="1541.6" width="158" height="18.1" rx="3"/>
<rect x="258" y="1541.6" width="156" height="18.1" rx="3"/>
<rect x="447" y="1541.6" width="158" height="18.1" rx="3"/>
<rect x="636" y="1541.6" width="158" height="18.1" rx="3"/>
<rect x="67" y="1562.5" width="158" height="18.1" rx="3"/>
<rect x="258" y="1562.5" width="156" height="18.1" rx="3"/>
<rect x="447" y="1562.5" width="158" height="18.1" rx="3"/>
<rect x="636" y="1562.5" width="158" height="18.1" rx="3"/>
<rect x="67" y="1583.4" width="158" height="18.1" rx="3"/>
<rect x="258" y="1583.4" width="156" height="18.1" rx="3"/>
<rect x="447" y="1583.4" width="158" height="18.1" rx="3"/>
<rect x="636" y="1583.4" width="158" height="18.1" rx="3"/>
<rect x="67" y="1604.2" width="158" height="18.1" rx="3"/>
<rect x="258" y="1604.2" width="156" height="18.1" rx="3"/>
<rect x="447" y="1604.2" width="158" height="18.1" rx="3"/>
<rect x="636" y="1604.2" width="158" height="18.1" rx="3"/>
<rect x="67" y="1625.1" width="158" height="18.1" rx="3"/>
<rect x="258" y="1625.1" width="156" height="18.1" rx="3"/>
<rect x="447" y="1625.1" width="158" height="18.1" rx="3"/>
<rect x="636" y="1625.1" width="158" height="18.1" rx="3"/>
<rect x="67" y="1646" width="158" height="18.1" rx="3"/>
<rect x="258" y="1646" width="156" height="18.1" rx="3"/>
<rect x="447" y="1646" width="158" height="18.1" rx="3"/>
<rect x="636" y="1646" width="158" height="18.1" rx="3"/>
<rect x="67" y="1666.8" width="158" height="18.1" rx="3"/>
<rect x="258" y="1666.8" width="156" height="18.1" rx="3"/>
<rect x="447" y="1666.8" width="158" height="18.1" rx="3"/>
<rect x="636" y="1666.8" width="158" height="18.1" rx="3"/>
<rect x="67" y="1687.7" width="158" height="18.1" rx="3"/>
<rect x="258" y="1687.7" width="156" height="18.1" rx="3"/>
<rect x="447" y="1687.7" width="158" height="18.1" rx="3"/>
<rect x="636" y="1687.7" width="158" height="18.1" rx="3"/>
<rect x="67" y="1708.6" width="158" height="18.1" rx="3"/>
<rect x="258" y="1708.6" width="156" height="18.1" rx="3"/>
<rect x="447" y="1708.6" width="158" height="18.1" rx="3"/>
<rect x="636" y="1708.6" width="158" height="18.1" rx="3"/>
<rect x="67" y="1729.5" width="158" height="18.1" rx="3"/>
<rect x="258" y="1729.5" width="156" height="18.1" rx="3"/>
<rect x="447" y="1729.5" width="158" height="18.1" rx="3"/>
<rect x="636" y="1729.5" width="158" height="18.1" rx="3"/>
<rect x="67" y="1750.3" width="158" height="18.1" rx="3"/>
<rect x="258" y="1750.3" width="156" height="18.1" rx="3"/>
<rect x="447" y="1750.3" width="158" height="18.1" rx="3"/>
<rect x="636" y="1750.3" width="158" height="18.1" rx="3"/>
<rect x="67" y="1771.2" width="158" height="18.1" rx="3"/>
<rect x="258" y="1771.2" width="156" height="18.1" rx="3"/>
<rect x="447" y="1771.2" width="158" height="18.1" rx="3"/>
<rect x="636" y="1771.2" width="158" height="18.1" rx="3"/>
<rect x="67" y="1792.1" width="158" height="18.1" rx="3"/>
<rect x="258" y="1792.1" width="156" height="18.1" rx="3"/>
<rect x="447" y="1792.1" width="158" height="18.1" rx="3"/>
<rect x="636" y="1792.1" width="158" height="18.1" rx="3"/>
<rect x="67" y="1812.9" width="158" height="18.1" rx="3"/>
<rect x="258" y="1812.9" width="156" height="18.1" rx="3"/>
<rect x="447" y="1812.9" width="158" height="18.1" rx="3"/>
<rect x="636" y="1812.9" width="158" height="18.1" rx="3"/>
<rect x="67" y="1833.8" width="158" height="18.1" rx="3"/>
<rect x="258" y="1833.8" width="156" height="18.1" rx="3"/>
<rect x="447" y="1833.8" width="158" height="18.1" rx="3"/>
<rect x="636" y="1833.8" width="158" height="18.1" rx="3"/>
<rect x="67" y="1854.7" width="158" height="18.1" rx="3"/>
<rect x="258" y="1854.7" width="156" height="18.1" rx="3"/>
<rect x="447" y="1854.7" width="158" height="18.1" rx="3"/>
<rect x="636" y="1854.7" width="158" height="18.1" rx="3"/>
<rect x="67" y="1875.5" width="158" height="18.1" rx="3"/>
<rect x="258" y="1875.5" width="156" height="18.1" rx="3"/>
<rect x="447" y="1875.5" width="158" height="18.1" rx="3"/>
<rect x="636" y="1875.5" width="158" height="18.1" rx="3"/>
<rect x="67" y="1896.4" width="158" height="18.1" rx="3"/>
<rect x="258" y="1896.4" width="156" height="18.1" rx="3"/>
<rect x="447" y="1896.4" width="158" height="18.1" rx="3"/>
<rect x="636" y="1896.4" width="158" height="18.1" rx="3"/>
<rect x="67" y="1917.3" width="158" height="18.1" rx="3"/>
<rect x="258" y="1917.3" width="156" height="18.1" rx="3"/>
<rect x="447" y="1917.3" width="158" height="18.1" rx="3"/>
<rect x="636" y="1917.3" width="158" height="18.1" rx="3"/>
<rect x="67" y="1938.2" width="158" height="18.1" rx="3"/>
<rect x="258" y="1938.2" width="156" height="18.1" rx="3"/>
<rect x="447" y="1938.2" width="158" height="18.1" rx="3"/>
<rect x="636" y="1938.2" width="158" height="18.1" rx="3"/>
<rect x="67" y="1959" width="158" height="18.1" rx="3"/>
<rect x="258" y="1959" width="156" height="18.1" rx="3"/>
<rect x="447" y="1959" width="158" height="18.1" rx="3"/>
<rect x="636" y="1959" width="158" height="18.1" rx="3"/>
<rect x="67" y="1979.9" width="158" height="18.1" rx="3"/>
<rect x="258" y="1979.9" width="156" height="18.1" rx="3"/>
<rect x="447" y="1979.9" width="158" height="18.1" rx="3"/>
<rect x="636" y="1979.9" width="158" height="18.1" rx="3"/>
<rect x="67" y="2000.8" width="158" height="18.1" rx="3"/>
<rect x="258" y="2000.8" width="156" height="18.1" rx="3"/>
<rect x="447" y="2000.8" width="158" height="18.1" rx="3"/>
<rect x="636" y="2000.8" width="158" height="18.1" rx="3"/>
<rect x="67" y="2021.6" width="158" height="18.1" rx="3"/>
<rect x="258" y="2021.6" width="156" height="18.1" rx="3"/>
<rect x="447" y="2021.6" width="158" height="18.1" rx="3"/>
<rect x="636" y="2021.6" width="158" height="18.1" rx="3"/>
<rect x="67" y="2042.5" width="158" height="18.1" rx="3"/>
<rect x="258" y="2042.5" width="156" height="18.1" rx="3"/>
<rect x="447" y="2042.5" width="158" height="18.1" rx="3"/>
<rect x="636" y="2042.5" width="158" height="18.1" rx="3"/>
<rect x="67" y="2063.4" width="158" height="18.1" rx="3"/>
<rect x="258" y="2063.4" width="156" height="18.1" rx="3"/>
<rect x="447" y="2063.4" width="158" height="18.1" rx="3"/>
<rect x="636" y="2063.4" width="158" height="18.1" rx="3"/>
<rect x="67" y="2084.2" width="158" height="18.1" rx="3"/>
<rect x="258" y="2084.2" width="156" height="18.1" rx="3"/>
<rect x="447" y="2084.2" width="158" height="18.1" rx="3"/>
<rect x="636" y="2084.2" width="158" height="18.1" rx="3"/>
<rect x="67" y="2105.1" width="158" height="18.1" rx="3"/>
<rect x="258" y="2105.1" width="156" height="18.1" rx="3"/>
<rect x="447" y="2105.1" width="158" height="18.1" rx="3"/>
<rect x="636" y="2105.1" width="158" height="18.1" rx="3"/>
<rect x="67" y="2126" width="158" height="18.1" rx="3"/>
<rect x="258" y="2126" width="156" height="18.1" rx="3"/>
<rect x="447" y="2126" width="158" height="18.1" rx="3"/>
<rect x="636" y="2126" width="158" height="18.1" rx="3"/>
<rect x="67" y="2146.8" width="158" height="18.1" rx="3"/>
<rect x="258" y="2146.8" width="156" height="18.1" rx="3"/>
<rect x="447" y="2146.8" width="158" height="18.1" rx="3"/>
<rect x="636" y="2146.8" width="158" height="18.1" rx="3"/>
<rect x="67" y="2167.7" width="158" height="18.1" rx="3"/>
<rect x="258" y="2167.7" width="156" height="18.1" rx="3"/>
<rect x="447" y="2167.7" width="158" height="18.1" rx="3"/>
<rect x="636" y="2167.7" width="158" height="18.1" rx="3"/>
<rect x="67" y="2188.6" width="158" height="18.1" rx="3"/>
<rect x="258" y="2188.6" width="156" height="18.1" rx="3"/>
<rect x="447" y="2188.6" width="158" height="18.1" rx="3"/>
<rect x="636" y="2188.6" width="158" height="18.1" rx="3"/>
<rect x="67" y="2209.5" width="158" height="18.1" rx="3"/>
<rect x="258" y="2209.5" width="156" height="18.1" rx="3"/>
<rect x="447" y="2209.5" width="158" height="18.1" rx="3"/>
<rect x="636" y="2209.5" width="158" height="18.1" rx="3"/>
<rect x="67" y="2230.3" width="158" height="18.1" rx="3"/>
<rect x="258" y="2230.3" width="156" height="18.1" rx="3"/>
<rect x="447" y="2230.3" width="158" height="18.1" rx="3"/>
<rect x="636" y="2230.3" width="158" height="18.1" rx="3"/>
<rect x="67" y="2251.2" width="158" height="18.1" rx="3"/>
<rect x="258" y="2251.2" width="156" height="18.1" rx="3"/>
<rect x="447" y="2251.2" width="158" height="18.1" rx="3"/>
<rect x="636" y="2251.2" width="158" height="18.1" rx="3"/>
<rect x="67" y="2272.1" width="158" height="18.1" rx="3"/>
<rect x="258" y="2272.1" width="156" height="18.1" rx="3"/>
<rect x="447" y="2272.1" width="158" height="18.1" rx="3"/>
<rect x="636" y="2272.1" width="158" height="18.1" rx="3"/>
<rect x="67" y="2292.9" width="158" height="18.1" rx="3"/>
<rect x="258" y="2292.9" width="156" height="18.1" rx="3"/>
<rect x="447" y="2292.9" width="158" height="18.1" rx="3"/>
<rect x="636" y="2292.9" width="158" height="18.1" rx="3"/>
<rect x="67" y="2313.8" width="158" height="18.1" rx="3"/>
<rect x="258" y="2313.8" width="156" height="18.1" rx="3"/>
<rect x="447" y="2313.8" width="158" height="18.1" rx="3"/>
<rect x="636" y="2313.8" width="158" height="18.1" rx="3"/>
<rect x="67" y="2334.7" width="158" height="18.1" rx="3"/>
<rect x="258" y="2334.7" width="156" height="18.1" rx="3"/>
<rect x="447" y="2334.7" width="158" height="18.1" rx="3"/>
<rect x="636" y="2334.7" width="158" height="18.1" rx="3"/>
<rect x="67" y="2355.6" width="158" height="18.1" rx="3"/>
<rect x="258" y="2355.6" width="156" height="18.1" rx="3"/>
<rect x="447" y="2355.6" width="158" height="18.1" rx="3"/>
<rect x="636" y="2355.6" width="158" height="18.1" rx="3"/>
<rect x="67" y="2376.4" width="158" height="18.1" rx="3"/>
<rect x="258" y="2376.4" width="156" height="18.1" rx="3"/>
<rect x="447" y="2376.4" width="158" height="18.1" rx="3"/>
<rect x="636" y="2376.4" width="158" height="18.1" rx="3"/>
<rect x="67" y="2397.3" width="158" height="18.1" rx="3"/>
<rect x="258" y="2397.3" width="156" height="18.1" rx="3"/>
<rect x="447" y="2397.3" width="158" height="18.1" rx="3"/>
<rect x="636" y="2397.3" width="158" height="18.1" rx="3"/>
<rect x="67" y="2418.2" width="158" height="18.1" rx="3"/>
<rect x="258" y="2418.2" width="156" height="18.1" rx="3"/>
<rect x="447" y="2418.2" width="158" height="18.1" rx="3"/>
<rect x="636" y="2418.2" width="158" height="18.1" rx="3"/>
<rect x="67" y="2439" width="158" height="18.1" rx="3"/>
<rect x="258" y="2439" width="156" height="18.1" rx="3"/>
<rect x="447" y="2439" width="158" height="18.1" rx="3"/>
<rect x="636" y="2439" width="158" height="18.1" rx="3"/>
<rect x="67" y="2459.9" width="158" height="18.1" rx="3"/>
<rect x="258" y="2459.9" width="156" height="18.1" rx="3"/>
<rect x="447" y="2459.9" width="158" height="18.1" rx="3"/>
<rect x="636" y="2459.9" width="158" height="18.1" rx="3"/>
</g>
<g fill="#ece52c" filter="url(#n69)">
<rect x="185.5" y="1625.1" width="39.5" height="18.1"/>
<rect x="185.5" y="1646" width="39.5" height="18.1"/>
<rect x="185.5" y="1666.8" width="39.5" height="18.1"/>
<rect x="185.5" y="1687.7" width="39.5" height="18.1"/>
</g>
<g fill="#ece52c" filter="url(#n70)">
<rect x="258" y="1625.1" width="39" height="18.1"/>
<rect x="258" y="1646" width="39" height="18.1"/>
<rect x="258" y="1666.8" width="39" height="18.1"/>
<rect x="258" y="1687.7" width="39" height="18.1"/>
</g>
<g fill="#ece52c" filter="url(#n71)">
<rect x="185.5" y="1583.4" width="39.5" height="18.1"/>
<rect x="185.5" y="1604.2" width="39.5" height="18.1"/>
</g>
<g fill="#ece52c" filter="url(#n72)">
<rect x="258" y="1583.4" width="39" height="18.1"/>
<rect x="258" y="1604.2" width="39" height="18.1"/>
</g>
<g fill="#6cb33c" filter="url(#n73)">
<rect x="67" y="1400.8" width="158" height="10.4" rx="3"/>
</g>
<g fill="#6cb33c" filter="url(#n74)">
<rect x="258" y="1400.8" width="156" height="10.4" rx="3"/>
</g>
<g fill="#6cb33c" filter="url(#n75)">
<rect x="447" y="1400.8" width="158" height="10.4" rx="3"/>
<rect x="636" y="1400.8" width="158" height="10.4" rx="3"/>
<rect x="67" y="1481.4" width="158" height="13.3" rx="3"/>
<rect x="67" y="1502.3" width="158" height="13.3" rx="3"/>
</g>
<g fill="#6cb33c" filter="url(#n76)">
<rect x="258" y="1481.4" width="156" height="13.3" rx="3"/>
<rect x="258" y="1502.3" width="156" height="13.3" rx="3"/>
</g>
<g fill="#6cb33c" filter="url(#n77)">
<rect x="67" y="1418.8" width="158" height="13.3" rx="3"/>
<rect x="67" y="1439.7" width="158" height="13.3" rx="3"/>
<rect x="447" y="1481.4" width="158" height="13.3" rx="3"/>
<rect x="636" y="1481.4" width="158" height="13.3" rx="3"/>
<rect x="447" y="1502.3" width="158" height="13.3" rx="3"/>
<rect x="636" y="1502.3" width="158" height="13.3" rx="3"/>
<rect x="67" y="1544" width="158" height="13.3" rx="3"/>
<rect x="67" y="1564.9" width="158" height="13.3" rx="3"/>
<rect x="67" y="1627.5" width="158" height="13.3" rx="3"/>
<rect x="67" y="1648.4" width="158" height="13.3" rx="3"/>
<rect x="67" y="1669.2" width="158" height="13.3" rx="3"/>
<rect x="67" y="1690.1" width="158" height="13.3" rx="3"/>
<rect x="67" y="1711" width="158" height="13.3" rx="3"/>
<rect x="67" y="1731.9" width="158" height="13.3" rx="3"/>
<rect x="67" y="1752.7" width="158" height="13.3" rx="3"/>
<rect x="67" y="1773.6" width="158" height="13.3" rx="3"/>
<rect x="67" y="1794.5" width="158" height="13.3" rx="3"/>
<rect x="67" y="1857.1" width="158" height="13.3" rx="3"/>
<rect x="67" y="1877.9" width="158" height="13.3" rx="3"/>
<rect x="67" y="1898.8" width="158" height="13.3" rx="3"/>
<rect x="67" y="1919.7" width="158" height="13.3" rx="3"/>
</g>
<g fill="#6cb33c" filter="url(#n78)">
<rect x="258" y="1418.8" width="156" height="13.3" rx="3"/>
<rect x="258" y="1439.7" width="156" height="13.3" rx="3"/>
<rect x="258" y="1544" width="156" height="13.3" rx="3"/>
<rect x="258" y="1564.9" width="156" height="13.3" rx="3"/>
<rect x="258" y="1627.5" width="156" height="13.3" rx="3"/>
<rect x="258" y="1648.4" width="156" height="13.3" rx="3"/>
<rect x="258" y="1669.2" width="156" height="13.3" rx="3"/>
<rect x="258" y="1690.1" width="156" height="13.3" rx="3"/>
<rect x="258" y="1711" width="156" height="13.3" rx="3"/>
<rect x="258" y="1731.9" width="156" height="13.3" rx="3"/>
<rect x="258" y="1752.7" width="156" height="13.3" rx="3"/>
<rect x="258" y="1773.6" width="156" height="13.3" rx="3"/>
<rect x="258" y="1794.5" width="156" height="13.3" rx="3"/>
<rect x="258" y="1857.1" width="156" height="13.3" rx="3"/>
<rect x="258" y="1877.9" width="156" height="13.3" rx="3"/>
<rect x="258" y="1898.8" width="156" height="13.3" rx="3"/>
<rect x="258" y="1919.7" width="156" height="13.3" rx="3"/>
</g>
<g fill="#6cb33c" filter="url(#n79)">
<rect x="447" y="1418.8" width="158" height="13.3" rx="3"/>
<rect x="636" y="1418.8" width="158" height="13.3" rx="3"/>
<rect x="447" y="1439.7" width="158" height="13.3" rx="3"/>
<rect x="636" y="1439.7" width="158" height="13.3" rx="3"/>
<rect x="447" y="1544" width="158" height="13.3" rx="3"/>
<rect x="636" y="1544" width="158" height="13.3" rx="3"/>
<rect x="447" y="1564.9" width="158" height="13.3" rx="3"/>
<rect x="636" y="1564.9" width="158" height="13.3" rx="3"/>
<rect x="447" y="1627.5" width="158" height="13.3" rx="3"/>
<rect x="636" y="1627.5" width="158" height="13.3" rx="3"/>
<rect x="447" y="1648.4" width="158" height="13.3" rx="3"/>
<rect x="636" y="1648.4" width="158" height="13.3" rx="3"/>
<rect x="447" y="1669.2" width="158" height="13.3" rx="3"/>
<rect x="636" y="1669.2" width="158" height="13.3" rx="3"/>
<rect x="447" y="1690.1" width="158" height="13.3" rx="3"/>
<rect x="636" y="1690.1" width="158" height="13.3" rx="3"/>
<rect x="447" y="1711" width="158" height="13.3" rx="3"/>
<rect x="636" y="1711" width="158" height="13.3" rx="3"/>
<rect x="447" y="1731.9" width="158" height="13.3" rx="3"/>
<rect x="636" y="1731.9" width="158" height="13.3" rx="3"/>
<rect x="447" y="1752.7" width="158" height="13.3" rx="3"/>
<rect x="636" y="1752.7" width="158" height="13.3" rx="3"/>
<rect x="447" y="1773.6" width="158" height="13.3" rx="3"/>
<rect x="636" y="1773.6" width="158" height="13.3" rx="3"/>
<rect x="447" y="1794.5" width="158" height="13.3" rx="3"/>
<rect x="636" y="1794.5" width="158" height="13.3" rx="3"/>
<rect x="447" y="1857.1" width="158" height="13.3" rx="3"/>
<rect x="636" y="1857.1" width="158" height="13.3" rx="3"/>
<rect x="447" y="1877.9" width="158" height="13.3" rx="3"/>
<rect x="636" y="1877.9" width="158" height="13.3" rx="3"/>
<rect x="447" y="1898.8" width="158" height="13.3" rx="3"/>
<rect x="636" y="1898.8" width="158" height="13.3" rx="3"/>
<rect x="447" y="1919.7" width="158" height="13.3" rx="3"/>
<rect x="636" y="1919.7" width="158" height="13.3" rx="3"/>
<rect x="67" y="1940.6" width="158" height="13.3" rx="3"/>
<rect x="67" y="1961.4" width="158" height="13.3" rx="3"/>
<rect x="67" y="1982.3" width="158" height="13.3" rx="3"/>
<rect x="67" y="2003.2" width="158" height="13.3" rx="3"/>
<rect x="67" y="2024" width="158" height="13.3" rx="3"/>
<rect x="67" y="2044.9" width="158" height="13.3" rx="3"/>
<rect x="67" y="2065.8" width="158" height="13.3" rx="3"/>
<rect x="67" y="2086.6" width="158" height="13.3" rx="3"/>
<rect x="67" y="2107.5" width="158" height="13.3" rx="3"/>
<rect x="67" y="2128.4" width="158" height="13.3" rx="3"/>
<rect x="67" y="2149.2" width="158" height="13.3" rx="3"/>
<rect x="67" y="2170.1" width="158" height="13.3" rx="3"/>
<rect x="67" y="2191" width="158" height="13.3" rx="3"/>
<rect x="67" y="2211.9" width="158" height="13.3" rx="3"/>
<rect x="67" y="2232.7" width="158" height="13.3" rx="3"/>
<rect x="67" y="2253.6" width="158" height="13.3" rx="3"/>
<rect x="67" y="2274.5" width="158" height="13.3" rx="3"/>
<rect x="67" y="2295.3" width="158" height="13.3" rx="3"/>
<rect x="67" y="2316.2" width="158" height="13.3" rx="3"/>
<rect x="67" y="2337.1" width="158" height="13.3" rx="3"/>
<rect x="67" y="2358" width="158" height="13.3" rx="3"/>
<rect x="67" y="2378.8" width="158" height="13.3" rx="3"/>
<rect x="67" y="2399.7" width="158" height="13.3" rx="3"/>
<rect x="67" y="2420.6" width="158" height="13.3" rx="3"/>
<rect x="67" y="2441.4" width="158" height="13.3" rx="3"/>
<rect x="67" y="2462.3" width="158" height="13.3" rx="3"/>
</g>
<g fill="#6cb33c" filter="url(#n80)">
<rect x="67" y="1460.5" width="158" height="13.3" rx="3"/>
<rect x="67" y="1523.2" width="158" height="13.3" rx="3"/>
<rect x="67" y="1585.8" width="158" height="13.3" rx="3"/>
<rect x="67" y="1606.6" width="158" height="13.3" rx="3"/>
<rect x="67" y="1815.3" width="158" height="13.3" rx="3"/>
<rect x="67" y="1836.2" width="158" height="13.3" rx="3"/>
<rect x="258" y="1940.6" width="156" height="13.3" rx="3"/>
<rect x="258" y="1961.4" width="156" height="13.3" rx="3"/>
<rect x="258" y="1982.3" width="156" height="13.3" rx="3"/>
<rect x="258" y="2003.2" width="156" height="13.3" rx="3"/>
<rect x="258" y="2024" width="156" height="13.3" rx="3"/>
<rect x="258" y="2044.9" width="156" height="13.3" rx="3"/>
<rect x="258" y="2065.8" width="156" height="13.3" rx="3"/>
<rect x="258" y="2086.6" width="156" height="13.3" rx="3"/>
<rect x="258" y="2107.5" width="156" height="13.3" rx="3"/>
<rect x="258" y="2128.4" width="156" height="13.3" rx="3"/>
<rect x="258" y="2149.2" width="156" height="13.3" rx="3"/>
<rect x="258" y="2170.1" width="156" height="13.3" rx="3"/>
<rect x="258" y="2191" width="156" height="13.3" rx="3"/>
<rect x="258" y="2211.9" width="156" height="13.3" rx="3"/>
<rect x="258" y="2232.7" width="156" height="13.3" rx="3"/>
<rect x="258" y="2253.6" width="156" height="13.3" rx="3"/>
<rect x="258" y="2274.5" width="156" height="13.3" rx="3"/>
<rect x="258" y="2295.3" width="156" height="13.3" rx="3"/>
<rect x="258" y="2316.2" width="156" height="13.3" rx="3"/>
<rect x="258" y="2337.1" width="156" height="13.3" rx="3"/>
<rect x="258" y="2358" width="156" height="13.3" rx="3"/>
<rect x="258" y="2378.8" width="156" height="13.3" rx="3"/>
<rect x="258" y="2399.7" width="156" height="13.3" rx="3"/>
<rect x="258" y="2420.6" width="156" height="13.3" rx="3"/>
<rect x="258" y="2441.4" width="156" height="13.3" rx="3"/>
<rect x="258" y="2462.3" width="156" height="13.3" rx="3"/>
</g>
<g fill="#6cb33c" filter="url(#n81)">
<rect x="258" y="1460.5" width="156" height="13.3" rx="3"/>
<rect x="258" y="1523.2" width="156" height="13.3" rx="3"/>
<rect x="258" y="1585.8" width="156" height="13.3" rx="3"/>
<rect x="258" y="1606.6" width="156" height="13.3" rx="3"/>
<rect x="258" y="1815.3" width="156" height="13.3" rx="3"/>
<rect x="258" y="1836.2" width="156" height="13.3" rx="3"/>
</g>
<g fill="#6cb33c" filter="url(#n82)">
<rect x="447" y="1460.5" width="158" height="13.3" rx="3"/>
<rect x="636" y="1460.5" width="158" height="13.3" rx="3"/>
<rect x="447" y="1523.2" width="158" height="13.3" rx="3"/>
<rect x="636" y="1523.2" width="158" height="13.3" rx="3"/>
<rect x="447" y="1585.8" width="158" height="13.3" rx="3"/>
<rect x="636" y="1585.8" width="158" height="13.3" rx="3"/>
<rect x="447" y="1606.6" width="158" height="13.3" rx="3"/>
<rect x="636" y="1606.6" width="158" height="13.3" rx="3"/>
<rect x="447" y="1815.3" width="158" height="13.3" rx="3"/>
<rect x="636" y="1815.3" width="158" height="13.3" rx="3"/>
<rect x="447" y="1836.2" width="158" height="13.3" rx="3"/>
<rect x="636" y="1836.2" width="158" height="13.3" rx="3"/>
</g>
<g fill="#6cb33c">
<rect x="447" y="1940.6" width="158" height="13.3" rx="3"/>
<rect x="636" y="1940.6" width="158" height="13.3" rx="3"/>
<rect x="447" y="1961.4" width="158" height="13.3" rx="3"/>
<rect x="636" y="1961.4" width="158" height="13.3" rx="3"/>
<rect x="447" y="1982.3" width="158" height="13.3" rx="3"/>
<rect x="636" y="1982.3" width="158" height="13.3" rx="3"/>
<rect x="447" y="2003.2" width="158" height="13.3" rx="3"/>
<rect x="636" y="2003.2" width="158" height="13.3" rx="3"/>
<rect x="447" y="2024" width="158" height="13.3" rx="3"/>
<rect x="636" y="2024" width="158" height="13.3" rx="3"/>
<rect x="447" y="2044.9" width="158" height="13.3" rx="3"/>
<rect x="636" y="2044.9" width="158" height="13.3" rx="3"/>
<rect x="447" y="2065.8" width="158" height="13.3" rx="3"/>
<rect x="636" y="2065.8" width="158" height="13.3" rx="3"/>
<rect x="447" y="2086.6" width="158" height="13.3" rx="3"/>
<rect x="636" y="2086.6" width="158" height="13.3" rx="3"/>
<rect x="447" y="2107.5" width="158" height="13.3" rx="3"/>
<rect x="636" y="2107.5" width="158" height="13.3" rx="3"/>
<rect x="447" y="2128.4" width="158" height="13.3" rx="3"/>
<rect x="636" y="2128.4" width="158" height="13.3" rx="3"/>
<rect x="447" y="2149.2" width="158" height="13.3" rx="3"/>
<rect x="636" y="2149.2" width="158" height="13.3" rx="3"/>
<rect x="447" y="2170.1" width="158" height="13.3" rx="3"/>
<rect x="636" y="2170.1" width="158" height="13.3" rx="3"/>
<rect x="447" y="2191" width="158" height="13.3" rx="3"/>
<rect x="636" y="2191" width="158" height="13.3" rx="3"/>
<rect x="447" y="2211.9" width="158" height="13.3" rx="3"/>
<rect x="636" y="2211.9" width="158" height="13.3" rx="3"/>
<rect x="447" y="2232.7" width="158" height="13.3" rx="3"/>
<rect x="636" y="2232.7" width="158" height="13.3" rx="3"/>
<rect x="447" y="2253.6" width="158" height="13.3" rx="3"/>
<rect x="636" y="2253.6" width="158" height="13.3" rx="3"/>
<rect x="447" y="2274.5" width="158" height="13.3" rx="3"/>
<rect x="636" y="2274.5" width="158" height="13.3" rx="3"/>
<rect x="447" y="2295.3" width="158" height="13.3" rx="3"/>
<rect x="636" y="2295.3" width="158" height="13.3" rx="3"/>
<rect x="447" y="2316.2" width="158" height="13.3" rx="3"/>
<rect x="636" y="2316.2" width="158" height="13.3" rx="3"/>
<rect x="447" y="2337.1" width="158" height="13.3" rx="3"/>
<rect x="636" y="2337.1" width="158" height="13.3" rx="3"/>
<rect x="447" y="2358" width="158" height="13.3" rx="3"/>
<rect x="636" y="2358" width="158" height="13.3" rx="3"/>
<rect x="447" y="2378.8" width="158" height="13.3" rx="3"/>
<rect x="636" y="2378.8" width="158" height="13.3" rx="3"/>
<rect x="447" y="2399.7" width="158" height="13.3" rx="3"/>
<rect x="636" y="2399.7" width="158" height="13.3" rx="3"/>
<rect x="447" y="2420.6" width="158" height="13.3" rx="3"/>
<rect x="636" y="2420.6" width="158" height="13.3" rx="3"/>
<rect x="447" y="2441.4" width="158" height="13.3" rx="3"/>
<rect x="636" y="2441.4" width="158" height="13.3" rx="3"/>
<rect x="447" y="2462.3" width="158" height="13.3" rx="3"/>
<rect x="636" y="2462.3" width="158" height="13.3" rx="3"/>
</g>
<polygon points="96,1398.4 98.5,1398.4 82.5,2478 80,2478" fill="#c4d840"/>
<polygon points="118,1398.4 120.5,1398.4 103.5,2478 101,2478" fill="#c4d840"/>
<rect x="226" y="1398.4" width="31" height="1079.6" fill="#e5302a"/>
<rect x="415" y="1398.4" width="31" height="1079.6" fill="#e5302a"/>
<rect x="606" y="1398.4" width="29" height="1079.6" fill="#e5302a"/>
<g fill="#aacb3a" filter="url(#n83)">
<rect x="230" y="1398.4" width="17" height="1079.6"/>
<rect x="419" y="1398.4" width="17" height="1079.6"/>
<rect x="610" y="1398.4" width="17" height="1079.6"/>
</g>
<g fill="#eee42a" filter="url(#n84)">
<rect x="226" y="1398.4" width="24" height="1079.6"/>
<rect x="415" y="1398.4" width="24" height="1079.6"/>
<rect x="606" y="1398.4" width="24" height="1079.6"/>
</g>
</g>
<g font-family="Liberation Sans, Arial, sans-serif" font-size="20.5" fill="#161616" text-anchor="middle">
<text transform="translate(817,1416.8) scale(1,1.05)">1</text>
<text transform="translate(817,1437.4) scale(1,1.05)">2</text>
<text transform="translate(817,1458.1) scale(1,1.05)">3</text>
<text transform="translate(817,1478.7) scale(1,1.05)">4</text>
<text transform="translate(817,1499.3) scale(1,1.05)">5</text>
<text transform="translate(817,1520) scale(1,1.05)">6</text>
<text transform="translate(817,1540.6) scale(1,1.05)">7</text>
<text transform="translate(817,1561.2) scale(1,1.05)">8</text>
<text transform="translate(817,1581.8) scale(1,1.05)">9</text>
<text transform="translate(817,1602.5) scale(1,1.05)">10</text>
<text transform="translate(817,1623.1) scale(1,1.05)">11</text>
<text transform="translate(817,1643.7) scale(1,1.05)">12</text>
<text transform="translate(817,1664.4) scale(1,1.05)">13</text>
<text transform="translate(817,1685) scale(1,1.05)">14</text>
<text transform="translate(817,1705.6) scale(1,1.05)">15</text>
<text transform="translate(817,1726.2) scale(1,1.05)">16</text>
<text transform="translate(817,1746.9) scale(1,1.05)">17</text>
<text transform="translate(817,1767.5) scale(1,1.05)">18</text>
<text transform="translate(817,1788.1) scale(1,1.05)">19</text>
<text transform="translate(817,1808.8) scale(1,1.05)">20</text>
<text transform="translate(817,1829.4) scale(1,1.05)">21</text>
<text transform="translate(817,1850) scale(1,1.05)">22</text>
<text transform="translate(817,1870.7) scale(1,1.05)">23</text>
<text transform="translate(817,1891.3) scale(1,1.05)">24</text>
<text transform="translate(817,1911.9) scale(1,1.05)">25</text>
<text transform="translate(817,1932.5) scale(1,1.05)">26</text>
<text transform="translate(817,1953.2) scale(1,1.05)">1</text>
<text transform="translate(817,1973.8) scale(1,1.05)">2</text>
<text transform="translate(817,1994.4) scale(1,1.05)">3</text>
<text transform="translate(817,2015.1) scale(1,1.05)">4</text>
<text transform="translate(817,2035.7) scale(1,1.05)">5</text>
<text transform="translate(817,2056.3) scale(1,1.05)">6</text>
<text transform="translate(817,2077) scale(1,1.05)">7</text>
<text transform="translate(817,2097.6) scale(1,1.05)">8</text>
<text transform="translate(817,2118.2) scale(1,1.05)">9</text>
<text transform="translate(817,2138.8) scale(1,1.05)">10</text>
<text transform="translate(817,2159.5) scale(1,1.05)">11</text>
<text transform="translate(817,2180.1) scale(1,1.05)">12</text>
<text transform="translate(817,2200.7) scale(1,1.05)">13</text>
<text transform="translate(817,2221.4) scale(1,1.05)">14</text>
<text transform="translate(817,2242) scale(1,1.05)">15</text>
<text transform="translate(817,2262.6) scale(1,1.05)">16</text>
<text transform="translate(817,2283.3) scale(1,1.05)">17</text>
<text transform="translate(817,2303.9) scale(1,1.05)">18</text>
<text transform="translate(817,2324.5) scale(1,1.05)">19</text>
<text transform="translate(817,2345.1) scale(1,1.05)">20</text>
<text transform="translate(817,2365.8) scale(1,1.05)">21</text>
<text transform="translate(817,2386.4) scale(1,1.05)">22</text>
<text transform="translate(817,2407) scale(1,1.05)">23</text>
<text transform="translate(817,2427.7) scale(1,1.05)">24</text>
<text transform="translate(817,2448.3) scale(1,1.05)">25</text>
<text transform="translate(817,2468.9) scale(1,1.05)">26</text>
</g>
<text x="46.6" y="1392.6" font-family="Liberation Sans, Arial, sans-serif" font-weight="bold" font-size="36.5" fill="#111">May</text>
<rect x="28.7" y="2500" width="843.1" height="2.8" fill="#111"/>
<rect x="28.7" y="1357.7" width="2.8" height="1145.1" fill="#111"/>
<rect x="869" y="1357.7" width="2.8" height="1145.1" fill="#111"/>
<rect x="28.7" y="1357.7" width="843.1" height="2.8" fill="#111"/>
</g>
<g>
<rect x="903" y="1360.5" width="836" height="1139.5" fill="#e2ebc2"/>
<rect x="903" y="1360.5" width="836" height="1139.5" fill="#f4bcc2" filter="url(#n85)"/>
<rect x="903" y="1360.5" width="836" height="1139.5" fill="#eef0b0" filter="url(#n86)"/>
<rect x="903" y="1386" width="791" height="12.5" fill="#f2a8b0"/>
<rect x="918" y="1386" width="20" height="1114" fill="#f2a8b0"/>
<rect x="1667" y="1386" width="28" height="1114" fill="#f2a8b0"/>
<rect x="1100" y="2469" width="30" height="31" fill="#f2a8b0"/>
<rect x="1291" y="2469" width="30" height="31" fill="#f2a8b0"/>
<rect x="1481" y="2469" width="30" height="31" fill="#f2a8b0"/>
<rect x="903" y="1380" width="791" height="10" fill="#f2a8b0" filter="url(#n87)"/>
<rect x="912" y="1386" width="10" height="1114" fill="#f2a8b0" filter="url(#n88)"/>
<rect x="1692" y="1386" width="8" height="1114" fill="#f2a8b0" filter="url(#n89)"/>
<g transform="matrix(1 0 0.00400 1 -5.594 0)">
<rect x="937" y="1398.4" width="730" height="1079.6" fill="#b8cf3a"/>
<rect x="937" y="1398.4" width="730" height="1079.6" fill="#e5302a" filter="url(#n90)"/>
<g fill="#62ae3c">
<rect x="938" y="1398.4" width="159" height="14.6" rx="3"/>
<rect x="1128" y="1398.4" width="159" height="14.6" rx="3"/>
<rect x="1319" y="1398.4" width="159" height="14.6" rx="3"/>
<rect x="1507" y="1398.4" width="159" height="14.6" rx="3"/>
<rect x="938" y="1417" width="159" height="16.9" rx="3"/>
<rect x="1128" y="1417" width="159" height="16.9" rx="3"/>
<rect x="1319" y="1417" width="159" height="16.9" rx="3"/>
<rect x="1507" y="1417" width="159" height="16.9" rx="3"/>
<rect x="938" y="1437.9" width="159" height="16.9" rx="3"/>
<rect x="1128" y="1437.9" width="159" height="16.9" rx="3"/>
<rect x="1319" y="1437.9" width="159" height="16.9" rx="3"/>
<rect x="1507" y="1437.9" width="159" height="16.9" rx="3"/>
<rect x="938" y="1458.7" width="159" height="16.9" rx="3"/>
<rect x="1128" y="1458.7" width="159" height="16.9" rx="3"/>
<rect x="1319" y="1458.7" width="159" height="16.9" rx="3"/>
<rect x="1507" y="1458.7" width="159" height="16.9" rx="3"/>
<rect x="938" y="1479.6" width="159" height="16.9" rx="3"/>
<rect x="1128" y="1479.6" width="159" height="16.9" rx="3"/>
<rect x="1319" y="1479.6" width="159" height="16.9" rx="3"/>
<rect x="1507" y="1479.6" width="159" height="16.9" rx="3"/>
<rect x="938" y="1500.5" width="159" height="16.9" rx="3"/>
<rect x="1128" y="1500.5" width="159" height="16.9" rx="3"/>
<rect x="1319" y="1500.5" width="159" height="16.9" rx="3"/>
<rect x="1507" y="1500.5" width="159" height="16.9" rx="3"/>
<rect x="938" y="1521.3" width="159" height="16.9" rx="3"/>
<rect x="1128" y="1521.3" width="159" height="16.9" rx="3"/>
<rect x="1319" y="1521.3" width="159" height="16.9" rx="3"/>
<rect x="1507" y="1521.3" width="159" height="16.9" rx="3"/>
<rect x="938" y="1542.2" width="159" height="16.9" rx="3"/>
<rect x="1128" y="1542.2" width="159" height="16.9" rx="3"/>
<rect x="1319" y="1542.2" width="159" height="16.9" rx="3"/>
<rect x="1507" y="1542.2" width="159" height="16.9" rx="3"/>
<rect x="938" y="1563.1" width="159" height="16.9" rx="3"/>
<rect x="1128" y="1563.1" width="159" height="16.9" rx="3"/>
<rect x="1319" y="1563.1" width="159" height="16.9" rx="3"/>
<rect x="1507" y="1563.1" width="159" height="16.9" rx="3"/>
<rect x="938" y="1584" width="159" height="16.9" rx="3"/>
<rect x="1128" y="1584" width="159" height="16.9" rx="3"/>
<rect x="1319" y="1584" width="159" height="16.9" rx="3"/>
<rect x="1507" y="1584" width="159" height="16.9" rx="3"/>
<rect x="938" y="1604.8" width="159" height="16.9" rx="3"/>
<rect x="1128" y="1604.8" width="159" height="16.9" rx="3"/>
<rect x="1319" y="1604.8" width="159" height="16.9" rx="3"/>
<rect x="1507" y="1604.8" width="159" height="16.9" rx="3"/>
<rect x="938" y="1625.7" width="159" height="16.9" rx="3"/>
<rect x="1128" y="1625.7" width="159" height="16.9" rx="3"/>
<rect x="1319" y="1625.7" width="159" height="16.9" rx="3"/>
<rect x="1507" y="1625.7" width="159" height="16.9" rx="3"/>
<rect x="938" y="1646.6" width="159" height="16.9" rx="3"/>
<rect x="1128" y="1646.6" width="159" height="16.9" rx="3"/>
<rect x="1319" y="1646.6" width="159" height="16.9" rx="3"/>
<rect x="1507" y="1646.6" width="159" height="16.9" rx="3"/>
<rect x="938" y="1667.4" width="159" height="16.9" rx="3"/>
<rect x="1128" y="1667.4" width="159" height="16.9" rx="3"/>
<rect x="1319" y="1667.4" width="159" height="16.9" rx="3"/>
<rect x="1507" y="1667.4" width="159" height="16.9" rx="3"/>
<rect x="938" y="1688.3" width="159" height="16.9" rx="3"/>
<rect x="1128" y="1688.3" width="159" height="16.9" rx="3"/>
<rect x="1319" y="1688.3" width="159" height="16.9" rx="3"/>
<rect x="1507" y="1688.3" width="159" height="16.9" rx="3"/>
<rect x="938" y="1709.2" width="159" height="16.9" rx="3"/>
<rect x="1128" y="1709.2" width="159" height="16.9" rx="3"/>
<rect x="1319" y="1709.2" width="159" height="16.9" rx="3"/>
<rect x="1507" y="1709.2" width="159" height="16.9" rx="3"/>
<rect x="938" y="1730" width="159" height="16.9" rx="3"/>
<rect x="1128" y="1730" width="159" height="16.9" rx="3"/>
<rect x="1319" y="1730" width="159" height="16.9" rx="3"/>
<rect x="1507" y="1730" width="159" height="16.9" rx="3"/>
<rect x="938" y="1750.9" width="159" height="16.9" rx="3"/>
<rect x="1128" y="1750.9" width="159" height="16.9" rx="3"/>
<rect x="1319" y="1750.9" width="159" height="16.9" rx="3"/>
<rect x="1507" y="1750.9" width="159" height="16.9" rx="3"/>
<rect x="938" y="1771.8" width="159" height="16.9" rx="3"/>
<rect x="1128" y="1771.8" width="159" height="16.9" rx="3"/>
<rect x="1319" y="1771.8" width="159" height="16.9" rx="3"/>
<rect x="1507" y="1771.8" width="159" height="16.9" rx="3"/>
<rect x="938" y="1792.7" width="159" height="16.9" rx="3"/>
<rect x="1128" y="1792.7" width="159" height="16.9" rx="3"/>
<rect x="1319" y="1792.7" width="159" height="16.9" rx="3"/>
<rect x="1507" y="1792.7" width="159" height="16.9" rx="3"/>
<rect x="938" y="1813.5" width="159" height="16.9" rx="3"/>
<rect x="1128" y="1813.5" width="159" height="16.9" rx="3"/>
<rect x="1319" y="1813.5" width="159" height="16.9" rx="3"/>
<rect x="1507" y="1813.5" width="159" height="16.9" rx="3"/>
<rect x="938" y="1834.4" width="159" height="16.9" rx="3"/>
<rect x="1128" y="1834.4" width="159" height="16.9" rx="3"/>
<rect x="1319" y="1834.4" width="159" height="16.9" rx="3"/>
<rect x="1507" y="1834.4" width="159" height="16.9" rx="3"/>
<rect x="938" y="1855.3" width="159" height="16.9" rx="3"/>
<rect x="1128" y="1855.3" width="159" height="16.9" rx="3"/>
<rect x="1319" y="1855.3" width="159" height="16.9" rx="3"/>
<rect x="1507" y="1855.3" width="159" height="16.9" rx="3"/>
<rect x="938" y="1876.1" width="159" height="16.9" rx="3"/>
<rect x="1128" y="1876.1" width="159" height="16.9" rx="3"/>
<rect x="1319" y="1876.1" width="159" height="16.9" rx="3"/>
<rect x="1507" y="1876.1" width="159" height="16.9" rx="3"/>
<rect x="938" y="1897" width="159" height="16.9" rx="3"/>
<rect x="1128" y="1897" width="159" height="16.9" rx="3"/>
<rect x="1319" y="1897" width="159" height="16.9" rx="3"/>
<rect x="1507" y="1897" width="159" height="16.9" rx="3"/>
<rect x="938" y="1917.9" width="159" height="16.9" rx="3"/>
<rect x="1128" y="1917.9" width="159" height="16.9" rx="3"/>
<rect x="1319" y="1917.9" width="159" height="16.9" rx="3"/>
<rect x="1507" y="1917.9" width="159" height="16.9" rx="3"/>
<rect x="938" y="1938.8" width="159" height="16.9" rx="3"/>
<rect x="1128" y="1938.8" width="159" height="16.9" rx="3"/>
<rect x="1319" y="1938.8" width="159" height="16.9" rx="3"/>
<rect x="1507" y="1938.8" width="159" height="16.9" rx="3"/>
<rect x="938" y="1959.6" width="159" height="16.9" rx="3"/>
<rect x="1128" y="1959.6" width="159" height="16.9" rx="3"/>
<rect x="1319" y="1959.6" width="159" height="16.9" rx="3"/>
<rect x="1507" y="1959.6" width="159" height="16.9" rx="3"/>
<rect x="938" y="1980.5" width="159" height="16.9" rx="3"/>
<rect x="1128" y="1980.5" width="159" height="16.9" rx="3"/>
<rect x="1319" y="1980.5" width="159" height="16.9" rx="3"/>
<rect x="1507" y="1980.5" width="159" height="16.9" rx="3"/>
<rect x="938" y="2001.4" width="159" height="16.9" rx="3"/>
<rect x="1128" y="2001.4" width="159" height="16.9" rx="3"/>
<rect x="1319" y="2001.4" width="159" height="16.9" rx="3"/>
<rect x="1507" y="2001.4" width="159" height="16.9" rx="3"/>
<rect x="938" y="2022.2" width="159" height="16.9" rx="3"/>
<rect x="1128" y="2022.2" width="159" height="16.9" rx="3"/>
<rect x="1319" y="2022.2" width="159" height="16.9" rx="3"/>
<rect x="1507" y="2022.2" width="159" height="16.9" rx="3"/>
<rect x="938" y="2043.1" width="159" height="16.9" rx="3"/>
<rect x="1128" y="2043.1" width="159" height="16.9" rx="3"/>
<rect x="1319" y="2043.1" width="159" height="16.9" rx="3"/>
<rect x="1507" y="2043.1" width="159" height="16.9" rx="3"/>
<rect x="938" y="2064" width="159" height="16.9" rx="3"/>
<rect x="1128" y="2064" width="159" height="16.9" rx="3"/>
<rect x="1319" y="2064" width="159" height="16.9" rx="3"/>
<rect x="1507" y="2064" width="159" height="16.9" rx="3"/>
<rect x="938" y="2084.8" width="159" height="16.9" rx="3"/>
<rect x="1128" y="2084.8" width="159" height="16.9" rx="3"/>
<rect x="1319" y="2084.8" width="159" height="16.9" rx="3"/>
<rect x="1507" y="2084.8" width="159" height="16.9" rx="3"/>
<rect x="938" y="2105.7" width="159" height="16.9" rx="3"/>
<rect x="1128" y="2105.7" width="159" height="16.9" rx="3"/>
<rect x="1319" y="2105.7" width="159" height="16.9" rx="3"/>
<rect x="1507" y="2105.7" width="159" height="16.9" rx="3"/>
<rect x="938" y="2126.6" width="159" height="16.9" rx="3"/>
<rect x="1128" y="2126.6" width="159" height="16.9" rx="3"/>
<rect x="1319" y="2126.6" width="159" height="16.9" rx="3"/>
<rect x="1507" y="2126.6" width="159" height="16.9" rx="3"/>
<rect x="938" y="2147.4" width="159" height="16.9" rx="3"/>
<rect x="1128" y="2147.4" width="159" height="16.9" rx="3"/>
<rect x="1319" y="2147.4" width="159" height="16.9" rx="3"/>
<rect x="1507" y="2147.4" width="159" height="16.9" rx="3"/>
<rect x="938" y="2168.3" width="159" height="16.9" rx="3"/>
<rect x="1128" y="2168.3" width="159" height="16.9" rx="3"/>
<rect x="1319" y="2168.3" width="159" height="16.9" rx="3"/>
<rect x="1507" y="2168.3" width="159" height="16.9" rx="3"/>
<rect x="938" y="2189.2" width="159" height="16.9" rx="3"/>
<rect x="1128" y="2189.2" width="159" height="16.9" rx="3"/>
<rect x="1319" y="2189.2" width="159" height="16.9" rx="3"/>
<rect x="1507" y="2189.2" width="159" height="16.9" rx="3"/>
<rect x="938" y="2210.1" width="159" height="16.9" rx="3"/>
<rect x="1128" y="2210.1" width="159" height="16.9" rx="3"/>
<rect x="1319" y="2210.1" width="159" height="16.9" rx="3"/>
<rect x="1507" y="2210.1" width="159" height="16.9" rx="3"/>
<rect x="938" y="2230.9" width="159" height="16.9" rx="3"/>
<rect x="1128" y="2230.9" width="159" height="16.9" rx="3"/>
<rect x="1319" y="2230.9" width="159" height="16.9" rx="3"/>
<rect x="1507" y="2230.9" width="159" height="16.9" rx="3"/>
<rect x="938" y="2251.8" width="159" height="16.9" rx="3"/>
<rect x="1128" y="2251.8" width="159" height="16.9" rx="3"/>
<rect x="1319" y="2251.8" width="159" height="16.9" rx="3"/>
<rect x="1507" y="2251.8" width="159" height="16.9" rx="3"/>
<rect x="938" y="2272.7" width="159" height="16.9" rx="3"/>
<rect x="1128" y="2272.7" width="159" height="16.9" rx="3"/>
<rect x="1319" y="2272.7" width="159" height="16.9" rx="3"/>
<rect x="1507" y="2272.7" width="159" height="16.9" rx="3"/>
<rect x="938" y="2293.5" width="159" height="16.9" rx="3"/>
<rect x="1128" y="2293.5" width="159" height="16.9" rx="3"/>
<rect x="1319" y="2293.5" width="159" height="16.9" rx="3"/>
<rect x="1507" y="2293.5" width="159" height="16.9" rx="3"/>
<rect x="938" y="2314.4" width="159" height="16.9" rx="3"/>
<rect x="1128" y="2314.4" width="159" height="16.9" rx="3"/>
<rect x="1319" y="2314.4" width="159" height="16.9" rx="3"/>
<rect x="1507" y="2314.4" width="159" height="16.9" rx="3"/>
<rect x="938" y="2335.3" width="159" height="16.9" rx="3"/>
<rect x="1128" y="2335.3" width="159" height="16.9" rx="3"/>
<rect x="1319" y="2335.3" width="159" height="16.9" rx="3"/>
<rect x="1507" y="2335.3" width="159" height="16.9" rx="3"/>
<rect x="938" y="2356.2" width="159" height="16.9" rx="3"/>
<rect x="1128" y="2356.2" width="159" height="16.9" rx="3"/>
<rect x="1319" y="2356.2" width="159" height="16.9" rx="3"/>
<rect x="1507" y="2356.2" width="159" height="16.9" rx="3"/>
<rect x="938" y="2377" width="159" height="16.9" rx="3"/>
<rect x="1128" y="2377" width="159" height="16.9" rx="3"/>
<rect x="1319" y="2377" width="159" height="16.9" rx="3"/>
<rect x="1507" y="2377" width="159" height="16.9" rx="3"/>
<rect x="938" y="2397.9" width="159" height="16.9" rx="3"/>
<rect x="1128" y="2397.9" width="159" height="16.9" rx="3"/>
<rect x="1319" y="2397.9" width="159" height="16.9" rx="3"/>
<rect x="1507" y="2397.9" width="159" height="16.9" rx="3"/>
<rect x="938" y="2418.8" width="159" height="16.9" rx="3"/>
<rect x="1128" y="2418.8" width="159" height="16.9" rx="3"/>
<rect x="1319" y="2418.8" width="159" height="16.9" rx="3"/>
<rect x="1507" y="2418.8" width="159" height="16.9" rx="3"/>
<rect x="938" y="2439.6" width="159" height="16.9" rx="3"/>
<rect x="1128" y="2439.6" width="159" height="16.9" rx="3"/>
<rect x="1319" y="2439.6" width="159" height="16.9" rx="3"/>
<rect x="1507" y="2439.6" width="159" height="16.9" rx="3"/>
<rect x="938" y="2460.5" width="159" height="17.5" rx="3"/>
<rect x="1128" y="2460.5" width="159" height="17.5" rx="3"/>
<rect x="1319" y="2460.5" width="159" height="17.5" rx="3"/>
<rect x="1507" y="2460.5" width="159" height="17.5" rx="3"/>
</g>
<g fill="#a8c93a" filter="url(#n91)">
<rect x="938" y="1398.4" width="159" height="14.6"/>
<rect x="1128" y="1398.4" width="159" height="14.6"/>
<rect x="1319" y="1398.4" width="159" height="14.6"/>
<rect x="1507" y="1398.4" width="159" height="14.6"/>
<rect x="938" y="1417" width="159" height="16.9"/>
<rect x="1128" y="1417" width="159" height="16.9"/>
<rect x="1319" y="1417" width="159" height="16.9"/>
<rect x="1507" y="1417" width="159" height="16.9"/>
<rect x="938" y="1563.1" width="159" height="16.9"/>
<rect x="1128" y="1563.1" width="159" height="16.9"/>
<rect x="1319" y="1563.1" width="159" height="16.9"/>
<rect x="1507" y="1563.1" width="159" height="16.9"/>
<rect x="938" y="1584" width="159" height="16.9"/>
<rect x="1128" y="1584" width="159" height="16.9"/>
<rect x="1319" y="1584" width="159" height="16.9"/>
<rect x="1507" y="1584" width="159" height="16.9"/>
<rect x="938" y="1604.8" width="159" height="16.9"/>
<rect x="1128" y="1604.8" width="159" height="16.9"/>
<rect x="1319" y="1604.8" width="159" height="16.9"/>
<rect x="1507" y="1604.8" width="159" height="16.9"/>
<rect x="1128" y="1959.6" width="159" height="16.9"/>
<rect x="1319" y="1959.6" width="159" height="16.9"/>
<rect x="1507" y="1959.6" width="159" height="16.9"/>
<rect x="1128" y="1980.5" width="159" height="16.9"/>
<rect x="1319" y="1980.5" width="159" height="16.9"/>
<rect x="1507" y="1980.5" width="159" height="16.9"/>
<rect x="1128" y="2001.4" width="159" height="16.9"/>
<rect x="1319" y="2001.4" width="159" height="16.9"/>
<rect x="1507" y="2001.4" width="159" height="16.9"/>
<rect x="1128" y="2022.2" width="159" height="16.9"/>
<rect x="1319" y="2022.2" width="159" height="16.9"/>
<rect x="1507" y="2022.2" width="159" height="16.9"/>
<rect x="1128" y="2314.4" width="159" height="16.9"/>
<rect x="1319" y="2314.4" width="159" height="16.9"/>
<rect x="1507" y="2314.4" width="159" height="16.9"/>
<rect x="1128" y="2335.3" width="159" height="16.9"/>
<rect x="1319" y="2335.3" width="159" height="16.9"/>
<rect x="1507" y="2335.3" width="159" height="16.9"/>
</g>
<g fill="#a8c93a" filter="url(#n92)">
<rect x="938" y="1771.8" width="53" height="16.9"/>
<rect x="1207.5" y="1771.8" width="79.5" height="16.9"/>
<rect x="1319" y="1771.8" width="159" height="16.9"/>
<rect x="1507" y="1771.8" width="159" height="16.9"/>
<rect x="938" y="1792.7" width="53" height="16.9"/>
<rect x="1207.5" y="1792.7" width="79.5" height="16.9"/>
<rect x="1319" y="1792.7" width="159" height="16.9"/>
<rect x="1507" y="1792.7" width="159" height="16.9"/>
<rect x="938" y="1813.5" width="53" height="16.9"/>
<rect x="1207.5" y="1813.5" width="79.5" height="16.9"/>
<rect x="1319" y="1813.5" width="159" height="16.9"/>
<rect x="1507" y="1813.5" width="159" height="16.9"/>
<rect x="938" y="1876.1" width="53" height="16.9"/>
<rect x="1207.5" y="1876.1" width="79.5" height="16.9"/>
<rect x="1319" y="1876.1" width="159" height="16.9"/>
<rect x="1507" y="1876.1" width="159" height="16.9"/>
<rect x="1128" y="1938.8" width="159" height="16.9"/>
<rect x="1319" y="1938.8" width="159" height="16.9"/>
<rect x="1507" y="1938.8" width="159" height="16.9"/>
<rect x="1128" y="2043.1" width="159" height="16.9"/>
<rect x="1319" y="2043.1" width="159" height="16.9"/>
<rect x="1507" y="2043.1" width="159" height="16.9"/>
<rect x="1128" y="2064" width="159" height="16.9"/>
<rect x="1319" y="2064" width="159" height="16.9"/>
<rect x="1507" y="2064" width="159" height="16.9"/>
<rect x="1128" y="2084.8" width="159" height="16.9"/>
<rect x="1319" y="2084.8" width="159" height="16.9"/>
<rect x="1507" y="2084.8" width="159" height="16.9"/>
<rect x="1128" y="2105.7" width="159" height="16.9"/>
<rect x="1128" y="2126.6" width="159" height="16.9"/>
<rect x="1319" y="2126.6" width="159" height="16.9"/>
<rect x="1507" y="2126.6" width="159" height="16.9"/>
<rect x="1319" y="2147.4" width="159" height="16.9"/>
<rect x="1507" y="2147.4" width="159" height="16.9"/>
<rect x="1128" y="2168.3" width="159" height="16.9"/>
<rect x="1319" y="2168.3" width="159" height="16.9"/>
<rect x="1507" y="2168.3" width="159" height="16.9"/>
<rect x="1128" y="2189.2" width="159" height="16.9"/>
<rect x="1319" y="2189.2" width="159" height="16.9"/>
<rect x="1507" y="2189.2" width="159" height="16.9"/>
<rect x="1128" y="2210.1" width="159" height="16.9"/>
<rect x="1319" y="2210.1" width="159" height="16.9"/>
<rect x="1507" y="2210.1" width="159" height="16.9"/>
<rect x="1319" y="2230.9" width="159" height="16.9"/>
<rect x="1507" y="2230.9" width="159" height="16.9"/>
<rect x="1128" y="2251.8" width="159" height="16.9"/>
<rect x="1319" y="2251.8" width="159" height="16.9"/>
<rect x="1507" y="2251.8" width="159" height="16.9"/>
<rect x="1128" y="2272.7" width="159" height="16.9"/>
<rect x="1319" y="2272.7" width="159" height="16.9"/>
<rect x="1507" y="2272.7" width="159" height="16.9"/>
<rect x="1128" y="2293.5" width="159" height="16.9"/>
<rect x="1319" y="2293.5" width="159" height="16.9"/>
<rect x="1507" y="2293.5" width="159" height="16.9"/>
<rect x="1128" y="2356.2" width="159" height="16.9"/>
<rect x="1128" y="2377" width="159" height="16.9"/>
<rect x="1319" y="2377" width="159" height="16.9"/>
<rect x="1507" y="2377" width="159" height="16.9"/>
<rect x="1128" y="2397.9" width="159" height="16.9"/>
<rect x="1319" y="2397.9" width="159" height="16.9"/>
<rect x="1507" y="2397.9" width="159" height="16.9"/>
<rect x="1128" y="2418.8" width="159" height="16.9"/>
<rect x="1319" y="2418.8" width="159" height="16.9"/>
<rect x="1507" y="2418.8" width="159" height="16.9"/>
<rect x="1128" y="2439.6" width="159" height="16.9"/>
<rect x="1319" y="2439.6" width="159" height="16.9"/>
<rect x="1507" y="2439.6" width="159" height="16.9"/>
<rect x="1128" y="2460.5" width="159" height="17.5"/>
<rect x="1319" y="2460.5" width="159" height="17.5"/>
<rect x="1507" y="2460.5" width="159" height="17.5"/>
</g>
<g fill="#a8c93a" filter="url(#n93)">
<rect x="938" y="1625.7" width="53" height="16.9"/>
<rect x="1207.5" y="1625.7" width="79.5" height="16.9"/>
<rect x="1319" y="1834.4" width="159" height="16.9"/>
<rect x="1507" y="1834.4" width="159" height="16.9"/>
<rect x="1319" y="2105.7" width="159" height="16.9"/>
<rect x="1507" y="2105.7" width="159" height="16.9"/>
<rect x="1128" y="2147.4" width="159" height="16.9"/>
<rect x="1128" y="2230.9" width="159" height="16.9"/>
<rect x="1319" y="2356.2" width="159" height="16.9"/>
<rect x="1507" y="2356.2" width="159" height="16.9"/>
</g>
<g fill="#a8c93a" filter="url(#n94)">
<rect x="1319" y="1646.6" width="159" height="16.9"/>
<rect x="1507" y="1646.6" width="159" height="16.9"/>
<rect x="938" y="1688.3" width="53" height="16.9"/>
<rect x="1207.5" y="1688.3" width="79.5" height="16.9"/>
<rect x="938" y="1709.2" width="53" height="16.9"/>
<rect x="1207.5" y="1709.2" width="79.5" height="16.9"/>
<rect x="938" y="1730" width="53" height="16.9"/>
<rect x="1207.5" y="1730" width="79.5" height="16.9"/>
<rect x="1319" y="1917.9" width="159" height="16.9"/>
<rect x="1507" y="1917.9" width="159" height="16.9"/>
</g>
<g fill="#a8c93a" filter="url(#n95)">
<rect x="938" y="1897" width="53" height="16.9"/>
<rect x="1207.5" y="1897" width="79.5" height="16.9"/>
<rect x="938" y="2251.8" width="159" height="16.9"/>
</g>
<g fill="#a8c93a" filter="url(#n96)">
<rect x="991" y="1625.7" width="106" height="16.9"/>
<rect x="1128" y="1625.7" width="79.5" height="16.9"/>
<rect x="938" y="1646.6" width="53" height="16.9"/>
<rect x="1207.5" y="1646.6" width="79.5" height="16.9"/>
<rect x="938" y="1667.4" width="53" height="16.9"/>
<rect x="1207.5" y="1667.4" width="79.5" height="16.9"/>
<rect x="1319" y="1667.4" width="159" height="16.9"/>
<rect x="1507" y="1667.4" width="159" height="16.9"/>
<rect x="1319" y="1709.2" width="159" height="16.9"/>
<rect x="1507" y="1709.2" width="159" height="16.9"/>
<rect x="1319" y="1730" width="159" height="16.9"/>
<rect x="1507" y="1730" width="159" height="16.9"/>
<rect x="1319" y="1750.9" width="159" height="16.9"/>
<rect x="1507" y="1750.9" width="159" height="16.9"/>
<rect x="938" y="1834.4" width="53" height="16.9"/>
<rect x="1207.5" y="1834.4" width="79.5" height="16.9"/>
<rect x="1319" y="1855.3" width="159" height="16.9"/>
<rect x="1507" y="1855.3" width="159" height="16.9"/>
<rect x="938" y="1917.9" width="53" height="16.9"/>
<rect x="1207.5" y="1917.9" width="79.5" height="16.9"/>
<rect x="938" y="2314.4" width="159" height="16.9"/>
<rect x="938" y="2335.3" width="159" height="16.9"/>
</g>
<g fill="#a8c93a" filter="url(#n97)">
<rect x="991" y="1688.3" width="106" height="16.9"/>
<rect x="1128" y="1688.3" width="79.5" height="16.9"/>
<rect x="1319" y="1688.3" width="159" height="16.9"/>
<rect x="1507" y="1688.3" width="159" height="16.9"/>
<rect x="991" y="1709.2" width="106" height="16.9"/>
<rect x="1128" y="1709.2" width="79.5" height="16.9"/>
<rect x="991" y="1730" width="106" height="16.9"/>
<rect x="1128" y="1730" width="79.5" height="16.9"/>
<rect x="938" y="1750.9" width="53" height="16.9"/>
<rect x="1207.5" y="1750.9" width="79.5" height="16.9"/>
<rect x="991" y="1771.8" width="106" height="16.9"/>
<rect x="1128" y="1771.8" width="79.5" height="16.9"/>
<rect x="938" y="1855.3" width="53" height="16.9"/>
<rect x="1207.5" y="1855.3" width="79.5" height="16.9"/>
<rect x="991" y="1897" width="106" height="16.9"/>
<rect x="1128" y="1897" width="79.5" height="16.9"/>
<rect x="938" y="2001.4" width="159" height="16.9"/>
<rect x="938" y="2126.6" width="159" height="16.9"/>
<rect x="938" y="2356.2" width="159" height="16.9"/>
</g>
<g fill="#a8c93a" filter="url(#n98)">
<rect x="1319" y="1437.9" width="159" height="16.9"/>
<rect x="1507" y="1437.9" width="159" height="16.9"/>
<rect x="1319" y="1500.5" width="159" height="16.9"/>
<rect x="1507" y="1500.5" width="159" height="16.9"/>
<rect x="938" y="1521.3" width="159" height="16.9"/>
<rect x="1128" y="1521.3" width="159" height="16.9"/>
<rect x="1319" y="1521.3" width="159" height="16.9"/>
<rect x="1507" y="1521.3" width="159" height="16.9"/>
<rect x="1319" y="1542.2" width="159" height="16.9"/>
<rect x="1507" y="1542.2" width="159" height="16.9"/>
<rect x="1319" y="1625.7" width="159" height="16.9"/>
<rect x="1507" y="1625.7" width="159" height="16.9"/>
<rect x="991" y="1646.6" width="106" height="16.9"/>
<rect x="1128" y="1646.6" width="79.5" height="16.9"/>
<rect x="991" y="1667.4" width="106" height="16.9"/>
<rect x="1128" y="1667.4" width="79.5" height="16.9"/>
<rect x="991" y="1792.7" width="106" height="16.9"/>
<rect x="1128" y="1792.7" width="79.5" height="16.9"/>
<rect x="991" y="1813.5" width="106" height="16.9"/>
<rect x="1128" y="1813.5" width="79.5" height="16.9"/>
<rect x="991" y="1834.4" width="106" height="16.9"/>
<rect x="1128" y="1834.4" width="79.5" height="16.9"/>
<rect x="1319" y="1897" width="159" height="16.9"/>
<rect x="1507" y="1897" width="159" height="16.9"/>
<rect x="991" y="1917.9" width="106" height="16.9"/>
<rect x="1128" y="1917.9" width="79.5" height="16.9"/>
<rect x="938" y="1938.8" width="159" height="16.9"/>
<rect x="938" y="1959.6" width="159" height="16.9"/>
<rect x="938" y="1980.5" width="159" height="16.9"/>
<rect x="938" y="2022.2" width="159" height="16.9"/>
<rect x="938" y="2043.1" width="159" height="16.9"/>
<rect x="938" y="2064" width="159" height="16.9"/>
<rect x="938" y="2084.8" width="159" height="16.9"/>
<rect x="938" y="2105.7" width="159" height="16.9"/>
<rect x="938" y="2168.3" width="159" height="16.9"/>
<rect x="938" y="2189.2" width="159" height="16.9"/>
<rect x="938" y="2210.1" width="159" height="16.9"/>
<rect x="938" y="2230.9" width="159" height="16.9"/>
<rect x="938" y="2377" width="159" height="16.9"/>
<rect x="938" y="2460.5" width="159" height="17.5"/>
</g>
<g fill="#a8c93a" filter="url(#n99)">
<rect x="938" y="1437.9" width="159" height="16.9"/>
<rect x="1128" y="1437.9" width="159" height="16.9"/>
<rect x="1319" y="1458.7" width="159" height="16.9"/>
<rect x="1507" y="1458.7" width="159" height="16.9"/>
<rect x="938" y="1479.6" width="159" height="16.9"/>
<rect x="1128" y="1479.6" width="159" height="16.9"/>
<rect x="1319" y="1479.6" width="159" height="16.9"/>
<rect x="1507" y="1479.6" width="159" height="16.9"/>
<rect x="938" y="1500.5" width="159" height="16.9"/>
<rect x="1128" y="1500.5" width="159" height="16.9"/>
<rect x="991" y="1750.9" width="106" height="16.9"/>
<rect x="1128" y="1750.9" width="79.5" height="16.9"/>
<rect x="991" y="1855.3" width="106" height="16.9"/>
<rect x="1128" y="1855.3" width="79.5" height="16.9"/>
<rect x="991" y="1876.1" width="106" height="16.9"/>
<rect x="1128" y="1876.1" width="79.5" height="16.9"/>
<rect x="938" y="2147.4" width="159" height="16.9"/>
<rect x="938" y="2272.7" width="159" height="16.9"/>
<rect x="938" y="2397.9" width="159" height="16.9"/>
<rect x="938" y="2418.8" width="159" height="16.9"/>
</g>
<g fill="#a8c93a" filter="url(#n100)">
<rect x="938" y="1458.7" width="159" height="16.9"/>
<rect x="1128" y="1458.7" width="159" height="16.9"/>
</g>
<g fill="#a8c93a" filter="url(#n101)">
<rect x="938" y="1542.2" width="159" height="16.9"/>
<rect x="1128" y="1542.2" width="159" height="16.9"/>
<rect x="938" y="2293.5" width="159" height="16.9"/>
<rect x="938" y="2439.6" width="159" height="16.9"/>
</g>
<g fill="#e5302a" filter="url(#n102)">
<rect x="938" y="1437.9" width="159" height="16.9"/>
<rect x="1128" y="1437.9" width="159" height="16.9"/>
<rect x="1319" y="1437.9" width="159" height="16.9"/>
<rect x="1507" y="1437.9" width="159" height="16.9"/>
<rect x="938" y="1458.7" width="159" height="16.9"/>
<rect x="1128" y="1458.7" width="159" height="16.9"/>
<rect x="1319" y="1458.7" width="159" height="16.9"/>
<rect x="1507" y="1458.7" width="159" height="16.9"/>
<rect x="938" y="1479.6" width="159" height="16.9"/>
<rect x="1128" y="1479.6" width="159" height="16.9"/>
<rect x="1319" y="1479.6" width="159" height="16.9"/>
<rect x="1507" y="1479.6" width="159" height="16.9"/>
<rect x="938" y="1500.5" width="159" height="16.9"/>
<rect x="1128" y="1500.5" width="159" height="16.9"/>
<rect x="1319" y="1500.5" width="159" height="16.9"/>
<rect x="1507" y="1500.5" width="159" height="16.9"/>
<rect x="938" y="1521.3" width="159" height="16.9"/>
<rect x="1128" y="1521.3" width="159" height="16.9"/>
<rect x="1319" y="1521.3" width="159" height="16.9"/>
<rect x="1507" y="1521.3" width="159" height="16.9"/>
<rect x="938" y="1542.2" width="159" height="16.9"/>
<rect x="1128" y="1542.2" width="159" height="16.9"/>
<rect x="1319" y="1542.2" width="159" height="16.9"/>
<rect x="1507" y="1542.2" width="159" height="16.9"/>
<rect x="991" y="1625.7" width="106" height="16.9"/>
<rect x="1128" y="1625.7" width="79.5" height="16.9"/>
<rect x="991" y="1646.6" width="106" height="16.9"/>
<rect x="1128" y="1646.6" width="79.5" height="16.9"/>
<rect x="991" y="1667.4" width="106" height="16.9"/>
<rect x="1128" y="1667.4" width="79.5" height="16.9"/>
<rect x="991" y="1688.3" width="106" height="16.9"/>
<rect x="1128" y="1688.3" width="79.5" height="16.9"/>
<rect x="991" y="1709.2" width="106" height="16.9"/>
<rect x="1128" y="1709.2" width="79.5" height="16.9"/>
<rect x="991" y="1730" width="106" height="16.9"/>
<rect x="1128" y="1730" width="79.5" height="16.9"/>
<rect x="991" y="1750.9" width="106" height="16.9"/>
<rect x="1128" y="1750.9" width="79.5" height="16.9"/>
<rect x="991" y="1771.8" width="106" height="16.9"/>
<rect x="1128" y="1771.8" width="79.5" height="16.9"/>
<rect x="991" y="1792.7" width="106" height="16.9"/>
<rect x="1128" y="1792.7" width="79.5" height="16.9"/>
<rect x="991" y="1813.5" width="106" height="16.9"/>
<rect x="1128" y="1813.5" width="79.5" height="16.9"/>
<rect x="991" y="1834.4" width="106" height="16.9"/>
<rect x="1128" y="1834.4" width="79.5" height="16.9"/>
<rect x="991" y="1855.3" width="106" height="16.9"/>
<rect x="1128" y="1855.3" width="79.5" height="16.9"/>
<rect x="991" y="1876.1" width="106" height="16.9"/>
<rect x="1128" y="1876.1" width="79.5" height="16.9"/>
<rect x="991" y="1897" width="106" height="16.9"/>
<rect x="1128" y="1897" width="79.5" height="16.9"/>
<rect x="991" y="1917.9" width="106" height="16.9"/>
<rect x="1128" y="1917.9" width="79.5" height="16.9"/>
</g>
<g fill="#449c3c" filter="url(#n103)">
<rect x="938" y="2149.6" width="159" height="12.5" rx="3"/>
</g>
<g fill="#449c3c" filter="url(#n104)">
<rect x="991" y="1627.9" width="106" height="12.5" rx="3"/>
<rect x="1128" y="1627.9" width="79.5" height="12.5" rx="3"/>
</g>
<g fill="#449c3c" filter="url(#n105)">
<rect x="1319" y="1523.5" width="159" height="12.5" rx="3"/>
<rect x="1507" y="1523.5" width="159" height="12.5" rx="3"/>
<rect x="991" y="1732.2" width="106" height="12.5" rx="3"/>
<rect x="1128" y="1732.2" width="79.5" height="12.5" rx="3"/>
<rect x="938" y="1941" width="159" height="12.5" rx="3"/>
<rect x="938" y="2233.1" width="159" height="12.5" rx="3"/>
</g>
<g fill="#449c3c" filter="url(#n106)">
<rect x="1319" y="1440.1" width="159" height="12.5" rx="3"/>
<rect x="1507" y="1440.1" width="159" height="12.5" rx="3"/>
<rect x="1319" y="1502.7" width="159" height="12.5" rx="3"/>
<rect x="1507" y="1502.7" width="159" height="12.5" rx="3"/>
<rect x="938" y="1523.5" width="159" height="12.5" rx="3"/>
<rect x="1128" y="1523.5" width="159" height="12.5" rx="3"/>
<rect x="1319" y="1544.4" width="159" height="12.5" rx="3"/>
<rect x="1507" y="1544.4" width="159" height="12.5" rx="3"/>
<rect x="991" y="1690.5" width="106" height="12.5" rx="3"/>
<rect x="1128" y="1690.5" width="79.5" height="12.5" rx="3"/>
<rect x="991" y="1711.4" width="106" height="12.5" rx="3"/>
<rect x="1128" y="1711.4" width="79.5" height="12.5" rx="3"/>
<rect x="991" y="1774" width="106" height="12.5" rx="3"/>
<rect x="1128" y="1774" width="79.5" height="12.5" rx="3"/>
<rect x="991" y="1899.2" width="106" height="12.5" rx="3"/>
<rect x="1128" y="1899.2" width="79.5" height="12.5" rx="3"/>
<rect x="938" y="1961.8" width="159" height="12.5" rx="3"/>
<rect x="938" y="2024.4" width="159" height="12.5" rx="3"/>
</g>
<g fill="#449c3c" filter="url(#n107)">
<rect x="1319" y="1481.8" width="159" height="12.5" rx="3"/>
<rect x="1507" y="1481.8" width="159" height="12.5" rx="3"/>
<rect x="938" y="1502.7" width="159" height="12.5" rx="3"/>
<rect x="1128" y="1502.7" width="159" height="12.5" rx="3"/>
<rect x="991" y="1815.7" width="106" height="12.5" rx="3"/>
<rect x="1128" y="1815.7" width="79.5" height="12.5" rx="3"/>
<rect x="938" y="2212.3" width="159" height="12.5" rx="3"/>
</g>
<g fill="#449c3c" filter="url(#n108)">
<rect x="938" y="1440.1" width="159" height="12.5" rx="3"/>
<rect x="1128" y="1440.1" width="159" height="12.5" rx="3"/>
<rect x="1319" y="1460.9" width="159" height="12.5" rx="3"/>
<rect x="1507" y="1460.9" width="159" height="12.5" rx="3"/>
<rect x="938" y="1481.8" width="159" height="12.5" rx="3"/>
<rect x="1128" y="1481.8" width="159" height="12.5" rx="3"/>
<rect x="991" y="1648.8" width="106" height="12.5" rx="3"/>
<rect x="1128" y="1648.8" width="79.5" height="12.5" rx="3"/>
<rect x="991" y="1669.6" width="106" height="12.5" rx="3"/>
<rect x="1128" y="1669.6" width="79.5" height="12.5" rx="3"/>
<rect x="991" y="1794.9" width="106" height="12.5" rx="3"/>
<rect x="1128" y="1794.9" width="79.5" height="12.5" rx="3"/>
<rect x="991" y="1836.6" width="106" height="12.5" rx="3"/>
<rect x="1128" y="1836.6" width="79.5" height="12.5" rx="3"/>
<rect x="991" y="1920.1" width="106" height="12.5" rx="3"/>
<rect x="1128" y="1920.1" width="79.5" height="12.5" rx="3"/>
<rect x="938" y="2066.2" width="159" height="12.5" rx="3"/>
<rect x="938" y="2107.9" width="159" height="12.5" rx="3"/>
</g>
<g fill="#449c3c" filter="url(#n109)">
<rect x="938" y="1460.9" width="159" height="12.5" rx="3"/>
<rect x="1128" y="1460.9" width="159" height="12.5" rx="3"/>
<rect x="991" y="1753.1" width="106" height="12.5" rx="3"/>
<rect x="1128" y="1753.1" width="79.5" height="12.5" rx="3"/>
<rect x="991" y="1857.5" width="106" height="12.5" rx="3"/>
<rect x="1128" y="1857.5" width="79.5" height="12.5" rx="3"/>
<rect x="991" y="1878.3" width="106" height="12.5" rx="3"/>
<rect x="1128" y="1878.3" width="79.5" height="12.5" rx="3"/>
</g>
<g fill="#449c3c" filter="url(#n110)">
<rect x="938" y="1544.4" width="159" height="12.5" rx="3"/>
<rect x="1128" y="1544.4" width="159" height="12.5" rx="3"/>
<rect x="938" y="1627.9" width="53" height="12.5" rx="3"/>
<rect x="1207.5" y="1627.9" width="79.5" height="12.5" rx="3"/>
<rect x="1319" y="1836.6" width="159" height="12.5" rx="3"/>
<rect x="1507" y="1836.6" width="159" height="12.5" rx="3"/>
<rect x="1128" y="2149.6" width="159" height="12.5" rx="3"/>
<rect x="1319" y="2358.3" width="159" height="12.5" rx="3"/>
<rect x="1507" y="2358.3" width="159" height="12.5" rx="3"/>
</g>
<g fill="#449c3c" filter="url(#n111)">
<rect x="938" y="1732.2" width="53" height="12.5" rx="3"/>
<rect x="1207.5" y="1732.2" width="79.5" height="12.5" rx="3"/>
<rect x="1319" y="1920.1" width="159" height="12.5" rx="3"/>
<rect x="1507" y="1920.1" width="159" height="12.5" rx="3"/>
<rect x="1128" y="1941" width="159" height="12.5" rx="3"/>
<rect x="938" y="2045.3" width="159" height="12.5" rx="3"/>
<rect x="938" y="2087" width="159" height="12.5" rx="3"/>
<rect x="1319" y="2107.9" width="159" height="12.5" rx="3"/>
<rect x="1507" y="2107.9" width="159" height="12.5" rx="3"/>
<rect x="1128" y="2233.1" width="159" height="12.5" rx="3"/>
<rect x="1128" y="2254" width="159" height="12.5" rx="3"/>
</g>
<g fill="#449c3c" filter="url(#n112)">
<rect x="1319" y="1648.8" width="159" height="12.5" rx="3"/>
<rect x="1507" y="1648.8" width="159" height="12.5" rx="3"/>
<rect x="938" y="2170.5" width="159" height="12.5" rx="3"/>
<rect x="1319" y="2170.5" width="159" height="12.5" rx="3"/>
<rect x="1507" y="2170.5" width="159" height="12.5" rx="3"/>
<rect x="938" y="2254" width="159" height="12.5" rx="3"/>
<rect x="1319" y="2379.2" width="159" height="12.5" rx="3"/>
<rect x="1507" y="2379.2" width="159" height="12.5" rx="3"/>
</g>
<g fill="#449c3c" filter="url(#n113)">
<rect x="938" y="1690.5" width="53" height="12.5" rx="3"/>
<rect x="1207.5" y="1690.5" width="79.5" height="12.5" rx="3"/>
<rect x="938" y="1711.4" width="53" height="12.5" rx="3"/>
<rect x="1207.5" y="1711.4" width="79.5" height="12.5" rx="3"/>
<rect x="938" y="1982.7" width="159" height="12.5" rx="3"/>
<rect x="1128" y="2066.2" width="159" height="12.5" rx="3"/>
<rect x="1319" y="2087" width="159" height="12.5" rx="3"/>
<rect x="1507" y="2087" width="159" height="12.5" rx="3"/>
<rect x="1128" y="2107.9" width="159" height="12.5" rx="3"/>
<rect x="938" y="2191.4" width="159" height="12.5" rx="3"/>
<rect x="1319" y="2191.4" width="159" height="12.5" rx="3"/>
<rect x="1507" y="2191.4" width="159" height="12.5" rx="3"/>
<rect x="1128" y="2212.3" width="159" height="12.5" rx="3"/>
<rect x="1319" y="2274.9" width="159" height="12.5" rx="3"/>
<rect x="1507" y="2274.9" width="159" height="12.5" rx="3"/>
<rect x="938" y="2316.6" width="159" height="12.5" rx="3"/>
</g>
<g fill="#449c3c" filter="url(#n114)">
<rect x="938" y="1899.2" width="53" height="12.5" rx="3"/>
<rect x="1207.5" y="1899.2" width="79.5" height="12.5" rx="3"/>
<rect x="1319" y="1941" width="159" height="12.5" rx="3"/>
<rect x="1507" y="1941" width="159" height="12.5" rx="3"/>
<rect x="938" y="2003.6" width="159" height="12.5" rx="3"/>
<rect x="938" y="2128.8" width="159" height="12.5" rx="3"/>
<rect x="1319" y="2149.6" width="159" height="12.5" rx="3"/>
<rect x="1507" y="2149.6" width="159" height="12.5" rx="3"/>
<rect x="938" y="2337.5" width="159" height="12.5" rx="3"/>
<rect x="1319" y="2400.1" width="159" height="12.5" rx="3"/>
<rect x="1507" y="2400.1" width="159" height="12.5" rx="3"/>
</g>
<g fill="#449c3c" filter="url(#n115)">
<rect x="1319" y="1669.6" width="159" height="12.5" rx="3"/>
<rect x="1507" y="1669.6" width="159" height="12.5" rx="3"/>
<rect x="1319" y="1857.5" width="159" height="12.5" rx="3"/>
<rect x="1507" y="1857.5" width="159" height="12.5" rx="3"/>
<rect x="938" y="1920.1" width="53" height="12.5" rx="3"/>
<rect x="1207.5" y="1920.1" width="79.5" height="12.5" rx="3"/>
<rect x="1319" y="2066.2" width="159" height="12.5" rx="3"/>
<rect x="1507" y="2066.2" width="159" height="12.5" rx="3"/>
<rect x="1319" y="2212.3" width="159" height="12.5" rx="3"/>
<rect x="1507" y="2212.3" width="159" height="12.5" rx="3"/>
<rect x="1319" y="2233.1" width="159" height="12.5" rx="3"/>
<rect x="1507" y="2233.1" width="159" height="12.5" rx="3"/>
<rect x="938" y="2358.3" width="159" height="12.5" rx="3"/>
<rect x="1128" y="2358.3" width="159" height="12.5" rx="3"/>
<rect x="1319" y="2441.8" width="159" height="12.5" rx="3"/>
<rect x="1507" y="2441.8" width="159" height="12.5" rx="3"/>
</g>
<g fill="#449c3c" filter="url(#n116)">
<rect x="938" y="1648.8" width="53" height="12.5" rx="3"/>
<rect x="1207.5" y="1648.8" width="79.5" height="12.5" rx="3"/>
<rect x="938" y="1669.6" width="53" height="12.5" rx="3"/>
<rect x="1207.5" y="1669.6" width="79.5" height="12.5" rx="3"/>
<rect x="1319" y="1711.4" width="159" height="12.5" rx="3"/>
<rect x="1507" y="1711.4" width="159" height="12.5" rx="3"/>
<rect x="1319" y="1732.2" width="159" height="12.5" rx="3"/>
<rect x="1507" y="1732.2" width="159" height="12.5" rx="3"/>
<rect x="1319" y="1753.1" width="159" height="12.5" rx="3"/>
<rect x="1507" y="1753.1" width="159" height="12.5" rx="3"/>
<rect x="938" y="1836.6" width="53" height="12.5" rx="3"/>
<rect x="1207.5" y="1836.6" width="79.5" height="12.5" rx="3"/>
<rect x="1128" y="2045.3" width="159" height="12.5" rx="3"/>
<rect x="1319" y="2045.3" width="159" height="12.5" rx="3"/>
<rect x="1507" y="2045.3" width="159" height="12.5" rx="3"/>
<rect x="1128" y="2087" width="159" height="12.5" rx="3"/>
</g>
<g fill="#449c3c" filter="url(#n117)">
<rect x="1319" y="1690.5" width="159" height="12.5" rx="3"/>
<rect x="1507" y="1690.5" width="159" height="12.5" rx="3"/>
<rect x="938" y="1857.5" width="53" height="12.5" rx="3"/>
<rect x="1207.5" y="1857.5" width="79.5" height="12.5" rx="3"/>
<rect x="1128" y="2170.5" width="159" height="12.5" rx="3"/>
<rect x="1319" y="2254" width="159" height="12.5" rx="3"/>
<rect x="1507" y="2254" width="159" height="12.5" rx="3"/>
<rect x="1319" y="2295.7" width="159" height="12.5" rx="3"/>
<rect x="1507" y="2295.7" width="159" height="12.5" rx="3"/>
<rect x="938" y="2379.2" width="159" height="12.5" rx="3"/>
<rect x="1128" y="2379.2" width="159" height="12.5" rx="3"/>
<rect x="938" y="2462.7" width="159" height="13.1" rx="3"/>
<rect x="1128" y="2462.7" width="159" height="13.1" rx="3"/>
<rect x="1319" y="2462.7" width="159" height="13.1" rx="3"/>
<rect x="1507" y="2462.7" width="159" height="13.1" rx="3"/>
</g>
<g fill="#449c3c" filter="url(#n118)">
<rect x="938" y="1419.2" width="159" height="12.5" rx="3"/>
<rect x="1128" y="1419.2" width="159" height="12.5" rx="3"/>
<rect x="1319" y="1419.2" width="159" height="12.5" rx="3"/>
<rect x="1507" y="1419.2" width="159" height="12.5" rx="3"/>
<rect x="1319" y="1627.9" width="159" height="12.5" rx="3"/>
<rect x="1507" y="1627.9" width="159" height="12.5" rx="3"/>
<rect x="938" y="1753.1" width="53" height="12.5" rx="3"/>
<rect x="1207.5" y="1753.1" width="79.5" height="12.5" rx="3"/>
<rect x="1319" y="1899.2" width="159" height="12.5" rx="3"/>
<rect x="1507" y="1899.2" width="159" height="12.5" rx="3"/>
<rect x="1128" y="2191.4" width="159" height="12.5" rx="3"/>
<rect x="938" y="2274.9" width="159" height="12.5" rx="3"/>
<rect x="1128" y="2274.9" width="159" height="12.5" rx="3"/>
<rect x="938" y="2400.1" width="159" height="12.5" rx="3"/>
<rect x="1128" y="2400.1" width="159" height="12.5" rx="3"/>
<rect x="938" y="2421" width="159" height="12.5" rx="3"/>
<rect x="1128" y="2421" width="159" height="12.5" rx="3"/>
</g>
<g fill="#449c3c" filter="url(#n119)">
<rect x="938" y="1400.6" width="159" height="10.2" rx="3"/>
<rect x="1128" y="1400.6" width="159" height="10.2" rx="3"/>
<rect x="1319" y="1400.6" width="159" height="10.2" rx="3"/>
<rect x="1507" y="1400.6" width="159" height="10.2" rx="3"/>
<rect x="938" y="1565.3" width="159" height="12.5" rx="3"/>
<rect x="1128" y="1565.3" width="159" height="12.5" rx="3"/>
<rect x="1319" y="1565.3" width="159" height="12.5" rx="3"/>
<rect x="1507" y="1565.3" width="159" height="12.5" rx="3"/>
<rect x="938" y="1586.2" width="159" height="12.5" rx="3"/>
<rect x="1128" y="1586.2" width="159" height="12.5" rx="3"/>
<rect x="1319" y="1586.2" width="159" height="12.5" rx="3"/>
<rect x="1507" y="1586.2" width="159" height="12.5" rx="3"/>
<rect x="938" y="1607" width="159" height="12.5" rx="3"/>
<rect x="1128" y="1607" width="159" height="12.5" rx="3"/>
<rect x="1319" y="1607" width="159" height="12.5" rx="3"/>
<rect x="1507" y="1607" width="159" height="12.5" rx="3"/>
<rect x="1128" y="2128.8" width="159" height="12.5" rx="3"/>
<rect x="1319" y="2128.8" width="159" height="12.5" rx="3"/>
<rect x="1507" y="2128.8" width="159" height="12.5" rx="3"/>
<rect x="938" y="2295.7" width="159" height="12.5" rx="3"/>
<rect x="1319" y="2421" width="159" height="12.5" rx="3"/>
<rect x="1507" y="2421" width="159" height="12.5" rx="3"/>
<rect x="938" y="2441.8" width="159" height="12.5" rx="3"/>
<rect x="1128" y="2441.8" width="159" height="12.5" rx="3"/>
</g>
<g fill="#449c3c" filter="url(#n120)">
<rect x="938" y="1774" width="53" height="12.5" rx="3"/>
<rect x="1207.5" y="1774" width="79.5" height="12.5" rx="3"/>
<rect x="1319" y="1774" width="159" height="12.5" rx="3"/>
<rect x="1507" y="1774" width="159" height="12.5" rx="3"/>
<rect x="938" y="1794.9" width="53" height="12.5" rx="3"/>
<rect x="1207.5" y="1794.9" width="79.5" height="12.5" rx="3"/>
<rect x="1319" y="1794.9" width="159" height="12.5" rx="3"/>
<rect x="1507" y="1794.9" width="159" height="12.5" rx="3"/>
<rect x="938" y="1815.7" width="53" height="12.5" rx="3"/>
<rect x="1207.5" y="1815.7" width="79.5" height="12.5" rx="3"/>
<rect x="1319" y="1815.7" width="159" height="12.5" rx="3"/>
<rect x="1507" y="1815.7" width="159" height="12.5" rx="3"/>
<rect x="938" y="1878.3" width="53" height="12.5" rx="3"/>
<rect x="1207.5" y="1878.3" width="79.5" height="12.5" rx="3"/>
<rect x="1319" y="1878.3" width="159" height="12.5" rx="3"/>
<rect x="1507" y="1878.3" width="159" height="12.5" rx="3"/>
<rect x="1128" y="1961.8" width="159" height="12.5" rx="3"/>
<rect x="1319" y="1961.8" width="159" height="12.5" rx="3"/>
<rect x="1507" y="1961.8" width="159" height="12.5" rx="3"/>
<rect x="1128" y="1982.7" width="159" height="12.5" rx="3"/>
<rect x="1319" y="1982.7" width="159" height="12.5" rx="3"/>
<rect x="1507" y="1982.7" width="159" height="12.5" rx="3"/>
<rect x="1128" y="2003.6" width="159" height="12.5" rx="3"/>
<rect x="1319" y="2003.6" width="159" height="12.5" rx="3"/>
<rect x="1507" y="2003.6" width="159" height="12.5" rx="3"/>
<rect x="1128" y="2024.4" width="159" height="12.5" rx="3"/>
<rect x="1319" y="2024.4" width="159" height="12.5" rx="3"/>
<rect x="1507" y="2024.4" width="159" height="12.5" rx="3"/>
<rect x="1128" y="2295.7" width="159" height="12.5" rx="3"/>
<rect x="1128" y="2316.6" width="159" height="12.5" rx="3"/>
<rect x="1319" y="2316.6" width="159" height="12.5" rx="3"/>
<rect x="1507" y="2316.6" width="159" height="12.5" rx="3"/>
<rect x="1128" y="2337.5" width="159" height="12.5" rx="3"/>
<rect x="1319" y="2337.5" width="159" height="12.5" rx="3"/>
<rect x="1507" y="2337.5" width="159" height="12.5" rx="3"/>
</g>
<rect x="1098" y="1398.4" width="29" height="1079.6" fill="#e5302a"/>
<rect x="1288" y="1398.4" width="30" height="1079.6" fill="#e5302a"/>
<rect x="1479" y="1398.4" width="27" height="1079.6" fill="#e5302a"/>
<g fill="#e3c83a" filter="url(#n121)">
<rect x="1298" y="1398.4" width="20" height="161.6"/>
<rect x="1488" y="1398.4" width="18" height="61.6"/>
</g>
</g>
<g font-family="Liberation Sans, Arial, sans-serif" font-size="20.5" fill="#161616" text-anchor="middle">
<text transform="translate(1688,1416.8) scale(1,1.05)">1</text>
<text transform="translate(1688,1437.4) scale(1,1.05)">2</text>
<text transform="translate(1688,1458.1) scale(1,1.05)">3</text>
<text transform="translate(1688,1478.7) scale(1,1.05)">4</text>
<text transform="translate(1688,1499.3) scale(1,1.05)">5</text>
<text transform="translate(1688,1520) scale(1,1.05)">6</text>
<text transform="translate(1688,1540.6) scale(1,1.05)">7</text>
<text transform="translate(1688,1561.2) scale(1,1.05)">8</text>
<text transform="translate(1688,1581.8) scale(1,1.05)">9</text>
<text transform="translate(1688,1602.5) scale(1,1.05)">10</text>
<text transform="translate(1688,1623.1) scale(1,1.05)">11</text>
<text transform="translate(1688,1643.7) scale(1,1.05)">12</text>
<text transform="translate(1688,1664.4) scale(1,1.05)">13</text>
<text transform="translate(1688,1685) scale(1,1.05)">14</text>
<text transform="translate(1688,1705.6) scale(1,1.05)">15</text>
<text transform="translate(1688,1726.2) scale(1,1.05)">16</text>
<text transform="translate(1688,1746.9) scale(1,1.05)">17</text>
<text transform="translate(1688,1767.5) scale(1,1.05)">18</text>
<text transform="translate(1688,1788.1) scale(1,1.05)">19</text>
<text transform="translate(1688,1808.8) scale(1,1.05)">20</text>
<text transform="translate(1688,1829.4) scale(1,1.05)">21</text>
<text transform="translate(1688,1850) scale(1,1.05)">22</text>
<text transform="translate(1688,1870.7) scale(1,1.05)">23</text>
<text transform="translate(1688,1891.3) scale(1,1.05)">24</text>
<text transform="translate(1688,1911.9) scale(1,1.05)">25</text>
<text transform="translate(1688,1932.5) scale(1,1.05)">26</text>
<text transform="translate(1688,1953.2) scale(1,1.05)">1</text>
<text transform="translate(1688,1973.8) scale(1,1.05)">2</text>
<text transform="translate(1688,1994.4) scale(1,1.05)">3</text>
<text transform="translate(1688,2015.1) scale(1,1.05)">4</text>
<text transform="translate(1688,2035.7) scale(1,1.05)">5</text>
<text transform="translate(1688,2056.3) scale(1,1.05)">6</text>
<text transform="translate(1688,2077) scale(1,1.05)">7</text>
<text transform="translate(1688,2097.6) scale(1,1.05)">8</text>
<text transform="translate(1688,2118.2) scale(1,1.05)">9</text>
<text transform="translate(1688,2138.8) scale(1,1.05)">10</text>
<text transform="translate(1688,2159.5) scale(1,1.05)">11</text>
<text transform="translate(1688,2180.1) scale(1,1.05)">12</text>
<text transform="translate(1688,2200.7) scale(1,1.05)">13</text>
<text transform="translate(1688,2221.4) scale(1,1.05)">14</text>
<text transform="translate(1688,2242) scale(1,1.05)">15</text>
<text transform="translate(1688,2262.6) scale(1,1.05)">16</text>
<text transform="translate(1688,2283.3) scale(1,1.05)">17</text>
<text transform="translate(1688,2303.9) scale(1,1.05)">18</text>
<text transform="translate(1688,2324.5) scale(1,1.05)">19</text>
<text transform="translate(1688,2345.1) scale(1,1.05)">20</text>
<text transform="translate(1688,2365.8) scale(1,1.05)">21</text>
<text transform="translate(1688,2386.4) scale(1,1.05)">22</text>
<text transform="translate(1688,2407) scale(1,1.05)">23</text>
<text transform="translate(1688,2427.7) scale(1,1.05)">24</text>
<text transform="translate(1688,2448.3) scale(1,1.05)">25</text>
<text transform="translate(1688,2468.9) scale(1,1.05)">26</text>
</g>
<text x="922.5" y="1392.6" font-family="Liberation Sans, Arial, sans-serif" font-weight="bold" font-size="36.5" fill="#111">June</text>
<rect x="900.2" y="2500" width="841.6" height="2.8" fill="#111"/>
<rect x="900.2" y="1357.7" width="2.8" height="1145.1" fill="#111"/>
<rect x="1739" y="1357.7" width="2.8" height="1145.1" fill="#111"/>
<rect x="900.2" y="1357.7" width="841.6" height="2.8" fill="#111"/>
</g>
<path d="M134.6,933.2 L147.8,931 L152.2,939.8 L146.5,948.6 L158.8,949.5 L172,958.3 L165.4,970.6 L152.2,975 L139,968.4 L130.2,959.6 L141.2,953 L131.5,944.2 Z M147.8,958.3 L155.3,957.4 L154.4,964 L148.7,964.4 Z" fill="#c0533b" fill-rule="evenodd" stroke-linejoin="round" stroke="#e0a030" stroke-width="2"/>
<path d="M1009.7,935.3 L1021.1,933 L1024.9,942.2 L1020,951.4 L1030.6,952.3 L1042,961.5 L1036.3,974.4 L1024.9,979 L1013.5,972.1 L1005.9,962.9 L1015.4,956 L1007,946.8 Z M1021.1,961.5 L1027.6,960.6 L1026.8,967.5 L1021.9,968 Z" fill="#c0533b" fill-rule="evenodd" stroke-linejoin="round" stroke="#e8b040" stroke-width="2"/>
<path d="M137.9,2271.3 L151.7,2269 L156.3,2278.2 L150.3,2287.4 L163.2,2288.3 L177,2297.5 L170.1,2310.4 L156.3,2315 L142.5,2308.1 L133.3,2298.9 L144.8,2292 L134.7,2282.8 Z M151.7,2297.5 L159.5,2296.6 L158.6,2303.5 L152.6,2304 Z" fill="#e5302a" fill-rule="evenodd" stroke-linejoin="round" stroke="#f0e030" stroke-width="2"/>
<path d="M1007.9,2274.3 L1021.7,2272 L1026.3,2281.2 L1020.3,2290.4 L1033.2,2291.3 L1047,2300.5 L1040.1,2313.4 L1026.3,2318 L1012.5,2311.1 L1003.3,2301.9 L1014.8,2295 L1004.7,2285.8 Z M1021.7,2300.5 L1029.5,2299.6 L1028.6,2306.5 L1022.6,2307 Z" fill="#e5302a" fill-rule="evenodd" stroke-linejoin="round" stroke="#e8d838" stroke-width="2"/>
<g transform="translate(118.5,1280)"><ellipse rx="38.5" ry="38" fill="none" stroke="#111" stroke-width="2.6"/><g transform="rotate(-33)"><g transform="rotate(0)"><path d="M0,-45 L9,-8 L0,0 L-9,-8 Z" fill="#111"/><path d="M-1.3,-36 L-7.4,-9.6 L-5.2,-8.8 L-0.9,-28 Z" fill="#fff"/></g><g transform="rotate(90)"><path d="M0,-45 L9,-8 L0,0 L-9,-8 Z" fill="#111"/><path d="M-1.3,-36 L-7.4,-9.6 L-5.2,-8.8 L-0.9,-28 Z" fill="#fff"/></g><g transform="rotate(180)"><path d="M0,-45 L9,-8 L0,0 L-9,-8 Z" fill="#111"/><path d="M-1.3,-36 L-7.4,-9.6 L-5.2,-8.8 L-0.9,-28 Z" fill="#fff"/></g><g transform="rotate(270)"><path d="M0,-45 L9,-8 L0,0 L-9,-8 Z" fill="#111"/><path d="M-1.3,-36 L-7.4,-9.6 L-5.2,-8.8 L-0.9,-28 Z" fill="#fff"/></g><g transform="rotate(45)"><path d="M0,-30 L5.5,-5.5 L0,0 Z" fill="#111"/><path d="M0,-30 L-5.5,-5.5 L0,0 Z" fill="#fff" stroke="#111" stroke-width="1.1" stroke-linejoin="round"/></g><g transform="rotate(135)"><path d="M0,-30 L5.5,-5.5 L0,0 Z" fill="#111"/><path d="M0,-30 L-5.5,-5.5 L0,0 Z" fill="#fff" stroke="#111" stroke-width="1.1" stroke-linejoin="round"/></g><g transform="rotate(225)"><path d="M0,-30 L5.5,-5.5 L0,0 Z" fill="#111"/><path d="M0,-30 L-5.5,-5.5 L0,0 Z" fill="#fff" stroke="#111" stroke-width="1.1" stroke-linejoin="round"/></g><g transform="rotate(315)"><path d="M0,-30 L5.5,-5.5 L0,0 Z" fill="#111"/><path d="M0,-30 L-5.5,-5.5 L0,0 Z" fill="#fff" stroke="#111" stroke-width="1.1" stroke-linejoin="round"/></g></g><circle r="7.8" fill="#fff" stroke="#111" stroke-width="1.6"/><circle r="5.2" fill="#111"/><text x="0" y="0" transform="translate(-29,-45) rotate(-33)" font-family="Liberation Sans, Arial, sans-serif" font-weight="bold" font-size="16" fill="#111" text-anchor="middle" dominant-baseline="central">N</text></g>
<rect x="243.2" y="1297.4" width="116.2" height="7.6" fill="#111"/><rect x="265.2" y="1298.5" width="24.5" height="5.4" fill="#fff" stroke="#888" stroke-width="0.6"/><rect x="312" y="1298.5" width="24.6" height="5.4" fill="#fff" stroke="#888" stroke-width="0.6"/><text x="305.7" y="1290.8" font-family="Liberation Sans, Arial, sans-serif" font-weight="bold" font-style="italic" font-size="24.5" fill="#111" text-anchor="middle">10 m</text>
<rect x="475" y="1243" width="157.5" height="62" fill="#b94d3a"/><rect x="632.5" y="1243" width="157.5" height="62" fill="#d8782d"/><rect x="790" y="1243" width="157.5" height="62" fill="#efb72a"/><rect x="947.5" y="1243" width="157.5" height="62" fill="#cfd633"/><rect x="1105" y="1243" width="157.5" height="62" fill="#75b23d"/><rect x="1262.5" y="1243" width="157.5" height="62" fill="#36a55d"/><rect x="1420" y="1243" width="157.5" height="62" fill="#35737a"/><rect x="1577.5" y="1243" width="157.5" height="62" fill="#332c5a"/><rect x="475" y="1243" width="1260" height="62" fill="none" stroke="#222" stroke-width="1.8"/><rect x="631.6" y="1243" width="1.8" height="62" fill="#222"/><rect x="789.1" y="1243" width="1.8" height="62" fill="#222"/><rect x="946.6" y="1243" width="1.8" height="62" fill="#222"/><rect x="1104.1" y="1243" width="1.8" height="62" fill="#222"/><rect x="1261.6" y="1243" width="1.8" height="62" fill="#222"/><rect x="1419.1" y="1243" width="1.8" height="62" fill="#222"/><rect x="1576.6" y="1243" width="1.8" height="62" fill="#222"/><text transform="translate(632.5,1342.4) scale(1,1.07)" font-family="Liberation Sans, Arial, sans-serif" font-size="28" fill="#222" text-anchor="middle">2.5</text><text transform="translate(790,1342.4) scale(1,1.07)" font-family="Liberation Sans, Arial, sans-serif" font-size="28" fill="#222" text-anchor="middle">3.0</text><text transform="translate(947.5,1342.4) scale(1,1.07)" font-family="Liberation Sans, Arial, sans-serif" font-size="28" fill="#222" text-anchor="middle">3.5</text><text transform="translate(1105,1342.4) scale(1,1.07)" font-family="Liberation Sans, Arial, sans-serif" font-size="28" fill="#222" text-anchor="middle">4.0</text><text transform="translate(1262.5,1342.4) scale(1,1.07)" font-family="Liberation Sans, Arial, sans-serif" font-size="28" fill="#222" text-anchor="middle">4.5</text><text transform="translate(1420,1342.4) scale(1,1.07)" font-family="Liberation Sans, Arial, sans-serif" font-size="28" fill="#222" text-anchor="middle">5.0</text><text transform="translate(1577.5,1342.4) scale(1,1.07)" font-family="Liberation Sans, Arial, sans-serif" font-size="28" fill="#222" text-anchor="middle">5.5</text>
<text transform="translate(1100.5,1225.6) scale(1,1.08)" font-family="Liberation Sans, Arial, sans-serif" font-weight="bold" font-size="36.5" fill="#151515" text-anchor="middle">LAI (m<tspan font-size="18" font-weight="normal" dy="-15">2</tspan><tspan dy="15">/m</tspan><tspan font-size="18" font-weight="normal" dy="-15">2</tspan><tspan dy="15">)</tspan></text>
<g transform="translate(118.5,2619)"><ellipse rx="38.5" ry="38" fill="none" stroke="#111" stroke-width="2.6"/><g transform="rotate(-33)"><g transform="rotate(0)"><path d="M0,-45 L9,-8 L0,0 L-9,-8 Z" fill="#111"/><path d="M-1.3,-36 L-7.4,-9.6 L-5.2,-8.8 L-0.9,-28 Z" fill="#fff"/></g><g transform="rotate(90)"><path d="M0,-45 L9,-8 L0,0 L-9,-8 Z" fill="#111"/><path d="M-1.3,-36 L-7.4,-9.6 L-5.2,-8.8 L-0.9,-28 Z" fill="#fff"/></g><g transform="rotate(180)"><path d="M0,-45 L9,-8 L0,0 L-9,-8 Z" fill="#111"/><path d="M-1.3,-36 L-7.4,-9.6 L-5.2,-8.8 L-0.9,-28 Z" fill="#fff"/></g><g transform="rotate(270)"><path d="M0,-45 L9,-8 L0,0 L-9,-8 Z" fill="#111"/><path d="M-1.3,-36 L-7.4,-9.6 L-5.2,-8.8 L-0.9,-28 Z" fill="#fff"/></g><g transform="rotate(45)"><path d="M0,-30 L5.5,-5.5 L0,0 Z" fill="#111"/><path d="M0,-30 L-5.5,-5.5 L0,0 Z" fill="#fff" stroke="#111" stroke-width="1.1" stroke-linejoin="round"/></g><g transform="rotate(135)"><path d="M0,-30 L5.5,-5.5 L0,0 Z" fill="#111"/><path d="M0,-30 L-5.5,-5.5 L0,0 Z" fill="#fff" stroke="#111" stroke-width="1.1" stroke-linejoin="round"/></g><g transform="rotate(225)"><path d="M0,-30 L5.5,-5.5 L0,0 Z" fill="#111"/><path d="M0,-30 L-5.5,-5.5 L0,0 Z" fill="#fff" stroke="#111" stroke-width="1.1" stroke-linejoin="round"/></g><g transform="rotate(315)"><path d="M0,-30 L5.5,-5.5 L0,0 Z" fill="#111"/><path d="M0,-30 L-5.5,-5.5 L0,0 Z" fill="#fff" stroke="#111" stroke-width="1.1" stroke-linejoin="round"/></g></g><circle r="7.8" fill="#fff" stroke="#111" stroke-width="1.6"/><circle r="5.2" fill="#111"/><text x="0" y="0" transform="translate(-29,-45) rotate(-33)" font-family="Liberation Sans, Arial, sans-serif" font-weight="bold" font-size="16" fill="#111" text-anchor="middle" dominant-baseline="central">N</text></g>
<rect x="243.2" y="2637" width="116.2" height="7.6" fill="#111"/><rect x="265.2" y="2638.1" width="24.5" height="5.4" fill="#fff" stroke="#888" stroke-width="0.6"/><rect x="312" y="2638.1" width="24.6" height="5.4" fill="#fff" stroke="#888" stroke-width="0.6"/><text x="305.7" y="2630.4" font-family="Liberation Sans, Arial, sans-serif" font-weight="bold" font-style="italic" font-size="24.5" fill="#111" text-anchor="middle">10 m</text>
<rect x="525" y="2582.5" width="157.5" height="62.5" fill="#e52f27"/><rect x="682.5" y="2582.5" width="157.5" height="62.5" fill="#e85a28"/><rect x="840" y="2582.5" width="157.5" height="62.5" fill="#f5a229"/><rect x="997.5" y="2582.5" width="157.5" height="62.5" fill="#f0e526"/><rect x="1155" y="2582.5" width="157.5" height="62.5" fill="#b0c935"/><rect x="1312.5" y="2582.5" width="157.5" height="62.5" fill="#71b43b"/><rect x="1470" y="2582.5" width="157.5" height="62.5" fill="#439c3c"/><rect x="525" y="2582.5" width="1102.5" height="62.5" fill="none" stroke="#222" stroke-width="1.8"/><rect x="681.6" y="2582.5" width="1.8" height="62.5" fill="#222"/><rect x="839.1" y="2582.5" width="1.8" height="62.5" fill="#222"/><rect x="996.6" y="2582.5" width="1.8" height="62.5" fill="#222"/><rect x="1154.1" y="2582.5" width="1.8" height="62.5" fill="#222"/><rect x="1311.6" y="2582.5" width="1.8" height="62.5" fill="#222"/><rect x="1469.1" y="2582.5" width="1.8" height="62.5" fill="#222"/><text transform="translate(682.5,2681.5) scale(1,1.07)" font-family="Liberation Sans, Arial, sans-serif" font-size="28" fill="#222" text-anchor="middle">250</text><text transform="translate(840,2681.5) scale(1,1.07)" font-family="Liberation Sans, Arial, sans-serif" font-size="28" fill="#222" text-anchor="middle">300</text><text transform="translate(997.5,2681.5) scale(1,1.07)" font-family="Liberation Sans, Arial, sans-serif" font-size="28" fill="#222" text-anchor="middle">350</text><text transform="translate(1155,2681.5) scale(1,1.07)" font-family="Liberation Sans, Arial, sans-serif" font-size="28" fill="#222" text-anchor="middle">400</text><text transform="translate(1312.5,2681.5) scale(1,1.07)" font-family="Liberation Sans, Arial, sans-serif" font-size="28" fill="#222" text-anchor="middle">450</text><text transform="translate(1470,2681.5) scale(1,1.07)" font-family="Liberation Sans, Arial, sans-serif" font-size="28" fill="#222" text-anchor="middle">500</text>
<text transform="translate(1082,2565) scale(1,1.08)" font-family="Liberation Sans, Arial, sans-serif" font-weight="bold" font-size="36.5" fill="#151515" text-anchor="middle">LCC (mg/m<tspan font-size="18" font-weight="normal" dy="-15">2</tspan><tspan dy="15">)</tspan></text>
</svg></body></html>
